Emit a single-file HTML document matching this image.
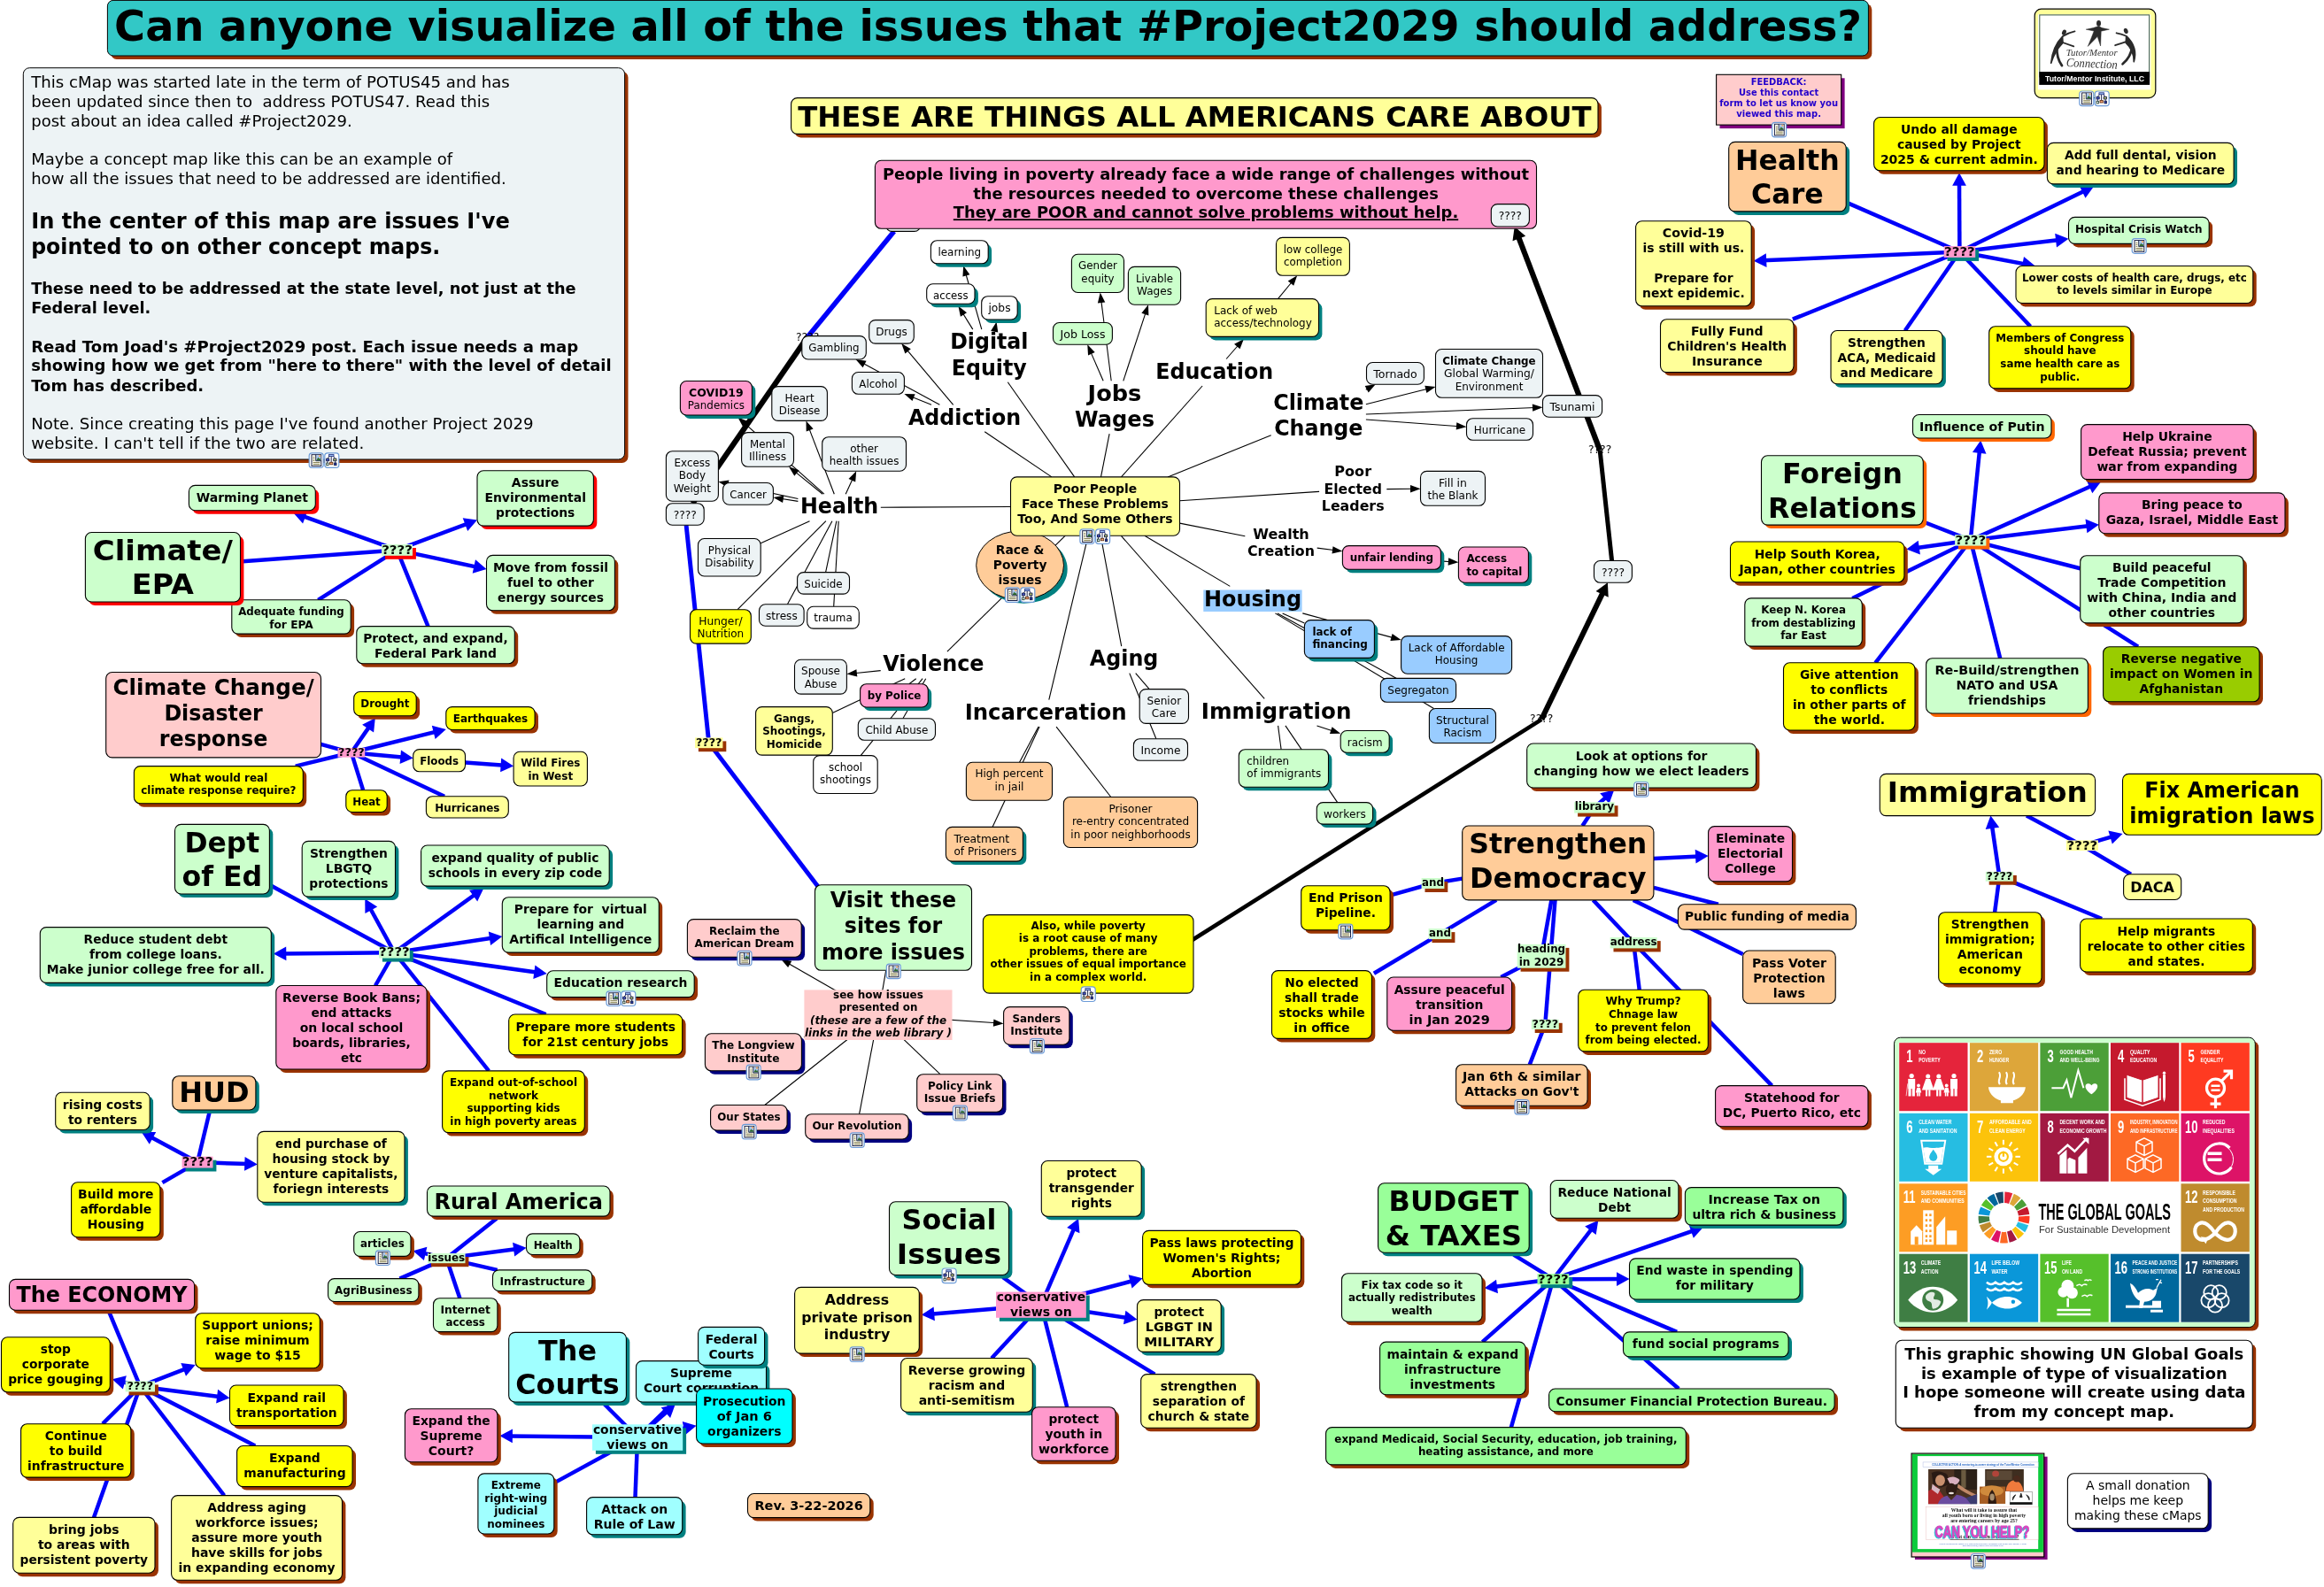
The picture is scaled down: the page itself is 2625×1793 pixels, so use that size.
<!DOCTYPE html><html><head><meta charset="utf-8"><title>Project2029 concept map</title><style>html,body{margin:0;padding:0;background:#fff}svg{display:block;font-family:'DejaVu Sans','Liberation Sans',sans-serif;will-change:transform;-webkit-font-smoothing:antialiased}</style></head><body>
<svg width="2625" height="1793" viewBox="0 0 2625 1793">
<rect width="2625" height="1793" fill="#fff"/>
<g stroke-linecap="butt">
<line x1="274.0" y1="634.2" x2="448.5" y2="621.4" stroke="#0000FA" stroke-width="4.5"/>
<line x1="448.5" y1="621.4" x2="340.7" y2="582.6" stroke="#0000FA" stroke-width="4.5"/><polygon points="331.2,579.2 347.5,576.7 342.1,591.5" fill="#0000FA"/>
<line x1="448.5" y1="621.4" x2="529.5" y2="591.1" stroke="#0000FA" stroke-width="4.5"/><polygon points="539.0,587.5 528.2,600.0 522.7,585.3" fill="#0000FA"/>
<line x1="448.5" y1="621.4" x2="539.6" y2="640.9" stroke="#0000FA" stroke-width="4.5"/><polygon points="549.5,643.1 533.7,647.7 537.0,632.3" fill="#0000FA"/>
<line x1="448.5" y1="621.4" x2="359.3" y2="677.8" stroke="#0000FA" stroke-width="4.5"/>
<line x1="448.5" y1="621.4" x2="483.5" y2="707.6" stroke="#0000FA" stroke-width="4.5"/>
<line x1="362.5" y1="840.9" x2="396.9" y2="850.3" stroke="#0000FA" stroke-width="4.5"/>
<line x1="396.9" y1="850.3" x2="418.1" y2="819.6" stroke="#0000FA" stroke-width="4.5"/><polygon points="423.8,811.2 422.1,827.6 409.1,818.7" fill="#0000FA"/>
<line x1="396.9" y1="850.3" x2="493.9" y2="826.4" stroke="#0000FA" stroke-width="4.5"/><polygon points="503.8,823.9 491.6,835.0 487.8,819.8" fill="#0000FA"/>
<line x1="396.9" y1="850.3" x2="456.6" y2="855.7" stroke="#0000FA" stroke-width="4.5"/><polygon points="466.7,856.6 451.6,863.1 453.0,847.4" fill="#0000FA"/>
<line x1="525.5" y1="861.4" x2="570.0" y2="864.8" stroke="#0000FA" stroke-width="4.5"/><polygon points="580.1,865.5 565.1,872.3 566.2,856.6" fill="#0000FA"/>
<line x1="396.9" y1="850.3" x2="333.8" y2="865.6" stroke="#0000FA" stroke-width="4.5"/>
<line x1="396.9" y1="850.3" x2="410.1" y2="892.7" stroke="#0000FA" stroke-width="4.5"/>
<line x1="396.9" y1="850.3" x2="502.0" y2="899.7" stroke="#0000FA" stroke-width="4.5"/>
<line x1="306.9" y1="1001.1" x2="445.4" y2="1076.2" stroke="#0000FA" stroke-width="4.5"/>
<line x1="445.4" y1="1076.2" x2="417.2" y2="1024.5" stroke="#0000FA" stroke-width="4.5"/><polygon points="412.3,1015.6 426.2,1024.6 412.4,1032.1" fill="#0000FA"/>
<line x1="445.4" y1="1076.2" x2="538.1" y2="1009.5" stroke="#0000FA" stroke-width="4.5"/><polygon points="546.4,1003.6 539.2,1018.4 530.0,1005.7" fill="#0000FA"/>
<line x1="445.4" y1="1076.2" x2="557.3" y2="1059.6" stroke="#0000FA" stroke-width="4.5"/><polygon points="567.3,1058.1 554.1,1068.0 551.8,1052.4" fill="#0000FA"/>
<line x1="445.4" y1="1076.2" x2="318.9" y2="1077.5" stroke="#0000FA" stroke-width="4.5"/><polygon points="308.8,1077.6 323.2,1069.6 323.4,1085.3" fill="#0000FA"/>
<line x1="445.4" y1="1076.2" x2="607.6" y2="1098.7" stroke="#0000FA" stroke-width="4.5"/><polygon points="617.7,1100.1 602.3,1105.9 604.4,1090.4" fill="#0000FA"/>
<line x1="445.4" y1="1076.2" x2="424.0" y2="1113.5" stroke="#0000FA" stroke-width="4.5"/>
<line x1="445.4" y1="1076.2" x2="616.6" y2="1146.0" stroke="#0000FA" stroke-width="4.5"/>
<line x1="445.4" y1="1076.2" x2="552.1" y2="1209.9" stroke="#0000FA" stroke-width="4.5"/>
<line x1="236.6" y1="1256.5" x2="223.1" y2="1313.1" stroke="#0000FA" stroke-width="4.5"/>
<line x1="223.1" y1="1313.1" x2="168.7" y2="1283.8" stroke="#0000FA" stroke-width="4.5"/><polygon points="159.8,1279.0 176.2,1279.0 168.8,1292.8" fill="#0000FA"/>
<line x1="223.1" y1="1313.1" x2="280.7" y2="1315.1" stroke="#0000FA" stroke-width="4.5"/><polygon points="290.8,1315.4 276.0,1322.8 276.6,1307.1" fill="#0000FA"/>
<line x1="223.1" y1="1313.1" x2="183.4" y2="1336.1" stroke="#0000FA" stroke-width="4.5"/>
<line x1="561.1" y1="1376.6" x2="504.2" y2="1421.6" stroke="#0000FA" stroke-width="4.5"/>
<line x1="504.2" y1="1421.6" x2="476.4" y2="1415.4" stroke="#0000FA" stroke-width="4.5"/><polygon points="466.5,1413.2 482.4,1408.7 478.9,1424.0" fill="#0000FA"/>
<line x1="504.2" y1="1421.6" x2="584.4" y2="1411.0" stroke="#0000FA" stroke-width="4.5"/><polygon points="594.5,1409.7 581.2,1419.4 579.1,1403.8" fill="#0000FA"/>
<line x1="504.2" y1="1421.6" x2="561.7" y2="1434.9" stroke="#0000FA" stroke-width="4.5"/>
<line x1="504.2" y1="1421.6" x2="451.5" y2="1444.6" stroke="#0000FA" stroke-width="4.5"/>
<line x1="504.2" y1="1421.6" x2="519.4" y2="1466.7" stroke="#0000FA" stroke-width="4.5"/>
<line x1="123.4" y1="1482.7" x2="158.3" y2="1566.4" stroke="#0000FA" stroke-width="4.5"/>
<line x1="158.3" y1="1566.4" x2="136.6" y2="1560.8" stroke="#0000FA" stroke-width="4.5"/><polygon points="126.8,1558.3 142.8,1554.3 138.9,1569.5" fill="#0000FA"/>
<line x1="158.3" y1="1566.4" x2="211.2" y2="1545.8" stroke="#0000FA" stroke-width="4.5"/><polygon points="220.7,1542.1 210.0,1554.7 204.3,1540.1" fill="#0000FA"/>
<line x1="158.3" y1="1566.4" x2="249.4" y2="1578.2" stroke="#0000FA" stroke-width="4.5"/><polygon points="259.5,1579.5 244.1,1585.4 246.1,1569.8" fill="#0000FA"/>
<line x1="158.3" y1="1566.4" x2="116.0" y2="1608.7" stroke="#0000FA" stroke-width="4.5"/>
<line x1="158.3" y1="1566.4" x2="106.0" y2="1714.4" stroke="#0000FA" stroke-width="4.5"/>
<line x1="158.3" y1="1566.4" x2="288.2" y2="1633.5" stroke="#0000FA" stroke-width="4.5"/>
<line x1="158.3" y1="1566.4" x2="253.2" y2="1689.6" stroke="#0000FA" stroke-width="4.5"/>
<line x1="682.7" y1="1586.5" x2="720.1" y2="1624.0" stroke="#0000FA" stroke-width="4.5"/>
<line x1="720.1" y1="1624.0" x2="794.3" y2="1551.8" stroke="#0000FA" stroke-width="4.5"/><polygon points="801.6,1544.7 796.7,1560.4 785.7,1549.2" fill="#0000FA"/>
<line x1="720.1" y1="1624.0" x2="755.2" y2="1593.2" stroke="#0000FA" stroke-width="4.5"/><polygon points="762.8,1586.5 757.1,1602.0 746.7,1590.2" fill="#0000FA"/>
<line x1="720.1" y1="1624.0" x2="776.6" y2="1612.8" stroke="#0000FA" stroke-width="4.5"/><polygon points="786.6,1610.8 773.9,1621.3 770.8,1605.9" fill="#0000FA"/>
<line x1="720.1" y1="1624.0" x2="574.5" y2="1622.4" stroke="#0000FA" stroke-width="4.5"/><polygon points="564.4,1622.3 579.0,1614.6 578.8,1630.3" fill="#0000FA"/>
<line x1="720.1" y1="1624.0" x2="628.3" y2="1674.1" stroke="#0000FA" stroke-width="4.5"/>
<line x1="720.1" y1="1624.0" x2="717.5" y2="1691.6" stroke="#0000FA" stroke-width="4.5"/>
<line x1="1141.5" y1="572.5" x2="994.8" y2="573.2" stroke="#000" stroke-width="1.1"/>
<line x1="1187.9" y1="538.9" x2="1112.2" y2="487.8" stroke="#000" stroke-width="1.1"/>
<line x1="1213.7" y1="538.9" x2="1138.3" y2="431.8" stroke="#000" stroke-width="1.1"/>
<line x1="1243.5" y1="538.9" x2="1253.1" y2="490.2" stroke="#000" stroke-width="1.1"/>
<line x1="1266.5" y1="538.9" x2="1358.1" y2="436.0" stroke="#000" stroke-width="1.1"/>
<line x1="1319.0" y1="538.9" x2="1435.7" y2="491.7" stroke="#000" stroke-width="1.1"/>
<line x1="1332.5" y1="565.8" x2="1490.1" y2="555.4" stroke="#000" stroke-width="1.1"/>
<line x1="1332.5" y1="591.1" x2="1406.3" y2="605.8" stroke="#000" stroke-width="1.1"/>
<line x1="1292.9" y1="605.2" x2="1389.3" y2="662.4" stroke="#000" stroke-width="1.1"/>
<line x1="1266.2" y1="605.2" x2="1428.2" y2="789.4" stroke="#000" stroke-width="1.1"/>
<line x1="1243.2" y1="605.2" x2="1266.7" y2="730.1" stroke="#000" stroke-width="1.1"/>
<line x1="1229.1" y1="605.2" x2="1184.8" y2="790.6" stroke="#000" stroke-width="1.1"/>
<line x1="1203.3" y1="605.2" x2="1069.9" y2="736.2" stroke="#000" stroke-width="1.1"/>
<line x1="930.9" y1="558.2" x2="839.4" y2="476.8" stroke="#000" stroke-width="1.1"/><polygon points="833.4,471.5 844.8,476.0 839.2,482.3" fill="#000"/>
<line x1="942.3" y1="558.2" x2="913.4" y2="482.9" stroke="#000" stroke-width="1.1"/><polygon points="910.5,475.4 918.6,484.6 910.7,487.6" fill="#000"/>
<line x1="929.2" y1="558.2" x2="897.3" y2="532.4" stroke="#000" stroke-width="1.1"/><polygon points="891.0,527.3 902.6,531.3 897.3,537.8" fill="#000"/>
<line x1="955.2" y1="558.2" x2="963.8" y2="539.5" stroke="#000" stroke-width="1.1"/><polygon points="967.2,532.2 966.2,544.4 958.5,540.9" fill="#000"/>
<line x1="901.4" y1="563.5" x2="819.3" y2="545.9" stroke="#000" stroke-width="1.1"/><polygon points="811.4,544.2 823.5,542.5 821.8,550.8" fill="#000"/>
<line x1="901.4" y1="566.4" x2="881.4" y2="563.3" stroke="#000" stroke-width="1.1"/><polygon points="873.4,562.1 885.4,559.7 884.1,568.0" fill="#000"/>
<line x1="914.5" y1="588.7" x2="859.2" y2="613.7" stroke="#000" stroke-width="1.1"/>
<line x1="944.9" y1="588.7" x2="932.6" y2="646.6" stroke="#000" stroke-width="1.1"/>
<line x1="939.9" y1="588.7" x2="889.4" y2="682.8" stroke="#000" stroke-width="1.1"/>
<line x1="947.2" y1="588.7" x2="941.7" y2="685.3" stroke="#000" stroke-width="1.1"/>
<line x1="932.9" y1="588.7" x2="833.1" y2="688.7" stroke="#000" stroke-width="1.1"/>
<line x1="1076.7" y1="457.3" x2="1023.4" y2="394.2" stroke="#000" stroke-width="1.1"/><polygon points="1018.2,388.1 1028.8,394.2 1022.4,399.6" fill="#000"/>
<line x1="1061.4" y1="457.3" x2="973.6" y2="409.8" stroke="#000" stroke-width="1.1"/><polygon points="966.5,406.0 978.6,407.8 974.6,415.2" fill="#000"/>
<line x1="1052.0" y1="457.3" x2="1028.9" y2="447.9" stroke="#000" stroke-width="1.1"/><polygon points="1021.4,444.9 1033.6,445.3 1030.5,453.1" fill="#000"/>
<line x1="1108.8" y1="372.1" x2="1090.5" y2="308.0" stroke="#000" stroke-width="1.1"/><polygon points="1088.2,300.3 1095.4,310.2 1087.4,312.5" fill="#000"/>
<line x1="1098.8" y1="372.1" x2="1086.6" y2="352.5" stroke="#000" stroke-width="1.1"/><polygon points="1082.4,345.7 1092.0,353.3 1084.9,357.7" fill="#000"/>
<line x1="1123.7" y1="372.1" x2="1123.9" y2="371.4" stroke="#000" stroke-width="1.1"/><polygon points="1125.6,363.5 1127.3,375.6 1119.1,373.9" fill="#000"/>
<line x1="1255.2" y1="430.3" x2="1243.7" y2="338.5" stroke="#000" stroke-width="1.1"/><polygon points="1242.7,330.5 1248.3,341.4 1239.9,342.4" fill="#000"/>
<line x1="1268.8" y1="430.3" x2="1294.5" y2="351.9" stroke="#000" stroke-width="1.1"/><polygon points="1297.0,344.2 1297.4,356.4 1289.4,353.8" fill="#000"/>
<line x1="1246.1" y1="430.3" x2="1231.5" y2="396.6" stroke="#000" stroke-width="1.1"/><polygon points="1228.3,389.2 1236.7,398.1 1229.0,401.4" fill="#000"/>
<line x1="1385.1" y1="405.5" x2="1399.6" y2="389.0" stroke="#000" stroke-width="1.1"/><polygon points="1404.9,382.9 1400.5,394.3 1394.1,388.8" fill="#000"/>
<line x1="1443.5" y1="337.6" x2="1460.1" y2="317.5" stroke="#000" stroke-width="1.1"/><polygon points="1465.2,311.3 1461.2,322.8 1454.7,317.5" fill="#000"/>
<line x1="1542.8" y1="440.3" x2="1546.7" y2="438.1" stroke="#000" stroke-width="1.1"/><polygon points="1553.7,434.2 1545.7,443.5 1541.7,436.1" fill="#000"/>
<line x1="1542.9" y1="456.7" x2="1613.7" y2="439.0" stroke="#000" stroke-width="1.1"/><polygon points="1621.5,437.0 1611.4,443.9 1609.3,435.7" fill="#000"/>
<line x1="1542.9" y1="468.0" x2="1734.5" y2="460.5" stroke="#000" stroke-width="1.1"/><polygon points="1742.5,460.2 1731.2,464.8 1730.8,456.5" fill="#000"/>
<line x1="1542.9" y1="474.0" x2="1648.5" y2="481.7" stroke="#000" stroke-width="1.1"/><polygon points="1656.5,482.3 1644.7,485.6 1645.3,477.2" fill="#000"/>
<line x1="1566.3" y1="552.6" x2="1596.5" y2="552.3" stroke="#000" stroke-width="1.1"/><polygon points="1604.5,552.2 1593.0,556.5 1593.0,548.1" fill="#000"/>
<line x1="1487.7" y1="619.1" x2="1508.4" y2="621.8" stroke="#000" stroke-width="1.1"/><polygon points="1516.4,622.8 1504.5,625.5 1505.5,617.2" fill="#000"/>
<line x1="1629.9" y1="634.1" x2="1639.4" y2="634.7" stroke="#000" stroke-width="1.1"/><polygon points="1647.4,635.3 1635.6,638.7 1636.2,630.3" fill="#000"/>
<line x1="1448.6" y1="692.9" x2="1473.4" y2="704.1" stroke="#000" stroke-width="1.1"/>
<line x1="1471.3" y1="692.9" x2="1574.8" y2="720.9" stroke="#000" stroke-width="1.1"/><polygon points="1582.6,723.0 1570.4,724.0 1572.6,715.9" fill="#000"/>
<line x1="1442.9" y1="692.9" x2="1577.4" y2="766.4" stroke="#000" stroke-width="1.1"/>
<line x1="1440.4" y1="692.9" x2="1619.5" y2="800.5" stroke="#000" stroke-width="1.1"/>
<line x1="1487.5" y1="819.9" x2="1506.6" y2="826.2" stroke="#000" stroke-width="1.1"/><polygon points="1514.2,828.8 1502.0,829.1 1504.6,821.2" fill="#000"/>
<line x1="1443.6" y1="819.9" x2="1447.1" y2="846.7" stroke="#000" stroke-width="1.1"/>
<line x1="1451.9" y1="819.9" x2="1510.7" y2="906.6" stroke="#000" stroke-width="1.1"/>
<line x1="1282.7" y1="760.6" x2="1298.2" y2="778.6" stroke="#000" stroke-width="1.1"/>
<line x1="1275.8" y1="760.6" x2="1305.9" y2="834.7" stroke="#000" stroke-width="1.1"/>
<line x1="1173.0" y1="821.1" x2="1151.5" y2="861.3" stroke="#000" stroke-width="1.1"/>
<line x1="1174.1" y1="821.1" x2="1121.0" y2="934.4" stroke="#000" stroke-width="1.1"/>
<line x1="1193.1" y1="821.1" x2="1254.8" y2="900.5" stroke="#000" stroke-width="1.1"/>
<line x1="994.7" y1="757.6" x2="964.4" y2="760.8" stroke="#000" stroke-width="1.1"/><polygon points="956.4,761.6 967.4,756.3 968.3,764.6" fill="#000"/>
<line x1="1034.7" y1="766.7" x2="1026.9" y2="772.7" stroke="#000" stroke-width="1.1"/>
<line x1="1022.2" y1="766.7" x2="940.3" y2="805.4" stroke="#000" stroke-width="1.1"/>
<line x1="1045.7" y1="766.7" x2="1019.9" y2="811.8" stroke="#000" stroke-width="1.1"/>
<line x1="1042.1" y1="766.7" x2="972.2" y2="853.6" stroke="#000" stroke-width="1.1"/>
<line x1="1009.8" y1="261.4" x2="912.1" y2="380.7" stroke="#0000FA" stroke-width="5.6"/>
<line x1="912.1" y1="380.7" x2="782.3" y2="568.7" stroke="#000" stroke-width="6.2"/>
<line x1="775.1" y1="593.2" x2="800.7" y2="839.3" stroke="#0000FA" stroke-width="4.9"/>
<line x1="800.7" y1="839.3" x2="925.0" y2="1003.0" stroke="#0000FA" stroke-width="4.9"/>
<line x1="1340.0" y1="1066.3" x2="1741.2" y2="812.9" stroke="#000" stroke-width="4.6"/>
<line x1="1741.2" y1="812.6" x2="1811.5" y2="667.4" stroke="#000" stroke-width="6.0"/><polygon points="1815.9,658.3 1816.7,674.8 1802.6,667.9" fill="#000"/>
<line x1="1820.6" y1="633.5" x2="1807.1" y2="508.6" stroke="#000" stroke-width="5.0"/>
<line x1="1807.1" y1="508.6" x2="1714.3" y2="265.5" stroke="#000" stroke-width="6.2"/><polygon points="1710.7,256.0 1723.2,266.7 1708.5,272.3" fill="#000"/>
<line x1="1000.7" y1="1096.3" x2="992.0" y2="1146.7" stroke="#000" stroke-width="1.1"/>
<line x1="992.0" y1="1146.7" x2="889.2" y2="1087.7" stroke="#000" stroke-width="1.1"/><polygon points="882.2,1083.7 894.3,1085.8 890.1,1093.1" fill="#000"/>
<line x1="992.0" y1="1146.7" x2="1125.6" y2="1155.8" stroke="#000" stroke-width="1.1"/><polygon points="1133.6,1156.4 1121.8,1159.8 1122.4,1151.4" fill="#000"/>
<line x1="992.0" y1="1146.7" x2="907.9" y2="1171.8" stroke="#000" stroke-width="1.1"/>
<line x1="992.0" y1="1146.7" x2="863.8" y2="1248.5" stroke="#000" stroke-width="1.1"/>
<line x1="992.0" y1="1146.7" x2="970.6" y2="1258.7" stroke="#000" stroke-width="1.1"/>
<line x1="992.0" y1="1146.7" x2="1061.9" y2="1213.7" stroke="#000" stroke-width="1.1"/>
<line x1="1132.7" y1="1443.0" x2="1175.9" y2="1474.2" stroke="#0000FA" stroke-width="4.5"/>
<line x1="1175.9" y1="1474.2" x2="1214.0" y2="1386.1" stroke="#0000FA" stroke-width="4.5"/><polygon points="1218.1,1376.8 1219.5,1393.2 1205.1,1387.0" fill="#0000FA"/>
<line x1="1175.9" y1="1474.2" x2="1280.8" y2="1446.8" stroke="#0000FA" stroke-width="4.5"/><polygon points="1290.6,1444.2 1278.6,1455.5 1274.6,1440.3" fill="#0000FA"/>
<line x1="1175.9" y1="1474.2" x2="1274.5" y2="1489.2" stroke="#0000FA" stroke-width="4.5"/><polygon points="1284.5,1490.8 1269.0,1496.3 1271.4,1480.8" fill="#0000FA"/>
<line x1="1175.9" y1="1474.2" x2="1050.9" y2="1484.7" stroke="#0000FA" stroke-width="4.5"/><polygon points="1040.8,1485.6 1054.6,1476.6 1055.9,1492.2" fill="#0000FA"/>
<line x1="1175.9" y1="1474.2" x2="1120.1" y2="1534.5" stroke="#0000FA" stroke-width="4.5"/>
<line x1="1175.9" y1="1474.2" x2="1205.2" y2="1589.7" stroke="#0000FA" stroke-width="4.5"/>
<line x1="1175.9" y1="1474.2" x2="1304.3" y2="1552.6" stroke="#0000FA" stroke-width="4.5"/>
<line x1="2087.7" y1="229.6" x2="2213.4" y2="284.5" stroke="#0000FA" stroke-width="4.5"/>
<line x1="2213.4" y1="284.5" x2="2213.0" y2="205.4" stroke="#0000FA" stroke-width="4.5"/><polygon points="2213.0,195.3 2220.9,209.8 2205.2,209.8" fill="#0000FA"/>
<line x1="2213.4" y1="284.5" x2="2355.9" y2="214.9" stroke="#0000FA" stroke-width="4.5"/><polygon points="2365.1,210.4 2355.5,223.8 2348.6,209.7" fill="#0000FA"/>
<line x1="2213.4" y1="284.5" x2="2326.4" y2="271.0" stroke="#0000FA" stroke-width="4.5"/><polygon points="2336.5,269.8 2323.0,279.4 2321.2,263.8" fill="#0000FA"/>
<line x1="2213.4" y1="284.5" x2="2288.9" y2="298.6" stroke="#0000FA" stroke-width="4.5"/><polygon points="2298.8,300.5 2283.1,305.5 2286.0,290.1" fill="#0000FA"/>
<line x1="2213.4" y1="284.5" x2="1990.8" y2="294.3" stroke="#0000FA" stroke-width="4.5"/><polygon points="1980.7,294.8 1994.8,286.3 1995.5,302.0" fill="#0000FA"/>
<line x1="2213.4" y1="284.5" x2="2024.9" y2="360.7" stroke="#0000FA" stroke-width="4.5"/>
<line x1="2213.4" y1="284.5" x2="2151.8" y2="373.5" stroke="#0000FA" stroke-width="4.5"/>
<line x1="2213.4" y1="284.5" x2="2293.4" y2="368.7" stroke="#0000FA" stroke-width="4.5"/>
<line x1="2174.8" y1="590.5" x2="2225.8" y2="610.4" stroke="#0000FA" stroke-width="4.5"/>
<line x1="2225.8" y1="610.4" x2="2236.1" y2="507.6" stroke="#0000FA" stroke-width="4.5"/><polygon points="2237.2,497.5 2243.5,512.7 2227.9,511.1" fill="#0000FA"/>
<line x1="2225.8" y1="610.4" x2="2364.1" y2="548.3" stroke="#0000FA" stroke-width="4.5"/><polygon points="2373.3,544.1 2363.3,557.2 2356.9,542.9" fill="#0000FA"/>
<line x1="2225.8" y1="610.4" x2="2360.7" y2="593.9" stroke="#0000FA" stroke-width="4.5"/><polygon points="2370.8,592.7 2357.4,602.2 2355.5,586.6" fill="#0000FA"/>
<line x1="2225.8" y1="610.4" x2="2163.4" y2="619.2" stroke="#0000FA" stroke-width="4.5"/><polygon points="2153.4,620.6 2166.7,610.8 2168.9,626.4" fill="#0000FA"/>
<line x1="2225.8" y1="610.4" x2="2349.7" y2="642.2" stroke="#0000FA" stroke-width="4.5"/>
<line x1="2225.8" y1="610.4" x2="2092.3" y2="675.9" stroke="#0000FA" stroke-width="4.5"/>
<line x1="2225.8" y1="610.4" x2="2118.3" y2="748.8" stroke="#0000FA" stroke-width="4.5"/>
<line x1="2225.8" y1="610.4" x2="2259.2" y2="743.7" stroke="#0000FA" stroke-width="4.5"/>
<line x1="2225.8" y1="610.4" x2="2415.0" y2="730.7" stroke="#0000FA" stroke-width="4.5"/>
<line x1="1787.4" y1="933.0" x2="1800.9" y2="912.4" stroke="#0000FA" stroke-width="4.5"/>
<line x1="1800.9" y1="912.4" x2="1815.7" y2="899.3" stroke="#0000FA" stroke-width="4.5"/><polygon points="1823.2,892.5 1817.6,908.0 1807.2,896.3" fill="#0000FA"/>
<line x1="1867.9" y1="969.9" x2="1919.5" y2="967.5" stroke="#0000FA" stroke-width="4.5"/><polygon points="1929.6,967.0 1915.5,975.5 1914.7,959.8" fill="#0000FA"/>
<line x1="1651.7" y1="992.6" x2="1618.5" y2="998.0" stroke="#0000FA" stroke-width="4.5"/>
<line x1="1618.5" y1="998.0" x2="1572.6" y2="1010.9" stroke="#0000FA" stroke-width="4.5"/>
<line x1="1690.1" y1="1016.9" x2="1626.5" y2="1055.1" stroke="#0000FA" stroke-width="4.5"/>
<line x1="1626.5" y1="1055.1" x2="1551.9" y2="1099.7" stroke="#0000FA" stroke-width="4.5"/>
<line x1="1752.4" y1="1016.9" x2="1741.1" y2="1080.3" stroke="#0000FA" stroke-width="4.5"/>
<line x1="1741.1" y1="1080.3" x2="1695.4" y2="1104.0" stroke="#0000FA" stroke-width="4.5"/>
<line x1="1756.5" y1="1016.9" x2="1745.3" y2="1157.4" stroke="#0000FA" stroke-width="4.5"/>
<line x1="1745.3" y1="1157.4" x2="1727.8" y2="1202.7" stroke="#0000FA" stroke-width="4.5"/>
<line x1="1799.5" y1="1016.9" x2="1845.2" y2="1065.2" stroke="#0000FA" stroke-width="4.5"/>
<line x1="1845.2" y1="1065.2" x2="1851.7" y2="1118.2" stroke="#0000FA" stroke-width="4.5"/>
<line x1="1845.2" y1="1065.2" x2="2001.4" y2="1226.6" stroke="#0000FA" stroke-width="4.5"/>
<line x1="1867.9" y1="1002.9" x2="1940.9" y2="1021.7" stroke="#0000FA" stroke-width="4.5"/>
<line x1="1844.8" y1="1016.9" x2="1968.6" y2="1078.0" stroke="#0000FA" stroke-width="4.5"/>
<line x1="2258.4" y1="990.3" x2="2249.8" y2="931.6" stroke="#0000FA" stroke-width="4.5"/><polygon points="2248.4,921.6 2258.2,934.8 2242.7,937.1" fill="#0000FA"/>
<line x1="2253.1" y1="1030.7" x2="2258.4" y2="990.3" stroke="#0000FA" stroke-width="4.5"/>
<line x1="2258.4" y1="990.3" x2="2374.1" y2="1038.0" stroke="#0000FA" stroke-width="4.5"/>
<line x1="2289.0" y1="921.6" x2="2351.9" y2="955.2" stroke="#0000FA" stroke-width="4.5"/>
<line x1="2351.9" y1="955.2" x2="2387.8" y2="944.7" stroke="#0000FA" stroke-width="4.5"/><polygon points="2397.5,941.9 2385.8,953.5 2381.4,938.4" fill="#0000FA"/>
<line x1="2351.9" y1="955.2" x2="2406.9" y2="987.8" stroke="#0000FA" stroke-width="4.5"/>
<line x1="1709.7" y1="1417.7" x2="1754.4" y2="1445.2" stroke="#0000FA" stroke-width="4.5"/>
<line x1="1754.4" y1="1445.2" x2="1799.1" y2="1386.9" stroke="#0000FA" stroke-width="4.5"/><polygon points="1805.3,1378.8 1802.7,1395.1 1790.2,1385.5" fill="#0000FA"/>
<line x1="1754.4" y1="1445.2" x2="1914.3" y2="1389.9" stroke="#0000FA" stroke-width="4.5"/><polygon points="1923.9,1386.6 1912.8,1398.8 1907.7,1383.9" fill="#0000FA"/>
<line x1="1754.4" y1="1445.2" x2="1830.4" y2="1445.1" stroke="#0000FA" stroke-width="4.5"/><polygon points="1840.5,1445.1 1826.0,1453.0 1826.0,1437.3" fill="#0000FA"/>
<line x1="1754.4" y1="1445.2" x2="1686.7" y2="1454.0" stroke="#0000FA" stroke-width="4.5"/><polygon points="1676.6,1455.3 1690.0,1445.7 1692.0,1461.2" fill="#0000FA"/>
<line x1="1754.4" y1="1445.2" x2="1894.1" y2="1504.9" stroke="#0000FA" stroke-width="4.5"/>
<line x1="1754.4" y1="1445.2" x2="1896.1" y2="1569.0" stroke="#0000FA" stroke-width="4.5"/>
<line x1="1754.4" y1="1445.2" x2="1674.4" y2="1516.1" stroke="#0000FA" stroke-width="4.5"/>
<line x1="1754.4" y1="1445.2" x2="1706.9" y2="1612.6" stroke="#0000FA" stroke-width="4.5"/>
</g>
<rect x="125.3" y="4.4" width="1989.0" height="62.6" rx="6.5" fill="#993300"/><rect x="121.4" y="0.4" width="1989.0" height="62.6" rx="6.5" fill="#32C8C6" stroke="#000" stroke-width="1"/><text x="129.1" y="46.1" font-size="48" font-weight="bold" textLength="1974" lengthAdjust="spacingAndGlyphs">Can anyone visualize all of the issues that #Project2029 should address?</text>
<rect x="30.2" y="80.7" width="679.3" height="442.3" rx="7" fill="#993300"/><rect x="26.3" y="76.7" width="679.3" height="442.3" rx="7" fill="#EDF3F5" stroke="#000" stroke-width="1"/><text x="35.2" y="98.8" font-size="18" font-weight="normal" textLength="540.6" lengthAdjust="spacingAndGlyphs" xml:space="preserve">This cMap was started late in the term of POTUS45 and has</text><text x="35.2" y="120.8" font-size="18" font-weight="normal" textLength="518.0" lengthAdjust="spacingAndGlyphs" xml:space="preserve">been updated since then to  address POTUS47. Read this</text><text x="35.2" y="142.9" font-size="18" font-weight="normal" textLength="362.5" lengthAdjust="spacingAndGlyphs" xml:space="preserve">post about an idea called #Project2029.</text><text x="35.2" y="186.3" font-size="18" font-weight="normal" textLength="476.0" lengthAdjust="spacingAndGlyphs" xml:space="preserve">Maybe a concept map like this can be an example of</text><text x="35.2" y="208.4" font-size="18" font-weight="normal" textLength="536.5" lengthAdjust="spacingAndGlyphs" xml:space="preserve">how all the issues that need to be addressed are identified.</text><text x="35.2" y="257.5" font-size="24" font-weight="bold" textLength="540.6" lengthAdjust="spacingAndGlyphs" xml:space="preserve">In the center of this map are issues I've</text><text x="35.2" y="286.6" font-size="24" font-weight="bold" textLength="462.0" lengthAdjust="spacingAndGlyphs" xml:space="preserve">pointed to on other concept maps.</text><text x="35.2" y="331.9" font-size="18" font-weight="bold" textLength="615.4" lengthAdjust="spacingAndGlyphs" xml:space="preserve">These need to be addressed at the state level, not just at the</text><text x="35.2" y="354.0" font-size="18" font-weight="bold" textLength="135.0" lengthAdjust="spacingAndGlyphs" xml:space="preserve">Federal level.</text><text x="35.2" y="397.8" font-size="18" font-weight="bold" textLength="618.0" lengthAdjust="spacingAndGlyphs" xml:space="preserve">Read Tom Joad's #Project2029 post. Each issue needs a map</text><text x="35.2" y="419.4" font-size="18" font-weight="bold" textLength="655.5" lengthAdjust="spacingAndGlyphs" xml:space="preserve">showing how we get from "here to there" with the level of detail</text><text x="35.2" y="441.5" font-size="18" font-weight="bold" textLength="195.0" lengthAdjust="spacingAndGlyphs" xml:space="preserve">Tom has described.</text><text x="35.2" y="485.3" font-size="18" font-weight="normal" textLength="567.5" lengthAdjust="spacingAndGlyphs" xml:space="preserve">Note. Since creating this page I've found another Project 2029</text><text x="35.2" y="507.0" font-size="18" font-weight="normal" textLength="376.0" lengthAdjust="spacingAndGlyphs" xml:space="preserve">website. I can't tell if the two are related.</text>
<rect x="2143.4" y="1176.2" width="407.8" height="327.4" rx="7" fill="#993300"/><rect x="2139.5" y="1172.2" width="407.8" height="327.4" rx="7" fill="#CCFFCC" stroke="#000" stroke-width="1"/><rect x="2144.7" y="1177.8" width="396.5" height="316.2" fill="#fff"/><g transform="translate(2145.2,1178.2)"><rect width="77.3" height="77" fill="#E5243B"/><text x="8" y="22" font-size="21" font-weight="bold" fill="#fff" font-family="'Liberation Sans',sans-serif" transform="translate(8 0) scale(0.62 1) translate(-8 0)">1</text><text x="22" y="12.4" font-size="7.8" font-weight="bold" fill="#fff" font-family="'Liberation Sans',sans-serif" transform="translate(22 0) scale(0.66 1) translate(-22 0)">NO</text><text x="22" y="21.9" font-size="7.8" font-weight="bold" fill="#fff" font-family="'Liberation Sans',sans-serif" transform="translate(22 0) scale(0.66 1) translate(-22 0)">POVERTY</text><g fill="#fff"><circle cx="14" cy="37.300" r="2.600"/><rect x="10" y="40.700" width="8" height="11.200"/><rect x="10.3" y="51.500" width="3.100" height="8.800"/><rect x="14.6" y="51.500" width="3.100" height="8.800"/><circle cx="21.8" cy="48.300" r="1.900"/><path d="M20 50.700h3.600l1.400 5.600h-6.400z"/><rect x="19.9" y="56" width="1.600" height="4.300"/><rect x="22.1" y="56" width="1.600" height="4.300"/><circle cx="32.5" cy="37.700" r="2.500"/><path d="M30 40.700h5l4.300 12.600h-13.600z"/><rect x="29.8" y="53" width="2.100" height="7.300"/><rect x="33.1" y="53" width="2.100" height="7.300"/><circle cx="44.6" cy="37.700" r="2.500"/><path d="M42.1 40.700h5l4.300 12.600h-13.600z"/><rect x="41.9" y="53" width="2.100" height="7.300"/><rect x="45.2" y="53" width="2.100" height="7.300"/><circle cx="53.5" cy="48.300" r="1.900"/><path d="M51.7 50.700h3.600l1.400 5.600h-6.400z"/><rect x="51.6" y="56" width="1.600" height="4.300"/><rect x="53.8" y="56" width="1.600" height="4.300"/><circle cx="61.8" cy="37.300" r="2.600"/><rect x="57.8" y="40.700" width="8" height="11.200"/><rect x="58.1" y="51.500" width="3.100" height="8.800"/><rect x="62.4" y="51.500" width="3.100" height="8.800"/><path d="M9.600 46l-1.700 14" stroke="#fff" stroke-width="0.700"/></g></g><g transform="translate(2224.9,1178.2)"><rect width="77.3" height="77" fill="#DDA63A"/><text x="8" y="22" font-size="21" font-weight="bold" fill="#fff" font-family="'Liberation Sans',sans-serif" transform="translate(8 0) scale(0.62 1) translate(-8 0)">2</text><text x="22" y="12.4" font-size="7.8" font-weight="bold" fill="#fff" font-family="'Liberation Sans',sans-serif" transform="translate(22 0) scale(0.66 1) translate(-22 0)">ZERO</text><text x="22" y="21.9" font-size="7.8" font-weight="bold" fill="#fff" font-family="'Liberation Sans',sans-serif" transform="translate(22 0) scale(0.66 1) translate(-22 0)">HUNGER</text><path d="M21 50h42c-1 9-9 14-14 15v3h-14v-3c-5-1-13-6-14-15z" fill="#fff"/><path d="M34 47c-4-5 3-8-1-14M42 47c-4-5 3-8-1-14M50 47c-4-5 3-8-1-14" stroke="#fff" stroke-width="2" fill="none"/></g><g transform="translate(2304.4,1178.2)"><rect width="77.3" height="77" fill="#4C9F38"/><text x="8" y="22" font-size="21" font-weight="bold" fill="#fff" font-family="'Liberation Sans',sans-serif" transform="translate(8 0) scale(0.62 1) translate(-8 0)">3</text><text x="22" y="12.4" font-size="7.8" font-weight="bold" fill="#fff" font-family="'Liberation Sans',sans-serif" transform="translate(22 0) scale(0.66 1) translate(-22 0)">GOOD HEALTH</text><text x="22" y="21.9" font-size="7.8" font-weight="bold" fill="#fff" font-family="'Liberation Sans',sans-serif" transform="translate(22 0) scale(0.66 1) translate(-22 0)">AND WELL-BEING</text><path d="M13 51h13l4-9 5 20 8-31 6 20" stroke="#fff" stroke-width="2" fill="none"/><path d="M58 58c-9-6-8-12-3.5-12 2 0 3.500 2 3.500 2s1.500-2 3.500-2c4.500 0 5.500 6-3.500 12z" fill="#fff"/></g><g transform="translate(2384.0,1178.2)"><rect width="77.3" height="77" fill="#C5192D"/><text x="8" y="22" font-size="21" font-weight="bold" fill="#fff" font-family="'Liberation Sans',sans-serif" transform="translate(8 0) scale(0.62 1) translate(-8 0)">4</text><text x="22" y="12.4" font-size="7.8" font-weight="bold" fill="#fff" font-family="'Liberation Sans',sans-serif" transform="translate(22 0) scale(0.66 1) translate(-22 0)">QUALITY</text><text x="22" y="21.9" font-size="7.8" font-weight="bold" fill="#fff" font-family="'Liberation Sans',sans-serif" transform="translate(22 0) scale(0.66 1) translate(-22 0)">EDUCATION</text><path d="M18 36l18 6v26l-18-6z M54 36l-18 6v26l18-6z" fill="#fff" stroke="#C5192D" stroke-width="1"/><path d="M16 40v24l20 7 20-7v-24" fill="none" stroke="#fff" stroke-width="1.6"/><rect x="59" y="36" width="3" height="26" fill="#fff"/><path d="M59 62h3l-1.500 5z" fill="#fff"/><circle cx="60.500" cy="34" r="1.700" fill="#fff"/></g><g transform="translate(2463.5,1178.2)"><rect width="77.3" height="77" fill="#FF3A21"/><text x="8" y="22" font-size="21" font-weight="bold" fill="#fff" font-family="'Liberation Sans',sans-serif" transform="translate(8 0) scale(0.62 1) translate(-8 0)">5</text><text x="22" y="12.4" font-size="7.8" font-weight="bold" fill="#fff" font-family="'Liberation Sans',sans-serif" transform="translate(22 0) scale(0.66 1) translate(-22 0)">GENDER</text><text x="22" y="21.9" font-size="7.8" font-weight="bold" fill="#fff" font-family="'Liberation Sans',sans-serif" transform="translate(22 0) scale(0.66 1) translate(-22 0)">EQUALITY</text><circle cx="39" cy="51" r="10" fill="none" stroke="#fff" stroke-width="3.2"/><path d="M39 61v13M33 69h12M46 43l10-10M48 32h9v9" stroke="#fff" stroke-width="3.200" fill="none"/><path d="M34 48.500h10M34 53.500h10" stroke="#fff" stroke-width="2.600"/></g><g transform="translate(2145.2,1257.8)"><rect width="77.3" height="77" fill="#26BDE2"/><text x="8" y="22" font-size="21" font-weight="bold" fill="#fff" font-family="'Liberation Sans',sans-serif" transform="translate(8 0) scale(0.62 1) translate(-8 0)">6</text><text x="22" y="12.4" font-size="7.8" font-weight="bold" fill="#fff" font-family="'Liberation Sans',sans-serif" transform="translate(22 0) scale(0.66 1) translate(-22 0)">CLEAN WATER</text><text x="22" y="21.9" font-size="7.8" font-weight="bold" fill="#fff" font-family="'Liberation Sans',sans-serif" transform="translate(22 0) scale(0.66 1) translate(-22 0)">AND SANITATION</text><path d="M25 31h27l-4 26h-19z" fill="none" stroke="#fff" stroke-width="2"/><path d="M27 39c5-2 9 2 23-1l-3 18h-17z" fill="#fff"/><path d="M38.500 41c3 4 4.500 6 4.500 8.500a4.500 4.500 0 0 1-9 0c0-2.500 1.500-4.500 4.500-8.500z" fill="#26BDE2"/><path d="M33 59h11v4h4l-9.500 7-9.500-7h4z" fill="#fff"/></g><g transform="translate(2224.9,1257.8)"><rect width="77.3" height="77" fill="#FCC30B"/><text x="8" y="22" font-size="21" font-weight="bold" fill="#fff" font-family="'Liberation Sans',sans-serif" transform="translate(8 0) scale(0.62 1) translate(-8 0)">7</text><text x="22" y="12.4" font-size="7.8" font-weight="bold" fill="#fff" font-family="'Liberation Sans',sans-serif" transform="translate(22 0) scale(0.66 1) translate(-22 0)">AFFORDABLE AND</text><text x="22" y="21.9" font-size="7.8" font-weight="bold" fill="#fff" font-family="'Liberation Sans',sans-serif" transform="translate(22 0) scale(0.66 1) translate(-22 0)">CLEAN ENERGY</text><circle cx="38" cy="49" r="10.500" fill="#fff"/><circle cx="38" cy="49" r="5" fill="none" stroke="#FCC30B" stroke-width="2.200"/><path d="M38 43v6" stroke="#FCC30B" stroke-width="2.200"/><path d="M51.5 49.0L57.0 49.0" stroke="#fff" stroke-width="2"/><path d="M49.7 55.8L54.5 58.5" stroke="#fff" stroke-width="2"/><path d="M44.8 60.7L47.5 65.5" stroke="#fff" stroke-width="2"/><path d="M38.0 62.5L38.0 68.0" stroke="#fff" stroke-width="2"/><path d="M31.3 60.7L28.5 65.5" stroke="#fff" stroke-width="2"/><path d="M26.3 55.8L21.5 58.5" stroke="#fff" stroke-width="2"/><path d="M24.5 49.0L19.0 49.0" stroke="#fff" stroke-width="2"/><path d="M26.3 42.2L21.5 39.5" stroke="#fff" stroke-width="2"/><path d="M31.2 37.3L28.5 32.5" stroke="#fff" stroke-width="2"/><path d="M38.0 35.5L38.0 30.0" stroke="#fff" stroke-width="2"/><path d="M44.8 37.3L47.5 32.5" stroke="#fff" stroke-width="2"/><path d="M49.7 42.2L54.5 39.5" stroke="#fff" stroke-width="2"/></g><g transform="translate(2304.4,1257.8)"><rect width="77.3" height="77" fill="#A21942"/><text x="8" y="22" font-size="21" font-weight="bold" fill="#fff" font-family="'Liberation Sans',sans-serif" transform="translate(8 0) scale(0.62 1) translate(-8 0)">8</text><text x="22" y="12.4" font-size="7.8" font-weight="bold" fill="#fff" font-family="'Liberation Sans',sans-serif" transform="translate(22 0) scale(0.66 1) translate(-22 0)">DECENT WORK AND</text><text x="22" y="21.9" font-size="7.8" font-weight="bold" fill="#fff" font-family="'Liberation Sans',sans-serif" transform="translate(22 0) scale(0.66 1) translate(-22 0)">ECONOMIC GROWTH</text><path d="M22 48l8-7v27h-8zM33 50l7 3v15h-9v-16zM43 50l10-11v29h-10z" fill="#fff"/><path d="M20 46l11-10 8 7 14-15" stroke="#fff" stroke-width="2.600" fill="none"/><path d="M48 28h7v7z" fill="#fff"/></g><g transform="translate(2384.0,1257.8)"><rect width="77.3" height="77" fill="#FD6925"/><text x="8" y="22" font-size="21" font-weight="bold" fill="#fff" font-family="'Liberation Sans',sans-serif" transform="translate(8 0) scale(0.62 1) translate(-8 0)">9</text><text x="22" y="12.4" font-size="7.8" font-weight="bold" fill="#fff" font-family="'Liberation Sans',sans-serif" transform="translate(22 0) scale(0.66 1) translate(-22 0)" textLength="81" lengthAdjust="spacingAndGlyphs">INDUSTRY, INNOVATION</text><text x="22" y="21.9" font-size="7.8" font-weight="bold" fill="#fff" font-family="'Liberation Sans',sans-serif" transform="translate(22 0) scale(0.66 1) translate(-22 0)" textLength="81" lengthAdjust="spacingAndGlyphs">AND INFRASTRUCTURE</text><path d="M38 28l9 4.500v10.500l-9 4.500-9-4.500v-10.500zM29 32.5l9 4.500 9-4.500M38 37v10.500" fill="none" stroke="#fff" stroke-width="1.500"/><path d="M28 47l9 4.500v10.500l-9 4.500-9-4.500v-10.500zM19 51.5l9 4.500 9-4.500M28 56v10.500" fill="none" stroke="#fff" stroke-width="1.500"/><path d="M48 47l9 4.500v10.500l-9 4.500-9-4.500v-10.500zM39 51.5l9 4.500 9-4.500M48 56v10.500" fill="none" stroke="#fff" stroke-width="1.500"/></g><g transform="translate(2463.5,1257.8)"><rect width="77.3" height="77" fill="#DD1367"/><text x="4.5" y="22" font-size="21" font-weight="bold" fill="#fff" font-family="'Liberation Sans',sans-serif" transform="translate(4.5 0) scale(0.62 1) translate(-4.5 0)">10</text><text x="24.5" y="12.4" font-size="7.8" font-weight="bold" fill="#fff" font-family="'Liberation Sans',sans-serif" transform="translate(24.5 0) scale(0.66 1) translate(-24.5 0)">REDUCED</text><text x="24.5" y="21.9" font-size="7.8" font-weight="bold" fill="#fff" font-family="'Liberation Sans',sans-serif" transform="translate(24.5 0) scale(0.66 1) translate(-24.5 0)">INEQUALITIES</text><path d="M55 39a17 17 0 1 0 2 22" fill="none" stroke="#fff" stroke-width="3.200"/><path d="M50 37a17 17 0 0 1 5 26" fill="none" stroke="#fff" stroke-width="1"/><path d="M30 45.500h16M30 52.500h16" stroke="#fff" stroke-width="3.600"/></g><g transform="translate(2145.2,1337.3)"><rect width="77.3" height="77" fill="#FD9D24"/><text x="4.5" y="22" font-size="21" font-weight="bold" fill="#fff" font-family="'Liberation Sans',sans-serif" transform="translate(4.5 0) scale(0.62 1) translate(-4.5 0)">11</text><text x="24.5" y="12.4" font-size="7.8" font-weight="bold" fill="#fff" font-family="'Liberation Sans',sans-serif" transform="translate(24.5 0) scale(0.66 1) translate(-24.5 0)" textLength="77" lengthAdjust="spacingAndGlyphs">SUSTAINABLE CITIES</text><text x="24.5" y="21.9" font-size="7.8" font-weight="bold" fill="#fff" font-family="'Liberation Sans',sans-serif" transform="translate(24.5 0) scale(0.66 1) translate(-24.5 0)">AND COMMUNITIES</text><rect x="27" y="30" width="12" height="39" fill="#fff"/><path d="M42 69v-20l10-12v32z" fill="#fff"/><rect x="54" y="53" width="11" height="16" fill="#fff"/><path d="M13 54l6.500-7 6.500 7v15h-13z" fill="#fff"/><rect x="29.5" y="34" width="2.400" height="2.800" fill="#FD9D24"/><rect x="29.5" y="40" width="2.400" height="2.800" fill="#FD9D24"/><rect x="29.5" y="46" width="2.400" height="2.800" fill="#FD9D24"/><rect x="29.5" y="52" width="2.400" height="2.800" fill="#FD9D24"/><rect x="29.5" y="58" width="2.400" height="2.800" fill="#FD9D24"/><rect x="29.5" y="63" width="2.400" height="2.800" fill="#FD9D24"/><rect x="34" y="34" width="2.400" height="2.800" fill="#FD9D24"/><rect x="34" y="40" width="2.400" height="2.800" fill="#FD9D24"/><rect x="34" y="46" width="2.400" height="2.800" fill="#FD9D24"/><rect x="34" y="52" width="2.400" height="2.800" fill="#FD9D24"/><rect x="34" y="58" width="2.400" height="2.800" fill="#FD9D24"/><rect x="34" y="63" width="2.400" height="2.800" fill="#FD9D24"/><rect x="17.500" y="60" width="4" height="9" fill="#FD9D24"/></g><g transform="translate(2463.5,1337.3)"><rect width="77.3" height="77" fill="#BF8B2E"/><text x="4.5" y="22" font-size="21" font-weight="bold" fill="#fff" font-family="'Liberation Sans',sans-serif" transform="translate(4.5 0) scale(0.62 1) translate(-4.5 0)">12</text><text x="24.5" y="12.4" font-size="7.8" font-weight="bold" fill="#fff" font-family="'Liberation Sans',sans-serif" transform="translate(24.5 0) scale(0.66 1) translate(-24.5 0)">RESPONSIBLE</text><text x="24.5" y="21.9" font-size="7.8" font-weight="bold" fill="#fff" font-family="'Liberation Sans',sans-serif" transform="translate(24.5 0) scale(0.66 1) translate(-24.5 0)">CONSUMPTION</text><text x="24.5" y="31.4" font-size="7.8" font-weight="bold" fill="#fff" font-family="'Liberation Sans',sans-serif" transform="translate(24.5 0) scale(0.66 1) translate(-24.5 0)">AND PRODUCTION</text><path d="M38.500 56c-6-9-12-14-18-11-7 4-6 15 1 18 6 2 11-2 17-7 6-9 12-14 18-11 7 4 6 15-1 18-6 2-11-2-17-7z" fill="none" stroke="#fff" stroke-width="4.200"/><path d="M22 60l9 1-3 7z" fill="#fff"/></g><g transform="translate(2145.2,1416.7)"><rect width="77.3" height="77" fill="#3F7E44"/><text x="4.5" y="22" font-size="21" font-weight="bold" fill="#fff" font-family="'Liberation Sans',sans-serif" transform="translate(4.5 0) scale(0.62 1) translate(-4.5 0)">13</text><text x="24.5" y="12.4" font-size="7.8" font-weight="bold" fill="#fff" font-family="'Liberation Sans',sans-serif" transform="translate(24.5 0) scale(0.66 1) translate(-24.5 0)">CLIMATE</text><text x="24.5" y="21.9" font-size="7.8" font-weight="bold" fill="#fff" font-family="'Liberation Sans',sans-serif" transform="translate(24.5 0) scale(0.66 1) translate(-24.5 0)">ACTION</text><path d="M10 52c8-11 19-15 28-15s20 4 28 15c-8 10-19 14-28 14s-20-4-28-14z" fill="#fff"/><circle cx="38" cy="52" r="12" fill="#3F7E44"/><path d="M30 47c3-4 7-5 10-3 1 3-2 4-1 7 3 1 6 0 8 3-1 5-5 8-9 8-2-3 0-6-3-8-3-1-6-3-5-7z" fill="#fff" opacity=".85"/></g><g transform="translate(2224.9,1416.7)"><rect width="77.3" height="77" fill="#0A97D9"/><text x="4.5" y="22" font-size="21" font-weight="bold" fill="#fff" font-family="'Liberation Sans',sans-serif" transform="translate(4.5 0) scale(0.62 1) translate(-4.5 0)">14</text><text x="24.5" y="12.4" font-size="7.8" font-weight="bold" fill="#fff" font-family="'Liberation Sans',sans-serif" transform="translate(24.5 0) scale(0.66 1) translate(-24.5 0)">LIFE BELOW</text><text x="24.5" y="21.9" font-size="7.8" font-weight="bold" fill="#fff" font-family="'Liberation Sans',sans-serif" transform="translate(24.5 0) scale(0.66 1) translate(-24.5 0)">WATER</text><path d="M19 32c4 3 6 3 10 0 4 3 6 3 10 0 4 3 6 3 10 0 4 3 6 3 10 0M19 39c4 3 6 3 10 0 4 3 6 3 10 0 4 3 6 3 10 0 4 3 6 3 10 0" stroke="#fff" stroke-width="2.600" fill="none"/><path d="M19 48c3 3 5 5 6 7 8-8 24-10 34 0-10 10-26 8-34 0-1 2-3 5-6 8 2-6 2-9 0-15z" fill="#fff"/><circle cx="49" cy="54" r="2.200" fill="#0A97D9"/></g><g transform="translate(2304.4,1416.7)"><rect width="77.3" height="77" fill="#56C02B"/><text x="4.5" y="22" font-size="21" font-weight="bold" fill="#fff" font-family="'Liberation Sans',sans-serif" transform="translate(4.5 0) scale(0.62 1) translate(-4.5 0)">15</text><text x="24.5" y="12.4" font-size="7.8" font-weight="bold" fill="#fff" font-family="'Liberation Sans',sans-serif" transform="translate(24.5 0) scale(0.66 1) translate(-24.5 0)">LIFE</text><text x="24.5" y="21.9" font-size="7.8" font-weight="bold" fill="#fff" font-family="'Liberation Sans',sans-serif" transform="translate(24.5 0) scale(0.66 1) translate(-24.5 0)">ON LAND</text><path d="M19 62h38v2.500h-38zM19 67h38v2.500h-38z" fill="#fff"/><rect x="30" y="50" width="2.600" height="10" fill="#fff"/><circle cx="31" cy="36" r="7" fill="#fff"/><circle cx="26" cy="43" r="6" fill="#fff"/><circle cx="36" cy="44" r="6.500" fill="#fff"/><path d="M41 36c3-2 4-2 6 0 2-2 4-2 6-1M47 48c3-2 4-2 6 0 2-2 4-2 6-1M50 30c2-1 3-1 4 0 1-1 3-1 4 0" stroke="#fff" stroke-width="1.600" fill="none"/></g><g transform="translate(2384.0,1416.7)"><rect width="77.3" height="77" fill="#00689D"/><text x="4.5" y="22" font-size="21" font-weight="bold" fill="#fff" font-family="'Liberation Sans',sans-serif" transform="translate(4.5 0) scale(0.62 1) translate(-4.5 0)">16</text><text x="24.5" y="12.4" font-size="7.8" font-weight="bold" fill="#fff" font-family="'Liberation Sans',sans-serif" transform="translate(24.5 0) scale(0.66 1) translate(-24.5 0)" textLength="77" lengthAdjust="spacingAndGlyphs">PEACE AND JUSTICE</text><text x="24.5" y="21.9" font-size="7.8" font-weight="bold" fill="#fff" font-family="'Liberation Sans',sans-serif" transform="translate(24.5 0) scale(0.66 1) translate(-24.5 0)" textLength="77" lengthAdjust="spacingAndGlyphs">STRONG INSTITUTIONS</text><path d="M22 33c4 2 7 6 9 11 5-5 12-6 17-3l5-3-1 4c-1 8-7 12-14 12l-2 7h-4l1-8c-6-3-10-11-11-20z" fill="#fff"/><path d="M52 38l5-9M55 32l3 1M54 29l-3 0" stroke="#fff" stroke-width="1.300"/><rect x="17" y="58" width="30" height="3" fill="#fff"/><rect x="47" y="53" width="10" height="8" fill="#fff"/><rect x="45" y="63" width="14" height="3" fill="#fff"/></g><g transform="translate(2463.5,1416.7)"><rect width="77.3" height="77" fill="#19486A"/><text x="4.5" y="22" font-size="21" font-weight="bold" fill="#fff" font-family="'Liberation Sans',sans-serif" transform="translate(4.5 0) scale(0.62 1) translate(-4.5 0)">17</text><text x="24.5" y="12.4" font-size="7.8" font-weight="bold" fill="#fff" font-family="'Liberation Sans',sans-serif" transform="translate(24.5 0) scale(0.66 1) translate(-24.5 0)">PARTNERSHIPS</text><text x="24.5" y="21.9" font-size="7.8" font-weight="bold" fill="#fff" font-family="'Liberation Sans',sans-serif" transform="translate(24.5 0) scale(0.66 1) translate(-24.5 0)">FOR THE GOALS</text><circle cx="38.5" cy="58.0" r="8" fill="none" stroke="#fff" stroke-width="1.800"/><circle cx="30.9" cy="52.5" r="8" fill="none" stroke="#fff" stroke-width="1.800"/><circle cx="33.8" cy="43.5" r="8" fill="none" stroke="#fff" stroke-width="1.800"/><circle cx="43.2" cy="43.5" r="8" fill="none" stroke="#fff" stroke-width="1.800"/><circle cx="46.1" cy="52.5" r="8" fill="none" stroke="#fff" stroke-width="1.800"/><circle cx="38.500" cy="50" r="17" fill="none" stroke="#fff" stroke-width="0"/></g><path d="M2264.4 1346.5A29 29 0 0 1 2273.2 1348.2L2269.0 1359.9A16.5 16.5 0 0 0 2264.0 1359.0Z" fill="#E5243B"/><path d="M2274.8 1348.8A29 29 0 0 1 2282.4 1353.5L2274.2 1363.0A16.5 16.5 0 0 0 2269.9 1360.3Z" fill="#DDA63A"/><path d="M2283.7 1354.7A29 29 0 0 1 2289.1 1361.8L2278.0 1367.7A16.5 16.5 0 0 0 2275.0 1363.6Z" fill="#4C9F38"/><path d="M2289.8 1363.4A29 29 0 0 1 2292.3 1372.0L2279.9 1373.5A16.5 16.5 0 0 0 2278.5 1368.6Z" fill="#C5192D"/><path d="M2292.4 1373.7A29 29 0 0 1 2291.6 1382.6L2279.5 1379.5A16.5 16.5 0 0 0 2280.0 1374.5Z" fill="#FF3A21"/><path d="M2291.1 1384.3A29 29 0 0 1 2287.2 1392.3L2277.0 1385.0A16.5 16.5 0 0 0 2279.2 1380.5Z" fill="#26BDE2"/><path d="M2286.1 1393.7A29 29 0 0 1 2279.5 1399.7L2272.6 1389.3A16.5 16.5 0 0 0 2276.4 1385.8Z" fill="#FCC30B"/><path d="M2278.0 1400.6A29 29 0 0 1 2269.7 1403.8L2267.0 1391.6A16.5 16.5 0 0 0 2271.8 1389.8Z" fill="#A21942"/><path d="M2268.0 1404.2A29 29 0 0 1 2259.0 1404.2L2261.0 1391.8A16.5 16.5 0 0 0 2266.0 1391.8Z" fill="#FD6925"/><path d="M2257.3 1403.8A29 29 0 0 1 2249.0 1400.6L2255.2 1389.8A16.5 16.5 0 0 0 2260.0 1391.6Z" fill="#DD1367"/><path d="M2247.5 1399.7A29 29 0 0 1 2240.9 1393.7L2250.6 1385.8A16.5 16.5 0 0 0 2254.4 1389.3Z" fill="#FD9D24"/><path d="M2239.8 1392.3A29 29 0 0 1 2235.9 1384.3L2247.8 1380.5A16.5 16.5 0 0 0 2250.0 1385.0Z" fill="#BF8B2E"/><path d="M2235.4 1382.6A29 29 0 0 1 2234.6 1373.7L2247.0 1374.5A16.5 16.5 0 0 0 2247.5 1379.5Z" fill="#3F7E44"/><path d="M2234.7 1372.0A29 29 0 0 1 2237.2 1363.4L2248.5 1368.6A16.5 16.5 0 0 0 2247.1 1373.5Z" fill="#0A97D9"/><path d="M2237.9 1361.8A29 29 0 0 1 2243.3 1354.7L2252.0 1363.6A16.5 16.5 0 0 0 2249.0 1367.7Z" fill="#56C02B"/><path d="M2244.6 1353.5A29 29 0 0 1 2252.2 1348.8L2257.1 1360.3A16.5 16.5 0 0 0 2252.8 1363.0Z" fill="#00689D"/><path d="M2253.8 1348.2A29 29 0 0 1 2262.6 1346.5L2263.0 1359.0A16.5 16.5 0 0 0 2258.0 1359.9Z" fill="#19486A"/><text x="2302.5" y="1378" font-size="25" font-weight="bold" font-family="'Liberation Sans',sans-serif" transform="translate(2302.500 0) scale(0.6 1) translate(-2302.500 0)" textLength="249" lengthAdjust="spacingAndGlyphs">THE GLOBAL GOALS</text><text x="2303" y="1392.6" font-size="11.5" fill="#333" font-family="'Liberation Sans',sans-serif" transform="translate(2303 0) scale(0.78 1) translate(-2303 0)" textLength="190" lengthAdjust="spacingAndGlyphs">For Sustainable Development</text>
<rect x="2298.2" y="10.2" width="136.6" height="100.4" rx="7.5" fill="#FFFF99" stroke="#000" stroke-width="1.2"/><rect x="2302" y="16.4" width="127.400" height="85" fill="#fff"/><rect x="2303.8" y="16.9" width="123.800" height="70" fill="#fff" stroke="#4A6650" stroke-width="1.1"/><rect x="2303.3" y="81.1" width="124.800" height="14.800" fill="#000"/><text x="2366" y="91.8" font-size="8.200" font-weight="bold" fill="#fff" text-anchor="middle" font-family="'Liberation Sans',sans-serif" textLength="112" lengthAdjust="spacingAndGlyphs">Tutor/Mentor Institute, LLC</text><text x="2362.7" y="62.7" font-size="11" font-style="italic" fill="#333" text-anchor="middle" font-family="'Liberation Serif',serif" textLength="58" lengthAdjust="spacingAndGlyphs">Tutor/Mentor</text><text x="2362.7" y="76.4" font-size="14" font-style="italic" fill="#333" text-anchor="middle" font-family="'Liberation Serif',serif" textLength="58" lengthAdjust="spacingAndGlyphs" transform="rotate(2.5 2362.7 76)">Connection</text><g transform="translate(2280,0) scale(0.08193)" fill="#2a2a2a" stroke="#2a2a2a" stroke-linecap="round" stroke-linejoin="round"><ellipse cx="1105" cy="322" rx="30" ry="40" stroke="none"/><path d="M1105 360L1030 385L930 405L1040 428L1000 530L955 640L1088 505L1130 635L1138 430L1250 405L1150 385Z" stroke-width="6"/><ellipse cx="628" cy="447" rx="28" ry="38" transform="rotate(25 628 447)" stroke="none"/><path d="M610 500Q690 450 775 432" fill="none" stroke-width="22"/><path d="M590 580Q680 612 760 640" fill="none" stroke-width="22"/><path d="M605 505Q470 640 448 870Q500 700 610 590Z" stroke-width="20"/><path d="M530 640Q520 800 598 905" fill="none" stroke-width="34"/><ellipse cx="1480" cy="427" rx="28" ry="38" transform="rotate(-20 1480 427)" stroke="none"/><path d="M1470 492Q1420 465 1350 455" fill="none" stroke-width="22"/><path d="M1492 572Q1410 600 1332 625" fill="none" stroke-width="22"/><path d="M1485 495Q1650 650 1590 850Q1590 690 1480 590Z" stroke-width="20"/><path d="M1565 640Q1550 790 1435 882" fill="none" stroke-width="34"/></g>
<rect x="2162.9" y="1645.7" width="149.7" height="116.3" fill="#800080"/><rect x="2159.1" y="1642.1" width="149.7" height="116.9" fill="#FFCCCC" stroke="#000" stroke-width="1.2"/><rect x="2159.9" y="1642.9" width="148" height="110.800" fill="#0CCB3C"/><rect x="2165.9" y="1645.1" width="136.300" height="105" fill="#fff"/><g transform="translate(2150,1635) scale(0.08822)"><rect x="250" y="192" width="1475" height="63" fill="#fff" stroke="#A8B4E0" stroke-width="5"/><rect x="318" y="283" width="624" height="444" fill="#4A3222"/><rect x="650" y="283" width="292" height="260" fill="#2A2018"/><rect x="740" y="290" width="60" height="230" fill="#6A5A40"/><path d="M318 560L420 500L520 640L440 727H318Z" fill="#B0282C"/><path d="M360 330Q450 280 560 350L600 470L480 520L380 470Z" fill="#2A1A14"/><ellipse cx="470" cy="425" rx="62" ry="72" fill="#C9906E"/><path d="M560 400Q650 350 720 420Q700 500 600 480Z" fill="#D8B0C0"/><path d="M370 470Q420 520 470 540L440 600L360 540Z" fill="#D8B8C4"/><path d="M700 470Q820 560 935 610L935 650Q800 600 690 520Z" fill="#C08868"/><ellipse cx="612" cy="545" rx="70" ry="82" fill="#2E1C14"/><ellipse cx="612" cy="590" rx="34" ry="14" fill="#E8E0D8"/><path d="M440 727Q470 640 560 620L612 680L680 610Q800 620 870 727Z" fill="#6C4CA0"/><path d="M800 650L942 600V727H860Z" fill="#3C3C70"/><rect x="1045" y="283" width="495" height="282" fill="#3E2E20"/><rect x="1060" y="300" width="330" height="120" fill="#5A4836"/><ellipse cx="1180" cy="340" rx="45" ry="40" fill="#B0443A"/><path d="M1310 565Q1320 440 1420 420Q1520 440 1535 565Z" fill="#F07A3C"/><ellipse cx="1450" cy="405" rx="45" ry="42" fill="#4A2A1C"/><rect x="975" y="505" width="330" height="220" fill="#A85E24"/><ellipse cx="1130" cy="560" rx="150" ry="70" fill="#D08A3C"/><path d="M1085 725Q1080 600 1135 545Q1185 600 1190 725Z" fill="#2E1A10"/><ellipse cx="1135" cy="640" rx="30" ry="45" fill="#A89070"/><rect x="1362" y="570" width="286" height="165" fill="#fff" stroke="#555" stroke-width="5"/><rect x="1362" y="705" width="286" height="30" fill="#111"/><path d="M1400 680Q1390 630 1440 610M1610 680Q1620 630 1570 610M1505 590L1490 640L1520 640Z" stroke="#222" stroke-width="10" fill="#222"/><rect x="285" y="768" width="1440" height="417" fill="#fff" stroke="#E0A8A8" stroke-width="4"/></g><text x="2182.2" y="1655.6" font-size="3.300" fill="#1C5FC4" font-weight="bold" font-family="'Liberation Sans',sans-serif" textLength="115.600" lengthAdjust="spacingAndGlyphs">COLLECTIVE ACTION: A mentoring-to-career strategy of the Tutor/Mentor Connection</text><text x="2241" y="1707.9" font-size="6" font-weight="bold" text-anchor="middle" fill="#111" font-family="'Liberation Serif',serif" textLength="74.5" lengthAdjust="spacingAndGlyphs">What will it take to assure that</text><text x="2241" y="1714.1" font-size="6" font-weight="bold" text-anchor="middle" fill="#111" font-family="'Liberation Serif',serif" textLength="94.4" lengthAdjust="spacingAndGlyphs">all youth born or living in high poverty</text><text x="2241" y="1720.3" font-size="6" font-weight="bold" text-anchor="middle" fill="#111" font-family="'Liberation Serif',serif" textLength="75.5" lengthAdjust="spacingAndGlyphs">are entering careers by age 25?</text><text x="2241.500" y="1737.9" font-size="6" font-weight="bold" text-anchor="middle" fill="#111" text-decoration="underline" font-family="'Liberation Serif',serif" textLength="78" lengthAdjust="spacingAndGlyphs">What can we learn from others?</text><text x="2237.900" y="1738.4" font-size="18.600" font-weight="bold" text-anchor="middle" fill="#28C4D4" stroke="#28C4D4" stroke-width="0.9" font-family="'Liberation Sans',sans-serif" textLength="107" lengthAdjust="spacingAndGlyphs">CAN YOU HELP?</text><text x="2239" y="1737.3" font-size="18.600" font-weight="bold" text-anchor="middle" fill="#D848C0" stroke="#D848C0" stroke-width="0.9" font-family="'Liberation Sans',sans-serif" textLength="107" lengthAdjust="spacingAndGlyphs">CAN YOU HELP?</text><text x="2239.800" y="1744.6" font-size="2" fill="#3868C0" text-anchor="middle" font-family="'Liberation Sans',sans-serif" textLength="98.400" lengthAdjust="spacingAndGlyphs">Property of Tutor/Mentor Institute, LLC, Tutor/Mentor Connection, Merchandise Mart PO Box 3303, Chicago, Il. 60654</text><text x="2239.800" y="1746.6" font-size="2" fill="#3868C0" text-anchor="middle" font-family="'Liberation Sans',sans-serif" textLength="46" lengthAdjust="spacingAndGlyphs">Email tutormentor2@earthlink.net for permission to use</text>
<text x="912.1" y="384.9" font-size="12" font-weight="normal" text-anchor="middle" fill="#000" textLength="26.2" lengthAdjust="spacingAndGlyphs" xml:space="preserve">????</text>
<rect x="265.7" y="681.8" width="134.4" height="38.3" rx="7" fill="#993300"/><rect x="261.8" y="677.8" width="134.4" height="38.3" rx="7" fill="#CCFFCC" stroke="#000" stroke-width="1.1"/><text x="329.0" y="694.9" font-size="12" font-weight="bold" text-anchor="middle" fill="#000" textLength="119.7" lengthAdjust="spacingAndGlyphs" xml:space="preserve">Adequate funding</text><text x="329.0" y="709.5" font-size="12" font-weight="bold" text-anchor="middle" fill="#000" textLength="49.7" lengthAdjust="spacingAndGlyphs" xml:space="preserve">for EPA</text>
<rect x="217.3" y="552.4" width="142.9" height="28.3" rx="7" fill="#FF0000"/><rect x="213.4" y="548.4" width="142.9" height="28.3" rx="7" fill="#CCFFCC" stroke="#000" stroke-width="1.1"/><text x="284.9" y="566.9" font-size="14" font-weight="bold" text-anchor="middle" fill="#000" textLength="126.3" lengthAdjust="spacingAndGlyphs" xml:space="preserve">Warming Planet</text>
<rect x="542.9" y="535.8" width="131.4" height="62.3" rx="7" fill="#FF0000"/><rect x="539.0" y="531.8" width="131.4" height="62.3" rx="7" fill="#CCFFCC" stroke="#000" stroke-width="1.1"/><text x="604.7" y="550.3" font-size="14" font-weight="bold" text-anchor="middle" fill="#000" textLength="53.7" lengthAdjust="spacingAndGlyphs" xml:space="preserve">Assure</text><text x="604.7" y="567.3" font-size="14" font-weight="bold" text-anchor="middle" fill="#000" textLength="114.6" lengthAdjust="spacingAndGlyphs" xml:space="preserve">Environmental</text><text x="604.7" y="584.3" font-size="14" font-weight="bold" text-anchor="middle" fill="#000" textLength="89.3" lengthAdjust="spacingAndGlyphs" xml:space="preserve">protections</text>
<rect x="100.3" y="605.5" width="175.1" height="78.5" rx="7" fill="#FF0000"/><rect x="96.4" y="601.5" width="175.1" height="78.5" rx="7" fill="#CCFFCC" stroke="#000" stroke-width="1.1"/><text x="183.9" y="632.5" font-size="32" font-weight="bold" text-anchor="middle" fill="#000" textLength="158.2" lengthAdjust="spacingAndGlyphs" xml:space="preserve">Climate/</text><text x="183.9" y="671.4" font-size="32" font-weight="bold" text-anchor="middle" fill="#000" textLength="70.1" lengthAdjust="spacingAndGlyphs" xml:space="preserve">EPA</text>
<rect x="553.4" y="631.4" width="144.9" height="62.4" rx="7" fill="#993300"/><rect x="549.5" y="627.4" width="144.9" height="62.4" rx="7" fill="#CCFFCC" stroke="#000" stroke-width="1.1"/><text x="622.0" y="645.9" font-size="14" font-weight="bold" text-anchor="middle" fill="#000" textLength="129.9" lengthAdjust="spacingAndGlyphs" xml:space="preserve">Move from fossil</text><text x="622.0" y="662.9" font-size="14" font-weight="bold" text-anchor="middle" fill="#000" textLength="97.8" lengthAdjust="spacingAndGlyphs" xml:space="preserve">fuel to other</text><text x="622.0" y="679.9" font-size="14" font-weight="bold" text-anchor="middle" fill="#000" textLength="119.9" lengthAdjust="spacingAndGlyphs" xml:space="preserve">energy sources</text>
<rect x="406.7" y="711.6" width="178.5" height="42.2" rx="7" fill="#993300"/><rect x="402.8" y="707.6" width="178.5" height="42.2" rx="7" fill="#CCFFCC" stroke="#000" stroke-width="1.1"/><text x="492.0" y="726.1" font-size="14" font-weight="bold" text-anchor="middle" fill="#000" textLength="163.5" lengthAdjust="spacingAndGlyphs" xml:space="preserve">Protect, and expand,</text><text x="492.0" y="743.1" font-size="14" font-weight="bold" text-anchor="middle" fill="#000" textLength="138.0" lengthAdjust="spacingAndGlyphs" xml:space="preserve">Federal Park land</text>
<rect x="119.7" y="759.5" width="242.8" height="96.4" rx="7" fill="#FFCCCC" stroke="#000" stroke-width="1.1"/><text x="241.1" y="785.0" font-size="24" font-weight="bold" text-anchor="middle" fill="#000" textLength="227.1" lengthAdjust="spacingAndGlyphs" xml:space="preserve">Climate Change/</text><text x="241.1" y="814.2" font-size="24" font-weight="bold" text-anchor="middle" fill="#000" textLength="111.4" lengthAdjust="spacingAndGlyphs" xml:space="preserve">Disaster</text><text x="241.1" y="843.3" font-size="24" font-weight="bold" text-anchor="middle" fill="#000" textLength="122.6" lengthAdjust="spacingAndGlyphs" xml:space="preserve">response</text>
<rect x="403.6" y="785.5" width="70.5" height="27.2" rx="7" fill="#993300"/><rect x="399.7" y="781.5" width="70.5" height="27.2" rx="7" fill="#FFFF00" stroke="#000" stroke-width="1.1"/><text x="434.9" y="798.6" font-size="12" font-weight="bold" text-anchor="middle" fill="#000" textLength="55.1" lengthAdjust="spacingAndGlyphs" xml:space="preserve">Drought</text>
<rect x="507.7" y="802.6" width="100.3" height="25.9" rx="7" fill="#993300"/><rect x="503.8" y="798.6" width="100.3" height="25.9" rx="7" fill="#FFFF00" stroke="#000" stroke-width="1.1"/><text x="554.0" y="815.7" font-size="12" font-weight="bold" text-anchor="middle" fill="#000" textLength="84.3" lengthAdjust="spacingAndGlyphs" xml:space="preserve">Earthquakes</text>
<rect x="466.7" y="846.6" width="58.8" height="25.2" rx="7" fill="#FFFF99" stroke="#000" stroke-width="1.1"/><text x="496.1" y="863.7" font-size="12" font-weight="bold" text-anchor="middle" fill="#000" textLength="43.9" lengthAdjust="spacingAndGlyphs" xml:space="preserve">Floods</text>
<rect x="580.1" y="849.3" width="83.3" height="38.7" rx="7" fill="#FFFF99" stroke="#000" stroke-width="1.1"/><text x="621.8" y="866.4" font-size="12" font-weight="bold" text-anchor="middle" fill="#000" textLength="67.2" lengthAdjust="spacingAndGlyphs" xml:space="preserve">Wild Fires</text><text x="621.8" y="881.0" font-size="12" font-weight="bold" text-anchor="middle" fill="#000" textLength="50.8" lengthAdjust="spacingAndGlyphs" xml:space="preserve">in West</text>
<rect x="155.3" y="869.6" width="190.9" height="42.2" rx="7" fill="#993300"/><rect x="151.4" y="865.6" width="190.9" height="42.2" rx="7" fill="#FFFF00" stroke="#000" stroke-width="1.1"/><text x="246.9" y="882.7" font-size="12" font-weight="bold" text-anchor="middle" fill="#000" textLength="110.9" lengthAdjust="spacingAndGlyphs" xml:space="preserve">What would real</text><text x="246.9" y="897.3" font-size="12" font-weight="bold" text-anchor="middle" fill="#000" textLength="175.2" lengthAdjust="spacingAndGlyphs" xml:space="preserve">climate response require?</text>
<rect x="394.7" y="896.7" width="46.4" height="24.8" rx="7" fill="#993300"/><rect x="390.8" y="892.7" width="46.4" height="24.8" rx="7" fill="#FFFF00" stroke="#000" stroke-width="1.1"/><text x="414.0" y="909.8" font-size="12" font-weight="bold" text-anchor="middle" fill="#000" textLength="31.5" lengthAdjust="spacingAndGlyphs" xml:space="preserve">Heat</text>
<rect x="481.4" y="899.7" width="92.9" height="24.3" rx="7" fill="#FFFF99" stroke="#000" stroke-width="1.1"/><text x="527.8" y="916.8" font-size="12" font-weight="bold" text-anchor="middle" fill="#000" textLength="73.3" lengthAdjust="spacingAndGlyphs" xml:space="preserve">Hurricanes</text>
<rect x="201.4" y="935.4" width="106.9" height="78.6" rx="7" fill="#008080"/><rect x="197.5" y="931.4" width="106.9" height="78.6" rx="7" fill="#CCFFCC" stroke="#000" stroke-width="1.1"/><text x="250.9" y="962.5" font-size="32" font-weight="bold" text-anchor="middle" fill="#000" textLength="84.8" lengthAdjust="spacingAndGlyphs" xml:space="preserve">Dept</text><text x="250.9" y="1001.4" font-size="32" font-weight="bold" text-anchor="middle" fill="#000" textLength="90.7" lengthAdjust="spacingAndGlyphs" xml:space="preserve">of Ed</text>
<rect x="345.1" y="954.4" width="105.3" height="62.7" rx="7" fill="#008080"/><rect x="341.2" y="950.4" width="105.3" height="62.7" rx="7" fill="#CCFFCC" stroke="#000" stroke-width="1.1"/><text x="393.9" y="968.9" font-size="14" font-weight="bold" text-anchor="middle" fill="#000" textLength="87.9" lengthAdjust="spacingAndGlyphs" xml:space="preserve">Strengthen</text><text x="393.9" y="985.9" font-size="14" font-weight="bold" text-anchor="middle" fill="#000" textLength="52.4" lengthAdjust="spacingAndGlyphs" xml:space="preserve">LBGTQ</text><text x="393.9" y="1002.9" font-size="14" font-weight="bold" text-anchor="middle" fill="#000" textLength="89.3" lengthAdjust="spacingAndGlyphs" xml:space="preserve">protections</text>
<rect x="479.5" y="959.0" width="212.6" height="46.1" rx="7" fill="#008080"/><rect x="475.6" y="955.0" width="212.6" height="46.1" rx="7" fill="#CCFFCC" stroke="#000" stroke-width="1.1"/><text x="581.9" y="973.5" font-size="14" font-weight="bold" text-anchor="middle" fill="#000" textLength="189.0" lengthAdjust="spacingAndGlyphs" xml:space="preserve">expand quality of public</text><text x="581.9" y="990.5" font-size="14" font-weight="bold" text-anchor="middle" fill="#000" textLength="196.4" lengthAdjust="spacingAndGlyphs" xml:space="preserve">schools in every zip code</text>
<rect x="571.2" y="1017.7" width="177.0" height="62.4" rx="7" fill="#993300"/><rect x="567.3" y="1013.7" width="177.0" height="62.4" rx="7" fill="#CCFFCC" stroke="#000" stroke-width="1.1"/><text x="655.8" y="1032.2" font-size="14" font-weight="bold" text-anchor="middle" fill="#000" textLength="150.1" lengthAdjust="spacingAndGlyphs" xml:space="preserve">Prepare for  virtual</text><text x="655.8" y="1049.2" font-size="14" font-weight="bold" text-anchor="middle" fill="#000" textLength="98.8" lengthAdjust="spacingAndGlyphs" xml:space="preserve">learning and</text><text x="655.8" y="1066.2" font-size="14" font-weight="bold" text-anchor="middle" fill="#000" textLength="161.1" lengthAdjust="spacingAndGlyphs" xml:space="preserve">Artifical Intelligence</text>
<rect x="49.2" y="1051.6" width="261.0" height="62.8" rx="7" fill="#008080"/><rect x="45.3" y="1047.6" width="261.0" height="62.8" rx="7" fill="#CCFFCC" stroke="#000" stroke-width="1.1"/><text x="175.8" y="1066.1" font-size="14" font-weight="bold" text-anchor="middle" fill="#000" textLength="162.4" lengthAdjust="spacingAndGlyphs" xml:space="preserve">Reduce student debt</text><text x="175.8" y="1083.1" font-size="14" font-weight="bold" text-anchor="middle" fill="#000" textLength="149.8" lengthAdjust="spacingAndGlyphs" xml:space="preserve">from college loans.</text><text x="175.8" y="1100.1" font-size="14" font-weight="bold" text-anchor="middle" fill="#000" textLength="245.9" lengthAdjust="spacingAndGlyphs" xml:space="preserve">Make junior college free for all.</text>
<rect x="621.6" y="1100.8" width="166.5" height="29.8" rx="7" fill="#993300"/><rect x="617.7" y="1096.8" width="166.5" height="29.8" rx="7" fill="#CCFFCC" stroke="#000" stroke-width="1.1"/><text x="701.0" y="1115.3" font-size="14" font-weight="bold" text-anchor="middle" fill="#000" textLength="150.8" lengthAdjust="spacingAndGlyphs" xml:space="preserve">Education research</text>
<rect x="315.7" y="1117.5" width="170.3" height="94.5" rx="7" fill="#993300"/><rect x="311.8" y="1113.5" width="170.3" height="94.5" rx="7" fill="#FF99CC" stroke="#000" stroke-width="1.1"/><text x="397.0" y="1132.0" font-size="14" font-weight="bold" text-anchor="middle" fill="#000" textLength="156.0" lengthAdjust="spacingAndGlyphs" xml:space="preserve">Reverse Book Bans;</text><text x="397.0" y="1149.0" font-size="14" font-weight="bold" text-anchor="middle" fill="#000" textLength="91.2" lengthAdjust="spacingAndGlyphs" xml:space="preserve">end attacks</text><text x="397.0" y="1166.0" font-size="14" font-weight="bold" text-anchor="middle" fill="#000" textLength="116.5" lengthAdjust="spacingAndGlyphs" xml:space="preserve">on local school</text><text x="397.0" y="1183.0" font-size="14" font-weight="bold" text-anchor="middle" fill="#000" textLength="133.7" lengthAdjust="spacingAndGlyphs" xml:space="preserve">boards, libraries,</text><text x="397.0" y="1200.0" font-size="14" font-weight="bold" text-anchor="middle" fill="#000" textLength="23.9" lengthAdjust="spacingAndGlyphs" xml:space="preserve">etc</text>
<rect x="578.6" y="1150.0" width="196.0" height="45.7" rx="7" fill="#993300"/><rect x="574.7" y="1146.0" width="196.0" height="45.7" rx="7" fill="#FFFF00" stroke="#000" stroke-width="1.1"/><text x="672.7" y="1164.5" font-size="14" font-weight="bold" text-anchor="middle" fill="#000" textLength="180.6" lengthAdjust="spacingAndGlyphs" xml:space="preserve">Prepare more students</text><text x="672.7" y="1181.5" font-size="14" font-weight="bold" text-anchor="middle" fill="#000" textLength="164.7" lengthAdjust="spacingAndGlyphs" xml:space="preserve">for 21st century jobs</text>
<rect x="503.5" y="1213.9" width="160.7" height="69.7" rx="7" fill="#993300"/><rect x="499.6" y="1209.9" width="160.7" height="69.7" rx="7" fill="#FFFF00" stroke="#000" stroke-width="1.1"/><text x="580.0" y="1227.0" font-size="12" font-weight="bold" text-anchor="middle" fill="#000" textLength="144.1" lengthAdjust="spacingAndGlyphs" xml:space="preserve">Expand out-of-school</text><text x="580.0" y="1241.6" font-size="12" font-weight="bold" text-anchor="middle" fill="#000" textLength="56.0" lengthAdjust="spacingAndGlyphs" xml:space="preserve">network</text><text x="580.0" y="1256.2" font-size="12" font-weight="bold" text-anchor="middle" fill="#000" textLength="104.9" lengthAdjust="spacingAndGlyphs" xml:space="preserve">supporting kids</text><text x="580.0" y="1270.7" font-size="12" font-weight="bold" text-anchor="middle" fill="#000" textLength="143.3" lengthAdjust="spacingAndGlyphs" xml:space="preserve">in high poverty areas</text>
<rect x="198.7" y="1219.7" width="94.1" height="38.3" rx="7" fill="#008080"/><rect x="194.8" y="1215.7" width="94.1" height="38.3" rx="7" fill="#FFCC99" stroke="#000" stroke-width="1.1"/><text x="241.8" y="1244.8" font-size="32" font-weight="bold" text-anchor="middle" fill="#000" textLength="79.3" lengthAdjust="spacingAndGlyphs" xml:space="preserve">HUD</text>
<rect x="66.6" y="1238.3" width="106.5" height="42.2" rx="7" fill="#008080"/><rect x="62.7" y="1234.3" width="106.5" height="42.2" rx="7" fill="#FFFF99" stroke="#000" stroke-width="1.1"/><text x="115.9" y="1252.8" font-size="14" font-weight="bold" text-anchor="middle" fill="#000" textLength="90.2" lengthAdjust="spacingAndGlyphs" xml:space="preserve">rising costs</text><text x="115.9" y="1269.8" font-size="14" font-weight="bold" text-anchor="middle" fill="#000" textLength="78.0" lengthAdjust="spacingAndGlyphs" xml:space="preserve">to renters</text>
<rect x="294.7" y="1282.4" width="166.2" height="79.8" rx="7" fill="#008080"/><rect x="290.8" y="1278.4" width="166.2" height="79.8" rx="7" fill="#FFFF99" stroke="#000" stroke-width="1.1"/><text x="373.9" y="1296.9" font-size="14" font-weight="bold" text-anchor="middle" fill="#000" textLength="126.0" lengthAdjust="spacingAndGlyphs" xml:space="preserve">end purchase of</text><text x="373.9" y="1313.9" font-size="14" font-weight="bold" text-anchor="middle" fill="#000" textLength="132.8" lengthAdjust="spacingAndGlyphs" xml:space="preserve">housing stock by</text><text x="373.9" y="1330.9" font-size="14" font-weight="bold" text-anchor="middle" fill="#000" textLength="151.3" lengthAdjust="spacingAndGlyphs" xml:space="preserve">venture capitalists,</text><text x="373.9" y="1347.9" font-size="14" font-weight="bold" text-anchor="middle" fill="#000" textLength="130.8" lengthAdjust="spacingAndGlyphs" xml:space="preserve">foriegn interests</text>
<rect x="84.5" y="1339.8" width="100.3" height="61.9" rx="7" fill="#993300"/><rect x="80.6" y="1335.8" width="100.3" height="61.9" rx="7" fill="#FFFF00" stroke="#000" stroke-width="1.1"/><text x="130.8" y="1354.3" font-size="14" font-weight="bold" text-anchor="middle" fill="#000" textLength="85.5" lengthAdjust="spacingAndGlyphs" xml:space="preserve">Build more</text><text x="130.8" y="1371.3" font-size="14" font-weight="bold" text-anchor="middle" fill="#000" textLength="80.8" lengthAdjust="spacingAndGlyphs" xml:space="preserve">affordable</text><text x="130.8" y="1388.3" font-size="14" font-weight="bold" text-anchor="middle" fill="#000" textLength="64.1" lengthAdjust="spacingAndGlyphs" xml:space="preserve">Housing</text>
<rect x="486.4" y="1344.0" width="206.5" height="34.1" rx="7" fill="#993300"/><rect x="482.5" y="1340.0" width="206.5" height="34.1" rx="7" fill="#CCFFCC" stroke="#000" stroke-width="1.1"/><text x="585.8" y="1365.5" font-size="24" font-weight="bold" text-anchor="middle" fill="#000" textLength="190.5" lengthAdjust="spacingAndGlyphs" xml:space="preserve">Rural America</text>
<rect x="403.6" y="1395.5" width="64.3" height="27.9" rx="7" fill="#993300"/><rect x="399.7" y="1391.5" width="64.3" height="27.9" rx="7" fill="#CCFFCC" stroke="#000" stroke-width="1.1"/><text x="431.9" y="1408.6" font-size="12" font-weight="bold" text-anchor="middle" fill="#000" textLength="49.8" lengthAdjust="spacingAndGlyphs" xml:space="preserve">articles</text>
<rect x="598.4" y="1397.9" width="60.4" height="23.6" rx="7" fill="#993300"/><rect x="594.5" y="1393.9" width="60.4" height="23.6" rx="7" fill="#CCFFCC" stroke="#000" stroke-width="1.1"/><text x="624.7" y="1411.0" font-size="12" font-weight="bold" text-anchor="middle" fill="#000" textLength="44.1" lengthAdjust="spacingAndGlyphs" xml:space="preserve">Health</text>
<rect x="560.4" y="1438.9" width="112.3" height="23.6" rx="7" fill="#993300"/><rect x="556.5" y="1434.9" width="112.3" height="23.6" rx="7" fill="#CCFFCC" stroke="#000" stroke-width="1.1"/><text x="612.6" y="1452.0" font-size="12" font-weight="bold" text-anchor="middle" fill="#000" textLength="96.2" lengthAdjust="spacingAndGlyphs" xml:space="preserve">Infrastructure</text>
<rect x="374.5" y="1448.6" width="102.3" height="25.9" rx="7" fill="#993300"/><rect x="370.6" y="1444.6" width="102.3" height="25.9" rx="7" fill="#CCFFCC" stroke="#000" stroke-width="1.1"/><text x="421.8" y="1461.7" font-size="12" font-weight="bold" text-anchor="middle" fill="#000" textLength="87.4" lengthAdjust="spacingAndGlyphs" xml:space="preserve">AgriBusiness</text>
<rect x="493.4" y="1470.7" width="72.4" height="37.9" rx="7" fill="#993300"/><rect x="489.5" y="1466.7" width="72.4" height="37.9" rx="7" fill="#CCFFCC" stroke="#000" stroke-width="1.1"/><text x="525.7" y="1483.8" font-size="12" font-weight="bold" text-anchor="middle" fill="#000" textLength="56.5" lengthAdjust="spacingAndGlyphs" xml:space="preserve">Internet</text><text x="525.7" y="1498.4" font-size="12" font-weight="bold" text-anchor="middle" fill="#000" textLength="44.3" lengthAdjust="spacingAndGlyphs" xml:space="preserve">access</text>
<rect x="14.4" y="1449.4" width="209.1" height="34.8" rx="7" fill="#993300"/><rect x="10.5" y="1445.4" width="209.1" height="34.8" rx="7" fill="#FF99CC" stroke="#000" stroke-width="1.1"/><text x="115.0" y="1470.9" font-size="24" font-weight="bold" text-anchor="middle" fill="#000" textLength="192.9" lengthAdjust="spacingAndGlyphs" xml:space="preserve">The ECONOMY</text>
<rect x="5.4" y="1514.8" width="122.8" height="62.0" rx="7" fill="#993300"/><rect x="1.5" y="1510.8" width="122.8" height="62.0" rx="7" fill="#FFFF00" stroke="#000" stroke-width="1.1"/><text x="62.9" y="1529.3" font-size="14" font-weight="bold" text-anchor="middle" fill="#000" textLength="34.1" lengthAdjust="spacingAndGlyphs" xml:space="preserve">stop</text><text x="62.9" y="1546.3" font-size="14" font-weight="bold" text-anchor="middle" fill="#000" textLength="76.2" lengthAdjust="spacingAndGlyphs" xml:space="preserve">corporate</text><text x="62.9" y="1563.3" font-size="14" font-weight="bold" text-anchor="middle" fill="#000" textLength="107.5" lengthAdjust="spacingAndGlyphs" xml:space="preserve">price gouging</text>
<rect x="224.6" y="1487.7" width="140.6" height="62.0" rx="7" fill="#993300"/><rect x="220.7" y="1483.7" width="140.6" height="62.0" rx="7" fill="#FFFF00" stroke="#000" stroke-width="1.1"/><text x="291.0" y="1502.2" font-size="14" font-weight="bold" text-anchor="middle" fill="#000" textLength="125.5" lengthAdjust="spacingAndGlyphs" xml:space="preserve">Support unions;</text><text x="291.0" y="1519.2" font-size="14" font-weight="bold" text-anchor="middle" fill="#000" textLength="117.4" lengthAdjust="spacingAndGlyphs" xml:space="preserve">raise minimum</text><text x="291.0" y="1536.2" font-size="14" font-weight="bold" text-anchor="middle" fill="#000" textLength="97.6" lengthAdjust="spacingAndGlyphs" xml:space="preserve">wage to $15</text>
<rect x="263.4" y="1569.0" width="128.5" height="45.6" rx="7" fill="#993300"/><rect x="259.5" y="1565.0" width="128.5" height="45.6" rx="7" fill="#FFFF00" stroke="#000" stroke-width="1.1"/><text x="323.8" y="1583.5" font-size="14" font-weight="bold" text-anchor="middle" fill="#000" textLength="88.5" lengthAdjust="spacingAndGlyphs" xml:space="preserve">Expand rail</text><text x="323.8" y="1600.5" font-size="14" font-weight="bold" text-anchor="middle" fill="#000" textLength="113.8" lengthAdjust="spacingAndGlyphs" xml:space="preserve">transportation</text>
<rect x="27.5" y="1612.7" width="124.3" height="60.4" rx="7" fill="#993300"/><rect x="23.6" y="1608.7" width="124.3" height="60.4" rx="7" fill="#FFFF00" stroke="#000" stroke-width="1.1"/><text x="85.8" y="1627.2" font-size="14" font-weight="bold" text-anchor="middle" fill="#000" textLength="70.1" lengthAdjust="spacingAndGlyphs" xml:space="preserve">Continue</text><text x="85.8" y="1644.2" font-size="14" font-weight="bold" text-anchor="middle" fill="#000" textLength="59.9" lengthAdjust="spacingAndGlyphs" xml:space="preserve">to build</text><text x="85.8" y="1661.2" font-size="14" font-weight="bold" text-anchor="middle" fill="#000" textLength="109.4" lengthAdjust="spacingAndGlyphs" xml:space="preserve">infrastructure</text>
<rect x="271.5" y="1637.5" width="130.5" height="46.1" rx="7" fill="#993300"/><rect x="267.6" y="1633.5" width="130.5" height="46.1" rx="7" fill="#FFFF00" stroke="#000" stroke-width="1.1"/><text x="332.9" y="1652.0" font-size="14" font-weight="bold" text-anchor="middle" fill="#000" textLength="57.8" lengthAdjust="spacingAndGlyphs" xml:space="preserve">Expand</text><text x="332.9" y="1669.0" font-size="14" font-weight="bold" text-anchor="middle" fill="#000" textLength="115.4" lengthAdjust="spacingAndGlyphs" xml:space="preserve">manufacturing</text>
<rect x="18.6" y="1718.4" width="160.3" height="62.8" rx="7" fill="#993300"/><rect x="14.7" y="1714.4" width="160.3" height="62.8" rx="7" fill="#FFFF99" stroke="#000" stroke-width="1.1"/><text x="94.8" y="1732.9" font-size="14" font-weight="bold" text-anchor="middle" fill="#000" textLength="79.4" lengthAdjust="spacingAndGlyphs" xml:space="preserve">bring jobs</text><text x="94.8" y="1749.9" font-size="14" font-weight="bold" text-anchor="middle" fill="#000" textLength="103.7" lengthAdjust="spacingAndGlyphs" xml:space="preserve">to areas with</text><text x="94.8" y="1766.9" font-size="14" font-weight="bold" text-anchor="middle" fill="#000" textLength="144.5" lengthAdjust="spacingAndGlyphs" xml:space="preserve">persistent poverty</text>
<rect x="197.5" y="1693.6" width="192.9" height="95.7" rx="7" fill="#993300"/><rect x="193.6" y="1689.6" width="192.9" height="95.7" rx="7" fill="#FFFF99" stroke="#000" stroke-width="1.1"/><text x="290.1" y="1708.1" font-size="14" font-weight="bold" text-anchor="middle" fill="#000" textLength="111.8" lengthAdjust="spacingAndGlyphs" xml:space="preserve">Address aging</text><text x="290.1" y="1725.1" font-size="14" font-weight="bold" text-anchor="middle" fill="#000" textLength="139.1" lengthAdjust="spacingAndGlyphs" xml:space="preserve">workforce issues;</text><text x="290.1" y="1742.1" font-size="14" font-weight="bold" text-anchor="middle" fill="#000" textLength="147.5" lengthAdjust="spacingAndGlyphs" xml:space="preserve">assure more youth</text><text x="290.1" y="1759.1" font-size="14" font-weight="bold" text-anchor="middle" fill="#000" textLength="148.3" lengthAdjust="spacingAndGlyphs" xml:space="preserve">have skills for jobs</text><text x="290.1" y="1776.1" font-size="14" font-weight="bold" text-anchor="middle" fill="#000" textLength="177.1" lengthAdjust="spacingAndGlyphs" xml:space="preserve">in expanding economy</text>
<rect x="578.6" y="1509.4" width="132.7" height="78.6" rx="7" fill="#008080"/><rect x="574.7" y="1505.4" width="132.7" height="78.6" rx="7" fill="#A0FFFF" stroke="#000" stroke-width="1.1"/><text x="641.0" y="1536.5" font-size="32" font-weight="bold" text-anchor="middle" fill="#000" textLength="65.9" lengthAdjust="spacingAndGlyphs" xml:space="preserve">The</text><text x="641.0" y="1575.4" font-size="32" font-weight="bold" text-anchor="middle" fill="#000" textLength="117.4" lengthAdjust="spacingAndGlyphs" xml:space="preserve">Courts</text>
<rect x="722.4" y="1541.6" width="147.0" height="46.4" rx="7" fill="#008080"/><rect x="718.5" y="1537.6" width="147.0" height="46.4" rx="7" fill="#A0FFFF" stroke="#000" stroke-width="1.1"/><text x="792.0" y="1556.1" font-size="14" font-weight="bold" text-anchor="middle" fill="#000" textLength="70.1" lengthAdjust="spacingAndGlyphs" xml:space="preserve">Supreme</text><text x="792.0" y="1573.1" font-size="14" font-weight="bold" text-anchor="middle" fill="#000" textLength="130.1" lengthAdjust="spacingAndGlyphs" xml:space="preserve">Court corruption</text>
<rect x="792.5" y="1503.4" width="75.0" height="42.8" rx="7" fill="#008080"/><rect x="788.6" y="1499.4" width="75.0" height="42.8" rx="7" fill="#A0FFFF" stroke="#000" stroke-width="1.1"/><text x="826.1" y="1517.9" font-size="14" font-weight="bold" text-anchor="middle" fill="#000" textLength="58.6" lengthAdjust="spacingAndGlyphs" xml:space="preserve">Federal</text><text x="826.1" y="1534.9" font-size="14" font-weight="bold" text-anchor="middle" fill="#000" textLength="51.4" lengthAdjust="spacingAndGlyphs" xml:space="preserve">Courts</text>
<rect x="790.5" y="1573.0" width="108.4" height="62.0" rx="7" fill="#993300"/><rect x="786.6" y="1569.0" width="108.4" height="62.0" rx="7" fill="#00FFFF" stroke="#000" stroke-width="1.1"/><text x="840.8" y="1587.5" font-size="14" font-weight="bold" text-anchor="middle" fill="#000" textLength="93.4" lengthAdjust="spacingAndGlyphs" xml:space="preserve">Prosecution</text><text x="840.8" y="1604.5" font-size="14" font-weight="bold" text-anchor="middle" fill="#000" textLength="62.1" lengthAdjust="spacingAndGlyphs" xml:space="preserve">of Jan 6</text><text x="840.8" y="1621.5" font-size="14" font-weight="bold" text-anchor="middle" fill="#000" textLength="83.4" lengthAdjust="spacingAndGlyphs" xml:space="preserve">organizers</text>
<rect x="461.3" y="1595.7" width="104.5" height="60.0" rx="7" fill="#993300"/><rect x="457.4" y="1591.7" width="104.5" height="60.0" rx="7" fill="#FF99CC" stroke="#000" stroke-width="1.1"/><text x="509.6" y="1610.2" font-size="14" font-weight="bold" text-anchor="middle" fill="#000" textLength="88.3" lengthAdjust="spacingAndGlyphs" xml:space="preserve">Expand the</text><text x="509.6" y="1627.2" font-size="14" font-weight="bold" text-anchor="middle" fill="#000" textLength="70.1" lengthAdjust="spacingAndGlyphs" xml:space="preserve">Supreme</text><text x="509.6" y="1644.2" font-size="14" font-weight="bold" text-anchor="middle" fill="#000" textLength="51.7" lengthAdjust="spacingAndGlyphs" xml:space="preserve">Court?</text>
<rect x="543.8" y="1668.9" width="85.9" height="68.1" rx="7" fill="#993300"/><rect x="539.9" y="1664.9" width="85.9" height="68.1" rx="7" fill="#A0FFFF" stroke="#000" stroke-width="1.1"/><text x="582.8" y="1682.0" font-size="12" font-weight="bold" text-anchor="middle" fill="#000" textLength="56.3" lengthAdjust="spacingAndGlyphs" xml:space="preserve">Extreme</text><text x="582.8" y="1696.6" font-size="12" font-weight="bold" text-anchor="middle" fill="#000" textLength="71.0" lengthAdjust="spacingAndGlyphs" xml:space="preserve">right-wing</text><text x="582.8" y="1711.2" font-size="12" font-weight="bold" text-anchor="middle" fill="#000" textLength="49.2" lengthAdjust="spacingAndGlyphs" xml:space="preserve">judicial</text><text x="582.8" y="1725.7" font-size="12" font-weight="bold" text-anchor="middle" fill="#000" textLength="65.2" lengthAdjust="spacingAndGlyphs" xml:space="preserve">nominees</text>
<rect x="666.5" y="1695.6" width="108.1" height="42.2" rx="7" fill="#008080"/><rect x="662.6" y="1691.6" width="108.1" height="42.2" rx="7" fill="#A0FFFF" stroke="#000" stroke-width="1.1"/><text x="716.7" y="1710.1" font-size="14" font-weight="bold" text-anchor="middle" fill="#000" textLength="75.0" lengthAdjust="spacingAndGlyphs" xml:space="preserve">Attack on</text><text x="716.7" y="1727.1" font-size="14" font-weight="bold" text-anchor="middle" fill="#000" textLength="92.1" lengthAdjust="spacingAndGlyphs" xml:space="preserve">Rule of Law</text>
<rect x="848.4" y="1691.5" width="138.3" height="27.1" rx="7" fill="#993300"/><rect x="844.5" y="1687.5" width="138.3" height="27.1" rx="7" fill="#FFCC99" stroke="#000" stroke-width="1.1"/><text x="913.6" y="1706.0" font-size="14" font-weight="bold" text-anchor="middle" fill="#000" textLength="122.3" lengthAdjust="spacingAndGlyphs" xml:space="preserve">Rev. 3-22-2026</text>
<rect x="1000.5" y="236.0" width="39.3" height="25.4" rx="7" fill="#EDF3F5" stroke="#000" stroke-width="1.1"/><text x="1020.1" y="253.1" font-size="12" font-weight="normal" text-anchor="middle" fill="#000" textLength="26.2" lengthAdjust="spacingAndGlyphs" xml:space="preserve">????</text>
<rect x="988.4" y="181.3" width="747.1" height="77.0" rx="7" fill="#FF99CC" stroke="#000" stroke-width="1.1"/><text x="1362.0" y="202.6" font-size="18" font-weight="bold" text-anchor="middle" fill="#000" textLength="730.0" lengthAdjust="spacingAndGlyphs" xml:space="preserve">People living in poverty already face a wide range of challenges without</text><text x="1362.0" y="224.5" font-size="18" font-weight="bold" text-anchor="middle" fill="#000" textLength="525.5" lengthAdjust="spacingAndGlyphs" xml:space="preserve">the resources needed to overcome these challenges</text><text x="1362.0" y="246.3" font-size="18" font-weight="bold" text-anchor="middle" fill="#000" text-decoration="underline" textLength="570.4" lengthAdjust="spacingAndGlyphs" xml:space="preserve">They are POOR and cannot solve problems without help.</text>
<rect x="1684.3" y="230.6" width="43.1" height="25.4" rx="7" fill="#EDF3F5" stroke="#000" stroke-width="1.1"/><text x="1705.8" y="247.7" font-size="12" font-weight="normal" text-anchor="middle" fill="#000" textLength="26.2" lengthAdjust="spacingAndGlyphs" xml:space="preserve">????</text>
<rect x="897.5" y="114.6" width="911.4" height="40.8" rx="7" fill="#993300"/><rect x="893.6" y="110.6" width="911.4" height="40.8" rx="7" fill="#FFFF99" stroke="#000" stroke-width="1.1"/><text x="1349.3" y="143.1" font-size="32" font-weight="bold" text-anchor="middle" fill="#000" textLength="896.3" lengthAdjust="spacingAndGlyphs" xml:space="preserve">THESE ARE THINGS ALL AMERICANS CARE ABOUT</text>
<ellipse cx="1156.3" cy="643.0" rx="49.4" ry="38.8" fill="#008080"/><ellipse cx="1152.1" cy="638.8" rx="49.4" ry="38.8" fill="#FFCC99" stroke="#000" stroke-width="1"/><text x="1152.1" y="625.5" font-size="14" font-weight="bold" text-anchor="middle" fill="#000" textLength="54.7" lengthAdjust="spacingAndGlyphs" xml:space="preserve">Race &amp;</text><text x="1152.1" y="642.5" font-size="14" font-weight="bold" text-anchor="middle" fill="#000" textLength="60.7" lengthAdjust="spacingAndGlyphs" xml:space="preserve">Poverty</text><text x="1152.1" y="659.5" font-size="14" font-weight="bold" text-anchor="middle" fill="#000" textLength="49.0" lengthAdjust="spacingAndGlyphs" xml:space="preserve">issues</text>
<rect x="1141.5" y="538.9" width="191.0" height="66.3" rx="7" fill="#FFFF99" stroke="#000" stroke-width="1.1"/><text x="1237.0" y="557.4" font-size="14" font-weight="bold" text-anchor="middle" fill="#000" textLength="94.3" lengthAdjust="spacingAndGlyphs" xml:space="preserve">Poor People</text><text x="1237.0" y="574.4" font-size="14" font-weight="bold" text-anchor="middle" fill="#000" textLength="165.8" lengthAdjust="spacingAndGlyphs" xml:space="preserve">Face These Problems</text><text x="1237.0" y="591.4" font-size="14" font-weight="bold" text-anchor="middle" fill="#000" textLength="175.3" lengthAdjust="spacingAndGlyphs" xml:space="preserve">Too, And Some Others</text>
<text x="948.1" y="580.4" font-size="24" font-weight="bold" text-anchor="middle" textLength="88.3" lengthAdjust="spacingAndGlyphs">Health</text>
<text x="1089.6" y="479.5" font-size="24" font-weight="bold" text-anchor="middle" textLength="127.2" lengthAdjust="spacingAndGlyphs">Addiction</text>
<text x="1117.3" y="394.3" font-size="24" font-weight="bold" text-anchor="middle" textLength="88.3" lengthAdjust="spacingAndGlyphs">Digital</text><text x="1117.3" y="423.5" font-size="24" font-weight="bold" text-anchor="middle" textLength="85.0" lengthAdjust="spacingAndGlyphs">Equity</text>
<text x="1259.0" y="452.5" font-size="24" font-weight="bold" text-anchor="middle" textLength="60.8" lengthAdjust="spacingAndGlyphs">Jobs</text><text x="1259.0" y="481.9" font-size="24" font-weight="bold" text-anchor="middle" textLength="90.0" lengthAdjust="spacingAndGlyphs">Wages</text>
<text x="1371.7" y="427.7" font-size="24" font-weight="bold" text-anchor="middle" textLength="133.1" lengthAdjust="spacingAndGlyphs">Education</text>
<text x="1489.3" y="462.5" font-size="24" font-weight="bold" text-anchor="middle" textLength="102.1" lengthAdjust="spacingAndGlyphs">Climate</text><text x="1489.3" y="491.5" font-size="24" font-weight="bold" text-anchor="middle" textLength="100.3" lengthAdjust="spacingAndGlyphs">Change</text>
<text x="1528.2" y="538.2" font-size="16" font-weight="bold" text-anchor="middle" textLength="41.7" lengthAdjust="spacingAndGlyphs">Poor</text><text x="1528.2" y="557.6" font-size="16" font-weight="bold" text-anchor="middle" textLength="65.5" lengthAdjust="spacingAndGlyphs">Elected</text><text x="1528.2" y="576.9" font-size="16" font-weight="bold" text-anchor="middle" textLength="70.8" lengthAdjust="spacingAndGlyphs">Leaders</text>
<text x="1447.0" y="608.8" font-size="16" font-weight="bold" text-anchor="middle" textLength="63.5" lengthAdjust="spacingAndGlyphs">Wealth</text><text x="1447.0" y="628.3" font-size="16" font-weight="bold" text-anchor="middle" textLength="76.0" lengthAdjust="spacingAndGlyphs">Creation</text>
<rect x="1359.3" y="666.5" width="111.3" height="24.5" fill="#99CCFF"/><text x="1415.0" y="684.6" font-size="24" font-weight="bold" text-anchor="middle" textLength="110.0" lengthAdjust="spacingAndGlyphs">Housing</text>
<text x="1441.6" y="811.6" font-size="24" font-weight="bold" text-anchor="middle" textLength="169.6" lengthAdjust="spacingAndGlyphs">Immigration</text>
<text x="1269.6" y="752.3" font-size="24" font-weight="bold" text-anchor="middle" textLength="77.5" lengthAdjust="spacingAndGlyphs">Aging</text>
<text x="1181.2" y="812.8" font-size="24" font-weight="bold" text-anchor="middle" textLength="183.0" lengthAdjust="spacingAndGlyphs">Incarceration</text>
<text x="1054.4" y="758.4" font-size="24" font-weight="bold" text-anchor="middle" textLength="114.3" lengthAdjust="spacingAndGlyphs">Violence</text>
<rect x="772.3" y="434.5" width="81.0" height="38.5" rx="7" fill="#008080"/><rect x="768.4" y="430.5" width="81.0" height="38.5" rx="7" fill="#FF99CC" stroke="#000" stroke-width="1.1"/><text x="808.9" y="447.6" font-size="12" font-weight="bold" text-anchor="middle" fill="#000" textLength="61.6" lengthAdjust="spacingAndGlyphs" xml:space="preserve">COVID19</text><text x="808.9" y="462.2" font-size="12" font-weight="normal" text-anchor="middle" fill="#000" textLength="64.1" lengthAdjust="spacingAndGlyphs" xml:space="preserve">Pandemics</text>
<rect x="871.8" y="436.6" width="62.6" height="38.8" rx="7" fill="#EDF3F5" stroke="#000" stroke-width="1.1"/><text x="903.1" y="453.7" font-size="12" font-weight="normal" text-anchor="middle" fill="#000" textLength="33.2" lengthAdjust="spacingAndGlyphs" xml:space="preserve">Heart</text><text x="903.1" y="468.3" font-size="12" font-weight="normal" text-anchor="middle" fill="#000" textLength="46.6" lengthAdjust="spacingAndGlyphs" xml:space="preserve">Disease</text>
<rect x="837.6" y="488.6" width="58.9" height="38.7" rx="7" fill="#EDF3F5" stroke="#000" stroke-width="1.1"/><text x="867.0" y="505.7" font-size="12" font-weight="normal" text-anchor="middle" fill="#000" textLength="40.1" lengthAdjust="spacingAndGlyphs" xml:space="preserve">Mental</text><text x="867.0" y="520.3" font-size="12" font-weight="normal" text-anchor="middle" fill="#000" textLength="42.2" lengthAdjust="spacingAndGlyphs" xml:space="preserve">Illiness</text>
<rect x="928.7" y="493.7" width="94.8" height="38.5" rx="7" fill="#EDF3F5" stroke="#000" stroke-width="1.1"/><text x="976.1" y="510.8" font-size="12" font-weight="normal" text-anchor="middle" fill="#000" textLength="31.9" lengthAdjust="spacingAndGlyphs" xml:space="preserve">other</text><text x="976.1" y="525.4" font-size="12" font-weight="normal" text-anchor="middle" fill="#000" textLength="78.6" lengthAdjust="spacingAndGlyphs" xml:space="preserve">health issues</text>
<rect x="752.4" y="509.7" width="59.0" height="56.5" rx="7" fill="#EDF3F5" stroke="#000" stroke-width="1.1"/><text x="781.9" y="526.8" font-size="12" font-weight="normal" text-anchor="middle" fill="#000" textLength="40.6" lengthAdjust="spacingAndGlyphs" xml:space="preserve">Excess</text><text x="781.9" y="541.4" font-size="12" font-weight="normal" text-anchor="middle" fill="#000" textLength="30.1" lengthAdjust="spacingAndGlyphs" xml:space="preserve">Body</text><text x="781.9" y="556.0" font-size="12" font-weight="normal" text-anchor="middle" fill="#000" textLength="42.1" lengthAdjust="spacingAndGlyphs" xml:space="preserve">Weight</text>
<rect x="816.6" y="545.5" width="56.8" height="24.7" rx="7" fill="#EDF3F5" stroke="#000" stroke-width="1.1"/><text x="845.0" y="562.6" font-size="12" font-weight="normal" text-anchor="middle" fill="#000" textLength="41.7" lengthAdjust="spacingAndGlyphs" xml:space="preserve">Cancer</text>
<rect x="752.4" y="568.7" width="42.8" height="24.5" rx="7" fill="#EDF3F5" stroke="#000" stroke-width="1.1"/><text x="773.8" y="585.8" font-size="12" font-weight="normal" text-anchor="middle" fill="#000" textLength="26.2" lengthAdjust="spacingAndGlyphs" xml:space="preserve">????</text>
<rect x="788.5" y="608.5" width="70.7" height="42.5" rx="7" fill="#EDF3F5" stroke="#000" stroke-width="1.1"/><text x="823.9" y="625.6" font-size="12" font-weight="normal" text-anchor="middle" fill="#000" textLength="48.2" lengthAdjust="spacingAndGlyphs" xml:space="preserve">Physical</text><text x="823.9" y="640.2" font-size="12" font-weight="normal" text-anchor="middle" fill="#000" textLength="55.2" lengthAdjust="spacingAndGlyphs" xml:space="preserve">Disability</text>
<rect x="900.6" y="646.6" width="58.9" height="24.5" rx="7" fill="#EDF3F5" stroke="#000" stroke-width="1.1"/><text x="930.0" y="663.7" font-size="12" font-weight="normal" text-anchor="middle" fill="#000" textLength="43.3" lengthAdjust="spacingAndGlyphs" xml:space="preserve">Suicide</text>
<rect x="857.5" y="682.8" width="50.6" height="24.4" rx="7" fill="#EDF3F5" stroke="#000" stroke-width="1.1"/><text x="882.8" y="699.9" font-size="12" font-weight="normal" text-anchor="middle" fill="#000" textLength="35.8" lengthAdjust="spacingAndGlyphs" xml:space="preserve">stress</text>
<rect x="911.7" y="685.3" width="58.6" height="24.8" rx="7" fill="#FFFFFF" stroke="#000" stroke-width="1.1"/><text x="941.0" y="702.4" font-size="12" font-weight="normal" text-anchor="middle" fill="#000" textLength="43.5" lengthAdjust="spacingAndGlyphs" xml:space="preserve">trauma</text>
<rect x="779.5" y="688.7" width="68.8" height="38.4" rx="7" fill="#FFFF00" stroke="#000" stroke-width="1.1"/><text x="813.9" y="705.8" font-size="12" font-weight="normal" text-anchor="middle" fill="#000" textLength="49.4" lengthAdjust="spacingAndGlyphs" xml:space="preserve">Hunger/</text><text x="813.9" y="720.4" font-size="12" font-weight="normal" text-anchor="middle" fill="#000" textLength="52.6" lengthAdjust="spacingAndGlyphs" xml:space="preserve">Nutrition</text>
<rect x="981.7" y="361.6" width="50.6" height="26.5" rx="7" fill="#EDF3F5" stroke="#000" stroke-width="1.1"/><text x="1007.0" y="378.7" font-size="12" font-weight="normal" text-anchor="middle" fill="#000" textLength="35.7" lengthAdjust="spacingAndGlyphs" xml:space="preserve">Drugs</text>
<rect x="905.8" y="379.6" width="72.5" height="26.4" rx="7" fill="#EDF3F5" stroke="#000" stroke-width="1.1"/><text x="942.0" y="396.7" font-size="12" font-weight="normal" text-anchor="middle" fill="#000" textLength="57.3" lengthAdjust="spacingAndGlyphs" xml:space="preserve">Gambling</text>
<rect x="962.4" y="420.5" width="59.0" height="24.8" rx="7" fill="#EDF3F5" stroke="#000" stroke-width="1.1"/><text x="991.9" y="437.6" font-size="12" font-weight="normal" text-anchor="middle" fill="#000" textLength="43.2" lengthAdjust="spacingAndGlyphs" xml:space="preserve">Alcohol</text>
<rect x="1055.3" y="275.7" width="64.8" height="26.1" rx="7" fill="#008080"/><rect x="1051.4" y="271.7" width="64.8" height="26.1" rx="7" fill="#FFFFFF" stroke="#000" stroke-width="1.1"/><text x="1083.8" y="288.8" font-size="12" font-weight="normal" text-anchor="middle" fill="#000" textLength="48.7" lengthAdjust="spacingAndGlyphs" xml:space="preserve">learning</text>
<rect x="1050.6" y="324.8" width="54.3" height="22.4" rx="7" fill="#008080"/><rect x="1046.7" y="320.8" width="54.3" height="22.4" rx="7" fill="#FFFFFF" stroke="#000" stroke-width="1.1"/><text x="1073.8" y="337.9" font-size="12" font-weight="normal" text-anchor="middle" fill="#000" textLength="39.4" lengthAdjust="spacingAndGlyphs" xml:space="preserve">access</text>
<rect x="1112.6" y="338.7" width="40.5" height="26.3" rx="7" fill="#008080"/><rect x="1108.7" y="334.7" width="40.5" height="26.3" rx="7" fill="#FFFFFF" stroke="#000" stroke-width="1.1"/><text x="1129.0" y="351.8" font-size="12" font-weight="normal" text-anchor="middle" fill="#000" textLength="25.1" lengthAdjust="spacingAndGlyphs" xml:space="preserve">jobs</text>
<rect x="1210.4" y="287.3" width="59.1" height="43.2" rx="7" fill="#CCFFCC" stroke="#000" stroke-width="1.1"/><text x="1240.0" y="304.4" font-size="12" font-weight="normal" text-anchor="middle" fill="#000" textLength="43.8" lengthAdjust="spacingAndGlyphs" xml:space="preserve">Gender</text><text x="1240.0" y="319.0" font-size="12" font-weight="normal" text-anchor="middle" fill="#000" textLength="37.3" lengthAdjust="spacingAndGlyphs" xml:space="preserve">equity</text>
<rect x="1274.4" y="301.4" width="59.2" height="42.8" rx="7" fill="#CCFFCC" stroke="#000" stroke-width="1.1"/><text x="1304.0" y="318.5" font-size="12" font-weight="normal" text-anchor="middle" fill="#000" textLength="42.2" lengthAdjust="spacingAndGlyphs" xml:space="preserve">Livable</text><text x="1304.0" y="333.1" font-size="12" font-weight="normal" text-anchor="middle" fill="#000" textLength="40.0" lengthAdjust="spacingAndGlyphs" xml:space="preserve">Wages</text>
<rect x="1189.5" y="364.5" width="66.9" height="24.7" rx="7" fill="#CCFFCC" stroke="#000" stroke-width="1.1"/><text x="1223.0" y="381.6" font-size="12" font-weight="normal" text-anchor="middle" fill="#000" textLength="50.9" lengthAdjust="spacingAndGlyphs" xml:space="preserve">Job Loss</text>
<rect x="1366.1" y="341.6" width="127.3" height="42.8" rx="7" fill="#008080"/><rect x="1362.2" y="337.6" width="127.3" height="42.8" rx="7" fill="#FFFF99" stroke="#000" stroke-width="1.1"/><text x="1371.2" y="354.7" font-size="12" font-weight="normal" text-anchor="start" fill="#000" textLength="71.7" lengthAdjust="spacingAndGlyphs" xml:space="preserve">Lack of web</text><text x="1371.2" y="369.3" font-size="12" font-weight="normal" text-anchor="start" fill="#000" textLength="110.6" lengthAdjust="spacingAndGlyphs" xml:space="preserve">access/technology</text>
<rect x="1441.5" y="268.4" width="82.9" height="42.9" rx="7" fill="#FFFF99" stroke="#000" stroke-width="1.1"/><text x="1483.0" y="285.5" font-size="12" font-weight="normal" text-anchor="middle" fill="#000" textLength="66.5" lengthAdjust="spacingAndGlyphs" xml:space="preserve">low college</text><text x="1483.0" y="300.1" font-size="12" font-weight="normal" text-anchor="middle" fill="#000" textLength="66.0" lengthAdjust="spacingAndGlyphs" xml:space="preserve">completion</text>
<rect x="1543.5" y="409.5" width="64.9" height="24.7" rx="7" fill="#EDF3F5" stroke="#000" stroke-width="1.1"/><text x="1576.0" y="426.6" font-size="12" font-weight="normal" text-anchor="middle" fill="#000" textLength="49.4" lengthAdjust="spacingAndGlyphs" xml:space="preserve">Tornado</text>
<rect x="1621.5" y="394.5" width="121.0" height="54.8" rx="7" fill="#EDF3F5" stroke="#000" stroke-width="1.1"/><text x="1682.0" y="411.6" font-size="12" font-weight="bold" text-anchor="middle" fill="#000" textLength="105.3" lengthAdjust="spacingAndGlyphs" xml:space="preserve">Climate Change</text><text x="1682.0" y="426.2" font-size="12" font-weight="normal" text-anchor="middle" fill="#000" textLength="101.8" lengthAdjust="spacingAndGlyphs" xml:space="preserve">Global Warming/</text><text x="1682.0" y="440.8" font-size="12" font-weight="normal" text-anchor="middle" fill="#000" textLength="76.7" lengthAdjust="spacingAndGlyphs" xml:space="preserve">Environment</text>
<rect x="1742.5" y="446.6" width="67.1" height="24.6" rx="7" fill="#EDF3F5" stroke="#000" stroke-width="1.1"/><text x="1776.0" y="463.7" font-size="12" font-weight="normal" text-anchor="middle" fill="#000" textLength="51.0" lengthAdjust="spacingAndGlyphs" xml:space="preserve">Tsunami</text>
<rect x="1656.5" y="472.7" width="75.0" height="24.6" rx="7" fill="#EDF3F5" stroke="#000" stroke-width="1.1"/><text x="1694.0" y="489.8" font-size="12" font-weight="normal" text-anchor="middle" fill="#000" textLength="58.4" lengthAdjust="spacingAndGlyphs" xml:space="preserve">Hurricane</text>
<rect x="1604.5" y="532.4" width="73.0" height="38.9" rx="7" fill="#EDF3F5" stroke="#000" stroke-width="1.1"/><text x="1641.0" y="549.5" font-size="12" font-weight="normal" text-anchor="middle" fill="#000" textLength="31.9" lengthAdjust="spacingAndGlyphs" xml:space="preserve">Fill in</text><text x="1641.0" y="564.1" font-size="12" font-weight="normal" text-anchor="middle" fill="#000" textLength="57.1" lengthAdjust="spacingAndGlyphs" xml:space="preserve">the Blank</text>
<rect x="1520.3" y="620.6" width="111.0" height="26.7" rx="7" fill="#008080"/><rect x="1516.4" y="616.6" width="111.0" height="26.7" rx="7" fill="#FF99CC" stroke="#000" stroke-width="1.1"/><text x="1571.9" y="633.7" font-size="12" font-weight="bold" text-anchor="middle" fill="#000" textLength="94.4" lengthAdjust="spacingAndGlyphs" xml:space="preserve">unfair lending</text>
<rect x="1651.3" y="622.0" width="79.0" height="40.2" rx="7" fill="#008080"/><rect x="1647.4" y="618.0" width="79.0" height="40.2" rx="7" fill="#FF99CC" stroke="#000" stroke-width="1.1"/><text x="1656.4" y="635.1" font-size="12" font-weight="bold" text-anchor="start" fill="#000" textLength="45.6" lengthAdjust="spacingAndGlyphs" xml:space="preserve">Access</text><text x="1656.4" y="649.7" font-size="12" font-weight="bold" text-anchor="start" fill="#000" textLength="63.0" lengthAdjust="spacingAndGlyphs" xml:space="preserve">to capital</text>
<rect x="1582.6" y="718.6" width="125.0" height="42.6" rx="7" fill="#99CCFF" stroke="#000" stroke-width="1.1"/><text x="1645.1" y="735.7" font-size="12" font-weight="normal" text-anchor="middle" fill="#000" textLength="108.9" lengthAdjust="spacingAndGlyphs" xml:space="preserve">Lack of Affordable</text><text x="1645.1" y="750.3" font-size="12" font-weight="normal" text-anchor="middle" fill="#000" textLength="48.5" lengthAdjust="spacingAndGlyphs" xml:space="preserve">Housing</text>
<rect x="1559.4" y="766.4" width="85.2" height="26.9" rx="7" fill="#99CCFF" stroke="#000" stroke-width="1.1"/><text x="1602.0" y="783.5" font-size="12" font-weight="normal" text-anchor="middle" fill="#000" textLength="69.4" lengthAdjust="spacingAndGlyphs" xml:space="preserve">Segregaton</text>
<rect x="1614.4" y="800.5" width="75.1" height="39.0" rx="7" fill="#99CCFF" stroke="#000" stroke-width="1.1"/><text x="1652.0" y="817.6" font-size="12" font-weight="normal" text-anchor="middle" fill="#000" textLength="59.9" lengthAdjust="spacingAndGlyphs" xml:space="preserve">Structural</text><text x="1652.0" y="832.2" font-size="12" font-weight="normal" text-anchor="middle" fill="#000" textLength="43.0" lengthAdjust="spacingAndGlyphs" xml:space="preserve">Racism</text>
<rect x="1477.3" y="704.6" width="79.0" height="42.8" rx="7" fill="#008080"/><rect x="1473.4" y="700.6" width="79.0" height="42.8" rx="7" fill="#99CCFF" stroke="#000" stroke-width="1.1"/><text x="1482.4" y="717.7" font-size="12" font-weight="bold" text-anchor="start" fill="#000" textLength="44.6" lengthAdjust="spacingAndGlyphs" xml:space="preserve">lack of</text><text x="1482.4" y="732.3" font-size="12" font-weight="bold" text-anchor="start" fill="#000" textLength="62.4" lengthAdjust="spacingAndGlyphs" xml:space="preserve">financing</text>
<rect x="1518.1" y="829.5" width="55.0" height="24.8" rx="7" fill="#008080"/><rect x="1514.2" y="825.5" width="55.0" height="24.8" rx="7" fill="#CCFFCC" stroke="#000" stroke-width="1.1"/><text x="1541.7" y="842.6" font-size="12" font-weight="normal" text-anchor="middle" fill="#000" textLength="39.8" lengthAdjust="spacingAndGlyphs" xml:space="preserve">racism</text>
<rect x="1491.2" y="910.6" width="63.3" height="24.5" rx="7" fill="#008080"/><rect x="1487.3" y="906.6" width="63.3" height="24.5" rx="7" fill="#CCFFCC" stroke="#000" stroke-width="1.1"/><text x="1518.9" y="923.7" font-size="12" font-weight="normal" text-anchor="middle" fill="#000" textLength="47.9" lengthAdjust="spacingAndGlyphs" xml:space="preserve">workers</text>
<rect x="1403.2" y="850.7" width="101.2" height="42.6" rx="7" fill="#008080"/><rect x="1399.3" y="846.7" width="101.2" height="42.6" rx="7" fill="#CCFFCC" stroke="#000" stroke-width="1.1"/><text x="1408.3" y="863.8" font-size="12" font-weight="normal" text-anchor="start" fill="#000" textLength="47.8" lengthAdjust="spacingAndGlyphs" xml:space="preserve">children</text><text x="1408.3" y="878.4" font-size="12" font-weight="normal" text-anchor="start" fill="#000" textLength="84.0" lengthAdjust="spacingAndGlyphs" xml:space="preserve">of immigrants</text>
<rect x="1280.4" y="834.7" width="61.1" height="24.6" rx="7" fill="#EDF3F5" stroke="#000" stroke-width="1.1"/><text x="1311.0" y="851.8" font-size="12" font-weight="normal" text-anchor="middle" fill="#000" textLength="45.0" lengthAdjust="spacingAndGlyphs" xml:space="preserve">Income</text>
<rect x="1287.2" y="778.6" width="55.3" height="38.8" rx="7" fill="#EDF3F5" stroke="#000" stroke-width="1.1"/><text x="1314.8" y="795.7" font-size="12" font-weight="normal" text-anchor="middle" fill="#000" textLength="38.7" lengthAdjust="spacingAndGlyphs" xml:space="preserve">Senior</text><text x="1314.8" y="810.3" font-size="12" font-weight="normal" text-anchor="middle" fill="#000" textLength="27.9" lengthAdjust="spacingAndGlyphs" xml:space="preserve">Care</text>
<rect x="1072.3" y="938.4" width="87.0" height="38.7" rx="7" fill="#008080"/><rect x="1068.4" y="934.4" width="87.0" height="38.7" rx="7" fill="#FFCC99" stroke="#000" stroke-width="1.1"/><text x="1077.4" y="951.5" font-size="12" font-weight="normal" text-anchor="start" fill="#000" textLength="62.8" lengthAdjust="spacingAndGlyphs" xml:space="preserve">Treatment</text><text x="1077.4" y="966.1" font-size="12" font-weight="normal" text-anchor="start" fill="#000" textLength="71.0" lengthAdjust="spacingAndGlyphs" xml:space="preserve">of Prisoners</text>
<rect x="1091.4" y="861.3" width="97.1" height="42.9" rx="7" fill="#FFCC99" stroke="#000" stroke-width="1.1"/><text x="1140.0" y="878.4" font-size="12" font-weight="normal" text-anchor="middle" fill="#000" textLength="77.1" lengthAdjust="spacingAndGlyphs" xml:space="preserve">High percent</text><text x="1140.0" y="893.0" font-size="12" font-weight="normal" text-anchor="middle" fill="#000" textLength="33.0" lengthAdjust="spacingAndGlyphs" xml:space="preserve">in jail</text>
<rect x="1201.4" y="900.5" width="151.2" height="57.0" rx="7" fill="#FFCC99" stroke="#000" stroke-width="1.1"/><text x="1277.0" y="917.6" font-size="12" font-weight="normal" text-anchor="middle" fill="#000" textLength="49.1" lengthAdjust="spacingAndGlyphs" xml:space="preserve">Prisoner</text><text x="1277.0" y="932.2" font-size="12" font-weight="normal" text-anchor="middle" fill="#000" textLength="132.2" lengthAdjust="spacingAndGlyphs" xml:space="preserve">re-entry concentrated</text><text x="1277.0" y="946.8" font-size="12" font-weight="normal" text-anchor="middle" fill="#000" textLength="135.4" lengthAdjust="spacingAndGlyphs" xml:space="preserve">in poor neighborhoods</text>
<rect x="897.5" y="745.3" width="58.9" height="38.8" rx="7" fill="#EDF3F5" stroke="#000" stroke-width="1.1"/><text x="927.0" y="762.4" font-size="12" font-weight="normal" text-anchor="middle" fill="#000" textLength="44.0" lengthAdjust="spacingAndGlyphs" xml:space="preserve">Spouse</text><text x="927.0" y="777.0" font-size="12" font-weight="normal" text-anchor="middle" fill="#000" textLength="36.7" lengthAdjust="spacingAndGlyphs" xml:space="preserve">Abuse</text>
<rect x="853.6" y="798.6" width="86.7" height="54.5" rx="7" fill="#FFFF99" stroke="#000" stroke-width="1.1"/><text x="897.0" y="815.7" font-size="12" font-weight="bold" text-anchor="middle" fill="#000" textLength="46.1" lengthAdjust="spacingAndGlyphs" xml:space="preserve">Gangs,</text><text x="897.0" y="830.3" font-size="12" font-weight="bold" text-anchor="middle" fill="#000" textLength="71.5" lengthAdjust="spacingAndGlyphs" xml:space="preserve">Shootings,</text><text x="897.0" y="844.9" font-size="12" font-weight="bold" text-anchor="middle" fill="#000" textLength="62.6" lengthAdjust="spacingAndGlyphs" xml:space="preserve">Homicide</text>
<rect x="918.7" y="853.6" width="72.5" height="42.9" rx="7" fill="#FFFFFF" stroke="#000" stroke-width="1.1"/><text x="955.0" y="870.7" font-size="12" font-weight="normal" text-anchor="middle" fill="#000" textLength="38.0" lengthAdjust="spacingAndGlyphs" xml:space="preserve">school</text><text x="955.0" y="885.3" font-size="12" font-weight="normal" text-anchor="middle" fill="#000" textLength="57.8" lengthAdjust="spacingAndGlyphs" xml:space="preserve">shootings</text>
<rect x="969.3" y="811.8" width="87.2" height="24.5" rx="7" fill="#EDF3F5" stroke="#000" stroke-width="1.1"/><text x="1012.9" y="828.9" font-size="12" font-weight="normal" text-anchor="middle" fill="#000" textLength="70.9" lengthAdjust="spacingAndGlyphs" xml:space="preserve">Child Abuse</text>
<rect x="975.5" y="776.7" width="76.7" height="26.3" rx="7" fill="#008080"/><rect x="971.6" y="772.7" width="76.7" height="26.3" rx="7" fill="#FF99CC" stroke="#000" stroke-width="1.1"/><text x="1010.0" y="789.8" font-size="12" font-weight="bold" text-anchor="middle" fill="#000" textLength="60.6" lengthAdjust="spacingAndGlyphs" xml:space="preserve">by Police</text>
<rect x="1800.5" y="633.5" width="42.9" height="24.8" rx="7" fill="#EDF3F5" stroke="#000" stroke-width="1.1"/><text x="1822.0" y="650.6" font-size="12" font-weight="normal" text-anchor="middle" fill="#000" textLength="26.2" lengthAdjust="spacingAndGlyphs" xml:space="preserve">????</text>
<rect x="920.5" y="999.7" width="177.0" height="96.6" rx="7" fill="#CCFFCC" stroke="#000" stroke-width="1.1"/><text x="1009.0" y="1025.2" font-size="24" font-weight="bold" text-anchor="middle" fill="#000" textLength="142.3" lengthAdjust="spacingAndGlyphs" xml:space="preserve">Visit these</text><text x="1009.0" y="1054.4" font-size="24" font-weight="bold" text-anchor="middle" fill="#000" textLength="110.3" lengthAdjust="spacingAndGlyphs" xml:space="preserve">sites for</text><text x="1009.0" y="1083.5" font-size="24" font-weight="bold" text-anchor="middle" fill="#000" textLength="161.9" lengthAdjust="spacingAndGlyphs" xml:space="preserve">more issues</text>
<rect x="1110.4" y="1033.6" width="237.6" height="88.5" rx="7" fill="#FFFF00" stroke="#000" stroke-width="1.1"/><text x="1229.2" y="1049.6" font-size="12" font-weight="bold" text-anchor="middle" fill="#000" textLength="129.4" lengthAdjust="spacingAndGlyphs" xml:space="preserve">Also, while poverty</text><text x="1229.2" y="1064.2" font-size="12" font-weight="bold" text-anchor="middle" fill="#000" textLength="156.8" lengthAdjust="spacingAndGlyphs" xml:space="preserve">is a root cause of many</text><text x="1229.2" y="1078.8" font-size="12" font-weight="bold" text-anchor="middle" fill="#000" textLength="133.3" lengthAdjust="spacingAndGlyphs" xml:space="preserve">problems, there are</text><text x="1229.2" y="1093.3" font-size="12" font-weight="bold" text-anchor="middle" fill="#000" textLength="221.4" lengthAdjust="spacingAndGlyphs" xml:space="preserve">other issues of equal importance</text><text x="1229.2" y="1107.9" font-size="12" font-weight="bold" text-anchor="middle" fill="#000" textLength="132.2" lengthAdjust="spacingAndGlyphs" xml:space="preserve">in a complex world.</text>
<rect x="780.3" y="1042.6" width="128.8" height="42.6" rx="7" fill="#000080"/><rect x="776.4" y="1038.6" width="128.8" height="42.6" rx="7" fill="#FFCCCC" stroke="#000" stroke-width="1.1"/><text x="840.8" y="1055.7" font-size="12" font-weight="bold" text-anchor="middle" fill="#000" textLength="79.4" lengthAdjust="spacingAndGlyphs" xml:space="preserve">Reclaim the</text><text x="840.8" y="1070.3" font-size="12" font-weight="bold" text-anchor="middle" fill="#000" textLength="112.4" lengthAdjust="spacingAndGlyphs" xml:space="preserve">American Dream</text>
<rect x="1137.5" y="1141.6" width="74.3" height="42.6" rx="7" fill="#000080"/><rect x="1133.6" y="1137.6" width="74.3" height="42.6" rx="7" fill="#FFCCCC" stroke="#000" stroke-width="1.1"/><text x="1170.8" y="1154.7" font-size="12" font-weight="bold" text-anchor="middle" fill="#000" textLength="54.5" lengthAdjust="spacingAndGlyphs" xml:space="preserve">Sanders</text><text x="1170.8" y="1169.3" font-size="12" font-weight="bold" text-anchor="middle" fill="#000" textLength="59.2" lengthAdjust="spacingAndGlyphs" xml:space="preserve">Institute</text>
<rect x="800.3" y="1171.8" width="109.0" height="42.0" rx="7" fill="#000080"/><rect x="796.4" y="1167.8" width="109.0" height="42.0" rx="7" fill="#FFCCCC" stroke="#000" stroke-width="1.1"/><text x="850.9" y="1184.9" font-size="12" font-weight="bold" text-anchor="middle" fill="#000" textLength="93.2" lengthAdjust="spacingAndGlyphs" xml:space="preserve">The Longview</text><text x="850.9" y="1199.5" font-size="12" font-weight="bold" text-anchor="middle" fill="#000" textLength="59.2" lengthAdjust="spacingAndGlyphs" xml:space="preserve">Institute</text>
<rect x="1039.6" y="1217.7" width="96.9" height="42.6" rx="7" fill="#000080"/><rect x="1035.7" y="1213.7" width="96.9" height="42.6" rx="7" fill="#FFCCCC" stroke="#000" stroke-width="1.1"/><text x="1084.2" y="1230.8" font-size="12" font-weight="bold" text-anchor="middle" fill="#000" textLength="72.6" lengthAdjust="spacingAndGlyphs" xml:space="preserve">Policy Link</text><text x="1084.2" y="1245.4" font-size="12" font-weight="bold" text-anchor="middle" fill="#000" textLength="80.8" lengthAdjust="spacingAndGlyphs" xml:space="preserve">Issue Briefs</text>
<rect x="806.5" y="1252.5" width="86.5" height="28.5" rx="7" fill="#000080"/><rect x="802.6" y="1248.5" width="86.5" height="28.5" rx="7" fill="#FFCCCC" stroke="#000" stroke-width="1.1"/><text x="845.9" y="1265.6" font-size="12" font-weight="bold" text-anchor="middle" fill="#000" textLength="71.4" lengthAdjust="spacingAndGlyphs" xml:space="preserve">Our States</text>
<rect x="913.6" y="1262.7" width="116.5" height="28.3" rx="7" fill="#000080"/><rect x="909.7" y="1258.7" width="116.5" height="28.3" rx="7" fill="#FFCCCC" stroke="#000" stroke-width="1.1"/><text x="968.0" y="1275.8" font-size="12" font-weight="bold" text-anchor="middle" fill="#000" textLength="101.2" lengthAdjust="spacingAndGlyphs" xml:space="preserve">Our Revolution</text>
<rect x="1008.4" y="1361.8" width="135.0" height="82.7" rx="7" fill="#008080"/><rect x="1004.5" y="1357.8" width="135.0" height="82.7" rx="7" fill="#CCFFCC" stroke="#000" stroke-width="1.1"/><text x="1072.0" y="1388.9" font-size="32" font-weight="bold" text-anchor="middle" fill="#000" textLength="106.8" lengthAdjust="spacingAndGlyphs" xml:space="preserve">Social</text><text x="1072.0" y="1427.8" font-size="32" font-weight="bold" text-anchor="middle" fill="#000" textLength="118.4" lengthAdjust="spacingAndGlyphs" xml:space="preserve">Issues</text>
<rect x="1180.2" y="1315.5" width="112.9" height="62.8" rx="7" fill="#008080"/><rect x="1176.3" y="1311.5" width="112.9" height="62.8" rx="7" fill="#FFFF99" stroke="#000" stroke-width="1.1"/><text x="1232.8" y="1330.0" font-size="14" font-weight="bold" text-anchor="middle" fill="#000" textLength="56.7" lengthAdjust="spacingAndGlyphs" xml:space="preserve">protect</text><text x="1232.8" y="1347.0" font-size="14" font-weight="bold" text-anchor="middle" fill="#000" textLength="96.1" lengthAdjust="spacingAndGlyphs" xml:space="preserve">transgender</text><text x="1232.8" y="1364.0" font-size="14" font-weight="bold" text-anchor="middle" fill="#000" textLength="46.2" lengthAdjust="spacingAndGlyphs" xml:space="preserve">rights</text>
<rect x="1294.5" y="1394.4" width="178.8" height="60.9" rx="7" fill="#993300"/><rect x="1290.6" y="1390.4" width="178.8" height="60.9" rx="7" fill="#FFFF00" stroke="#000" stroke-width="1.1"/><text x="1380.0" y="1408.9" font-size="14" font-weight="bold" text-anchor="middle" fill="#000" textLength="163.1" lengthAdjust="spacingAndGlyphs" xml:space="preserve">Pass laws protecting</text><text x="1380.0" y="1425.9" font-size="14" font-weight="bold" text-anchor="middle" fill="#000" textLength="133.0" lengthAdjust="spacingAndGlyphs" xml:space="preserve">Women's Rights;</text><text x="1380.0" y="1442.9" font-size="14" font-weight="bold" text-anchor="middle" fill="#000" textLength="68.0" lengthAdjust="spacingAndGlyphs" xml:space="preserve">Abortion</text>
<rect x="1288.4" y="1472.6" width="94.7" height="58.8" rx="7" fill="#008080"/><rect x="1284.5" y="1468.6" width="94.7" height="58.8" rx="7" fill="#FFFF99" stroke="#000" stroke-width="1.1"/><text x="1331.8" y="1487.1" font-size="14" font-weight="bold" text-anchor="middle" fill="#000" textLength="56.7" lengthAdjust="spacingAndGlyphs" xml:space="preserve">protect</text><text x="1331.8" y="1504.1" font-size="14" font-weight="bold" text-anchor="middle" fill="#000" textLength="76.1" lengthAdjust="spacingAndGlyphs" xml:space="preserve">LGBGT IN</text><text x="1331.8" y="1521.1" font-size="14" font-weight="bold" text-anchor="middle" fill="#000" textLength="79.2" lengthAdjust="spacingAndGlyphs" xml:space="preserve">MILITARY</text>
<rect x="901.5" y="1458.4" width="140.7" height="74.7" rx="7" fill="#993300"/><rect x="897.6" y="1454.4" width="140.7" height="74.7" rx="7" fill="#FFFF99" stroke="#000" stroke-width="1.1"/><text x="968.0" y="1474.3" font-size="16" font-weight="bold" text-anchor="middle" fill="#000" textLength="72.3" lengthAdjust="spacingAndGlyphs" xml:space="preserve">Address</text><text x="968.0" y="1493.7" font-size="16" font-weight="bold" text-anchor="middle" fill="#000" textLength="125.6" lengthAdjust="spacingAndGlyphs" xml:space="preserve">private prison</text><text x="968.0" y="1513.2" font-size="16" font-weight="bold" text-anchor="middle" fill="#000" textLength="74.6" lengthAdjust="spacingAndGlyphs" xml:space="preserve">industry</text>
<rect x="1021.5" y="1538.5" width="148.7" height="60.7" rx="7" fill="#008080"/><rect x="1017.6" y="1534.5" width="148.7" height="60.7" rx="7" fill="#FFFF99" stroke="#000" stroke-width="1.1"/><text x="1092.0" y="1553.0" font-size="14" font-weight="bold" text-anchor="middle" fill="#000" textLength="132.6" lengthAdjust="spacingAndGlyphs" xml:space="preserve">Reverse growing</text><text x="1092.0" y="1570.0" font-size="14" font-weight="bold" text-anchor="middle" fill="#000" textLength="86.3" lengthAdjust="spacingAndGlyphs" xml:space="preserve">racism and</text><text x="1092.0" y="1587.0" font-size="14" font-weight="bold" text-anchor="middle" fill="#000" textLength="108.7" lengthAdjust="spacingAndGlyphs" xml:space="preserve">anti-semitism</text>
<rect x="1169.5" y="1593.7" width="94.5" height="60.5" rx="7" fill="#993300"/><rect x="1165.6" y="1589.7" width="94.5" height="60.5" rx="7" fill="#FF99CC" stroke="#000" stroke-width="1.1"/><text x="1212.8" y="1608.2" font-size="14" font-weight="bold" text-anchor="middle" fill="#000" textLength="56.7" lengthAdjust="spacingAndGlyphs" xml:space="preserve">protect</text><text x="1212.8" y="1625.2" font-size="14" font-weight="bold" text-anchor="middle" fill="#000" textLength="64.6" lengthAdjust="spacingAndGlyphs" xml:space="preserve">youth in</text><text x="1212.8" y="1642.2" font-size="14" font-weight="bold" text-anchor="middle" fill="#000" textLength="79.7" lengthAdjust="spacingAndGlyphs" xml:space="preserve">workforce</text>
<rect x="1292.6" y="1556.6" width="130.4" height="60.6" rx="7" fill="#993300"/><rect x="1288.7" y="1552.6" width="130.4" height="60.6" rx="7" fill="#FFFF99" stroke="#000" stroke-width="1.1"/><text x="1353.9" y="1571.1" font-size="14" font-weight="bold" text-anchor="middle" fill="#000" textLength="86.3" lengthAdjust="spacingAndGlyphs" xml:space="preserve">strengthen</text><text x="1353.9" y="1588.1" font-size="14" font-weight="bold" text-anchor="middle" fill="#000" textLength="104.1" lengthAdjust="spacingAndGlyphs" xml:space="preserve">separation of</text><text x="1353.9" y="1605.1" font-size="14" font-weight="bold" text-anchor="middle" fill="#000" textLength="114.7" lengthAdjust="spacingAndGlyphs" xml:space="preserve">church &amp; state</text>
<rect x="1942.5" y="88.3" width="141.1" height="56.8" rx="0" fill="#800080"/><rect x="1938.6" y="84.3" width="141.1" height="56.8" rx="0" fill="#FFCCCC" stroke="#000" stroke-width="1.1"/><text x="2009.1" y="95.5" font-size="10" font-weight="bold" text-anchor="middle" fill="#2200CC" textLength="62.8" lengthAdjust="spacingAndGlyphs" xml:space="preserve">FEEDBACK:</text><text x="2009.1" y="107.7" font-size="10" font-weight="bold" text-anchor="middle" fill="#2200CC" textLength="90.1" lengthAdjust="spacingAndGlyphs" xml:space="preserve">Use this contact</text><text x="2009.1" y="119.8" font-size="10" font-weight="bold" text-anchor="middle" fill="#2200CC" textLength="133.8" lengthAdjust="spacingAndGlyphs" xml:space="preserve">form to let us know you</text><text x="2009.1" y="131.9" font-size="10" font-weight="bold" text-anchor="middle" fill="#2200CC" textLength="95.7" lengthAdjust="spacingAndGlyphs" xml:space="preserve">viewed this map.</text>
<rect x="1956.6" y="164.4" width="132.5" height="78.5" rx="7" fill="#008080"/><rect x="1952.7" y="160.4" width="132.5" height="78.5" rx="7" fill="#FFCC99" stroke="#000" stroke-width="1.1"/><text x="2018.9" y="191.5" font-size="32" font-weight="bold" text-anchor="middle" fill="#000" textLength="117.7" lengthAdjust="spacingAndGlyphs" xml:space="preserve">Health</text><text x="2018.9" y="230.4" font-size="32" font-weight="bold" text-anchor="middle" fill="#000" textLength="81.7" lengthAdjust="spacingAndGlyphs" xml:space="preserve">Care</text>
<rect x="2120.5" y="136.5" width="192.4" height="60.3" rx="7" fill="#993300"/><rect x="2116.6" y="132.5" width="192.4" height="60.3" rx="7" fill="#FFFF00" stroke="#000" stroke-width="1.1"/><text x="2212.8" y="151.0" font-size="14" font-weight="bold" text-anchor="middle" fill="#000" textLength="131.6" lengthAdjust="spacingAndGlyphs" xml:space="preserve">Undo all damage</text><text x="2212.8" y="168.0" font-size="14" font-weight="bold" text-anchor="middle" fill="#000" textLength="139.8" lengthAdjust="spacingAndGlyphs" xml:space="preserve">caused by Project</text><text x="2212.8" y="185.0" font-size="14" font-weight="bold" text-anchor="middle" fill="#000" textLength="177.8" lengthAdjust="spacingAndGlyphs" xml:space="preserve">2025 &amp; current admin.</text>
<rect x="2316.3" y="165.4" width="210.7" height="46.5" rx="7" fill="#008080"/><rect x="2312.4" y="161.4" width="210.7" height="46.5" rx="7" fill="#FFFF99" stroke="#000" stroke-width="1.1"/><text x="2417.8" y="179.9" font-size="14" font-weight="bold" text-anchor="middle" fill="#000" textLength="171.4" lengthAdjust="spacingAndGlyphs" xml:space="preserve">Add full dental, vision</text><text x="2417.8" y="196.9" font-size="14" font-weight="bold" text-anchor="middle" fill="#000" textLength="190.6" lengthAdjust="spacingAndGlyphs" xml:space="preserve">and hearing to Medicare</text>
<rect x="2340.4" y="249.4" width="158.7" height="30.0" rx="7" fill="#993300"/><rect x="2336.5" y="245.4" width="158.7" height="30.0" rx="7" fill="#CCFFCC" stroke="#000" stroke-width="1.1"/><text x="2415.8" y="262.5" font-size="12" font-weight="bold" text-anchor="middle" fill="#000" textLength="143.4" lengthAdjust="spacingAndGlyphs" xml:space="preserve">Hospital Crisis Watch</text>
<rect x="1851.5" y="253.7" width="130.6" height="96.1" rx="7" fill="#993300"/><rect x="1847.6" y="249.7" width="130.6" height="96.1" rx="7" fill="#FFFF99" stroke="#000" stroke-width="1.1"/><text x="1912.9" y="268.2" font-size="14" font-weight="bold" text-anchor="middle" fill="#000" textLength="70.1" lengthAdjust="spacingAndGlyphs" xml:space="preserve">Covid-19</text><text x="1912.9" y="285.2" font-size="14" font-weight="bold" text-anchor="middle" fill="#000" textLength="114.7" lengthAdjust="spacingAndGlyphs" xml:space="preserve">is still with us.</text><text x="1912.9" y="319.2" font-size="14" font-weight="bold" text-anchor="middle" fill="#000" textLength="89.2" lengthAdjust="spacingAndGlyphs" xml:space="preserve">Prepare for</text><text x="1912.9" y="336.2" font-size="14" font-weight="bold" text-anchor="middle" fill="#000" textLength="115.6" lengthAdjust="spacingAndGlyphs" xml:space="preserve">next epidemic.</text>
<rect x="2280.9" y="304.5" width="267.8" height="42.0" rx="7" fill="#993300"/><rect x="2277.0" y="300.5" width="267.8" height="42.0" rx="7" fill="#FFFF99" stroke="#000" stroke-width="1.1"/><text x="2410.9" y="317.6" font-size="12" font-weight="bold" text-anchor="middle" fill="#000" textLength="253.7" lengthAdjust="spacingAndGlyphs" xml:space="preserve">Lower costs of health care, drugs, etc</text><text x="2410.9" y="332.2" font-size="12" font-weight="bold" text-anchor="middle" fill="#000" textLength="175.2" lengthAdjust="spacingAndGlyphs" xml:space="preserve">to levels similar in Europe</text>
<rect x="1879.4" y="364.7" width="150.5" height="59.9" rx="7" fill="#993300"/><rect x="1875.5" y="360.7" width="150.5" height="59.9" rx="7" fill="#FFFF99" stroke="#000" stroke-width="1.1"/><text x="1950.8" y="379.2" font-size="14" font-weight="bold" text-anchor="middle" fill="#000" textLength="81.4" lengthAdjust="spacingAndGlyphs" xml:space="preserve">Fully Fund</text><text x="1950.8" y="396.2" font-size="14" font-weight="bold" text-anchor="middle" fill="#000" textLength="134.9" lengthAdjust="spacingAndGlyphs" xml:space="preserve">Children's Health</text><text x="1950.8" y="413.2" font-size="14" font-weight="bold" text-anchor="middle" fill="#000" textLength="79.7" lengthAdjust="spacingAndGlyphs" xml:space="preserve">Insurance</text>
<rect x="2071.9" y="377.5" width="126.0" height="60.2" rx="7" fill="#008080"/><rect x="2068.0" y="373.5" width="126.0" height="60.2" rx="7" fill="#FFFF99" stroke="#000" stroke-width="1.1"/><text x="2131.0" y="392.0" font-size="14" font-weight="bold" text-anchor="middle" fill="#000" textLength="87.9" lengthAdjust="spacingAndGlyphs" xml:space="preserve">Strengthen</text><text x="2131.0" y="409.0" font-size="14" font-weight="bold" text-anchor="middle" fill="#000" textLength="111.0" lengthAdjust="spacingAndGlyphs" xml:space="preserve">ACA, Medicaid</text><text x="2131.0" y="426.0" font-size="14" font-weight="bold" text-anchor="middle" fill="#000" textLength="104.9" lengthAdjust="spacingAndGlyphs" xml:space="preserve">and Medicare</text>
<rect x="2250.6" y="372.7" width="160.1" height="70.2" rx="7" fill="#993300"/><rect x="2246.7" y="368.7" width="160.1" height="70.2" rx="7" fill="#FFFF00" stroke="#000" stroke-width="1.1"/><text x="2326.8" y="385.8" font-size="12" font-weight="bold" text-anchor="middle" fill="#000" textLength="145.0" lengthAdjust="spacingAndGlyphs" xml:space="preserve">Members of Congress</text><text x="2326.8" y="400.4" font-size="12" font-weight="bold" text-anchor="middle" fill="#000" textLength="81.4" lengthAdjust="spacingAndGlyphs" xml:space="preserve">should have</text><text x="2326.8" y="415.0" font-size="12" font-weight="bold" text-anchor="middle" fill="#000" textLength="134.9" lengthAdjust="spacingAndGlyphs" xml:space="preserve">same health care as</text><text x="2326.8" y="429.5" font-size="12" font-weight="bold" text-anchor="middle" fill="#000" textLength="44.9" lengthAdjust="spacingAndGlyphs" xml:space="preserve">public.</text>
<rect x="2164.4" y="472.5" width="156.5" height="26.5" rx="7" fill="#FF6600"/><rect x="2160.5" y="468.5" width="156.5" height="26.5" rx="7" fill="#CCFFCC" stroke="#000" stroke-width="1.1"/><text x="2238.8" y="487.0" font-size="14" font-weight="bold" text-anchor="middle" fill="#000" textLength="141.5" lengthAdjust="spacingAndGlyphs" xml:space="preserve">Influence of Putin</text>
<rect x="1993.4" y="518.8" width="182.8" height="78.3" rx="7" fill="#FF6600"/><rect x="1989.5" y="514.8" width="182.8" height="78.3" rx="7" fill="#CCFFCC" stroke="#000" stroke-width="1.1"/><text x="2080.9" y="545.9" font-size="32" font-weight="bold" text-anchor="middle" fill="#000" textLength="136.0" lengthAdjust="spacingAndGlyphs" xml:space="preserve">Foreign</text><text x="2080.9" y="584.8" font-size="32" font-weight="bold" text-anchor="middle" fill="#000" textLength="167.9" lengthAdjust="spacingAndGlyphs" xml:space="preserve">Relations</text>
<rect x="2354.5" y="483.6" width="194.6" height="62.0" rx="7" fill="#993300"/><rect x="2350.6" y="479.6" width="194.6" height="62.0" rx="7" fill="#FF99CC" stroke="#000" stroke-width="1.1"/><text x="2447.9" y="498.1" font-size="14" font-weight="bold" text-anchor="middle" fill="#000" textLength="101.5" lengthAdjust="spacingAndGlyphs" xml:space="preserve">Help Ukraine</text><text x="2447.9" y="515.1" font-size="14" font-weight="bold" text-anchor="middle" fill="#000" textLength="179.5" lengthAdjust="spacingAndGlyphs" xml:space="preserve">Defeat Russia; prevent</text><text x="2447.9" y="532.1" font-size="14" font-weight="bold" text-anchor="middle" fill="#000" textLength="159.0" lengthAdjust="spacingAndGlyphs" xml:space="preserve">war from expanding</text>
<rect x="2374.7" y="560.9" width="210.2" height="45.8" rx="7" fill="#993300"/><rect x="2370.8" y="556.9" width="210.2" height="45.8" rx="7" fill="#FF99CC" stroke="#000" stroke-width="1.1"/><text x="2475.9" y="575.4" font-size="14" font-weight="bold" text-anchor="middle" fill="#000" textLength="113.7" lengthAdjust="spacingAndGlyphs" xml:space="preserve">Bring peace to</text><text x="2475.9" y="592.4" font-size="14" font-weight="bold" text-anchor="middle" fill="#000" textLength="194.5" lengthAdjust="spacingAndGlyphs" xml:space="preserve">Gaza, Israel, Middle East</text>
<rect x="1974.7" y="679.9" width="132.5" height="54.2" rx="7" fill="#993300"/><rect x="1970.8" y="675.9" width="132.5" height="54.2" rx="7" fill="#CCFFCC" stroke="#000" stroke-width="1.1"/><text x="2037.1" y="693.0" font-size="12" font-weight="bold" text-anchor="middle" fill="#000" textLength="95.7" lengthAdjust="spacingAndGlyphs" xml:space="preserve">Keep N. Korea</text><text x="2037.1" y="707.6" font-size="12" font-weight="bold" text-anchor="middle" fill="#000" textLength="117.8" lengthAdjust="spacingAndGlyphs" xml:space="preserve">from destablizing</text><text x="2037.1" y="722.2" font-size="12" font-weight="bold" text-anchor="middle" fill="#000" textLength="51.9" lengthAdjust="spacingAndGlyphs" xml:space="preserve">far East</text>
<rect x="1958.4" y="616.0" width="196.4" height="45.8" rx="7" fill="#993300"/><rect x="1954.5" y="612.0" width="196.4" height="45.8" rx="7" fill="#FFFF00" stroke="#000" stroke-width="1.1"/><text x="2052.7" y="630.5" font-size="14" font-weight="bold" text-anchor="middle" fill="#000" textLength="142.1" lengthAdjust="spacingAndGlyphs" xml:space="preserve">Help South Korea,</text><text x="2052.7" y="647.5" font-size="14" font-weight="bold" text-anchor="middle" fill="#000" textLength="176.6" lengthAdjust="spacingAndGlyphs" xml:space="preserve">Japan, other countries</text>
<rect x="2379.5" y="734.7" width="176.5" height="62.1" rx="7" fill="#993300"/><rect x="2375.6" y="730.7" width="176.5" height="62.1" rx="7" fill="#99CC00" stroke="#000" stroke-width="1.1"/><text x="2463.8" y="749.2" font-size="14" font-weight="bold" text-anchor="middle" fill="#000" textLength="136.0" lengthAdjust="spacingAndGlyphs" xml:space="preserve">Reverse negative</text><text x="2463.8" y="766.2" font-size="14" font-weight="bold" text-anchor="middle" fill="#000" textLength="161.5" lengthAdjust="spacingAndGlyphs" xml:space="preserve">impact on Women in</text><text x="2463.8" y="783.2" font-size="14" font-weight="bold" text-anchor="middle" fill="#000" textLength="94.6" lengthAdjust="spacingAndGlyphs" xml:space="preserve">Afghanistan</text>
<rect x="2353.6" y="631.7" width="184.3" height="76.2" rx="7" fill="#993300"/><rect x="2349.7" y="627.7" width="184.3" height="76.2" rx="7" fill="#CCFFCC" stroke="#000" stroke-width="1.1"/><text x="2441.8" y="646.2" font-size="14" font-weight="bold" text-anchor="middle" fill="#000" textLength="111.4" lengthAdjust="spacingAndGlyphs" xml:space="preserve">Build peaceful</text><text x="2441.8" y="663.2" font-size="14" font-weight="bold" text-anchor="middle" fill="#000" textLength="145.3" lengthAdjust="spacingAndGlyphs" xml:space="preserve">Trade Competition</text><text x="2441.8" y="680.2" font-size="14" font-weight="bold" text-anchor="middle" fill="#000" textLength="169.1" lengthAdjust="spacingAndGlyphs" xml:space="preserve">with China, India and</text><text x="2441.8" y="697.2" font-size="14" font-weight="bold" text-anchor="middle" fill="#000" textLength="120.5" lengthAdjust="spacingAndGlyphs" xml:space="preserve">other countries</text>
<rect x="2018.4" y="752.8" width="148.5" height="76.2" rx="7" fill="#993300"/><rect x="2014.5" y="748.8" width="148.5" height="76.2" rx="7" fill="#FFFF00" stroke="#000" stroke-width="1.1"/><text x="2088.8" y="767.3" font-size="14" font-weight="bold" text-anchor="middle" fill="#000" textLength="111.5" lengthAdjust="spacingAndGlyphs" xml:space="preserve">Give attention</text><text x="2088.8" y="784.3" font-size="14" font-weight="bold" text-anchor="middle" fill="#000" textLength="87.0" lengthAdjust="spacingAndGlyphs" xml:space="preserve">to conflicts</text><text x="2088.8" y="801.3" font-size="14" font-weight="bold" text-anchor="middle" fill="#000" textLength="127.7" lengthAdjust="spacingAndGlyphs" xml:space="preserve">in other parts of</text><text x="2088.8" y="818.3" font-size="14" font-weight="bold" text-anchor="middle" fill="#000" textLength="80.3" lengthAdjust="spacingAndGlyphs" xml:space="preserve">the world.</text>
<rect x="2179.5" y="747.7" width="182.8" height="62.3" rx="7" fill="#FF6600"/><rect x="2175.6" y="743.7" width="182.8" height="62.3" rx="7" fill="#CCFFCC" stroke="#000" stroke-width="1.1"/><text x="2267.0" y="762.2" font-size="14" font-weight="bold" text-anchor="middle" fill="#000" textLength="162.9" lengthAdjust="spacingAndGlyphs" xml:space="preserve">Re-Build/strengthen</text><text x="2267.0" y="779.2" font-size="14" font-weight="bold" text-anchor="middle" fill="#000" textLength="115.0" lengthAdjust="spacingAndGlyphs" xml:space="preserve">NATO and USA</text><text x="2267.0" y="796.2" font-size="14" font-weight="bold" text-anchor="middle" fill="#000" textLength="87.8" lengthAdjust="spacingAndGlyphs" xml:space="preserve">friendships</text>
<rect x="1728.6" y="844.0" width="258.8" height="50.0" rx="7" fill="#993300"/><rect x="1724.7" y="840.0" width="258.8" height="50.0" rx="7" fill="#CCFFCC" stroke="#000" stroke-width="1.1"/><text x="1854.1" y="858.5" font-size="14" font-weight="bold" text-anchor="middle" fill="#000" textLength="148.6" lengthAdjust="spacingAndGlyphs" xml:space="preserve">Look at options for</text><text x="1854.1" y="875.5" font-size="14" font-weight="bold" text-anchor="middle" fill="#000" textLength="243.1" lengthAdjust="spacingAndGlyphs" xml:space="preserve">changing how we elect leaders</text>
<rect x="1651.7" y="933.0" width="216.2" height="83.9" rx="7" fill="#FFCC99" stroke="#000" stroke-width="1.1"/><text x="1759.8" y="963.6" font-size="32" font-weight="bold" text-anchor="middle" fill="#000" textLength="201.0" lengthAdjust="spacingAndGlyphs" xml:space="preserve">Strengthen</text><text x="1759.8" y="1002.5" font-size="32" font-weight="bold" text-anchor="middle" fill="#000" textLength="199.4" lengthAdjust="spacingAndGlyphs" xml:space="preserve">Democracy</text>
<rect x="1933.5" y="937.6" width="94.9" height="62.3" rx="7" fill="#993300"/><rect x="1929.6" y="933.6" width="94.9" height="62.3" rx="7" fill="#FF99CC" stroke="#000" stroke-width="1.1"/><text x="1977.0" y="952.1" font-size="14" font-weight="bold" text-anchor="middle" fill="#000" textLength="78.2" lengthAdjust="spacingAndGlyphs" xml:space="preserve">Eleminate</text><text x="1977.0" y="969.1" font-size="14" font-weight="bold" text-anchor="middle" fill="#000" textLength="73.8" lengthAdjust="spacingAndGlyphs" xml:space="preserve">Electorial</text><text x="1977.0" y="986.1" font-size="14" font-weight="bold" text-anchor="middle" fill="#000" textLength="57.7" lengthAdjust="spacingAndGlyphs" xml:space="preserve">College</text>
<rect x="1473.6" y="1004.7" width="100.4" height="50.0" rx="7" fill="#993300"/><rect x="1469.7" y="1000.7" width="100.4" height="50.0" rx="7" fill="#FFFF00" stroke="#000" stroke-width="1.1"/><text x="1519.9" y="1019.2" font-size="14" font-weight="bold" text-anchor="middle" fill="#000" textLength="84.0" lengthAdjust="spacingAndGlyphs" xml:space="preserve">End Prison</text><text x="1519.9" y="1036.2" font-size="14" font-weight="bold" text-anchor="middle" fill="#000" textLength="68.0" lengthAdjust="spacingAndGlyphs" xml:space="preserve">Pipeline.</text>
<rect x="1968.6" y="1074.0" width="104.6" height="59.7" rx="7" fill="#FFCC99" stroke="#000" stroke-width="1.1"/><text x="2020.9" y="1092.5" font-size="14" font-weight="bold" text-anchor="middle" fill="#000" textLength="84.0" lengthAdjust="spacingAndGlyphs" xml:space="preserve">Pass Voter</text><text x="2020.9" y="1109.5" font-size="14" font-weight="bold" text-anchor="middle" fill="#000" textLength="81.5" lengthAdjust="spacingAndGlyphs" xml:space="preserve">Protection</text><text x="2020.9" y="1126.5" font-size="14" font-weight="bold" text-anchor="middle" fill="#000" textLength="36.1" lengthAdjust="spacingAndGlyphs" xml:space="preserve">laws</text>
<rect x="1895.4" y="1021.7" width="201.0" height="28.4" rx="7" fill="#FFCC99" stroke="#000" stroke-width="1.1"/><text x="1995.9" y="1040.2" font-size="14" font-weight="bold" text-anchor="middle" fill="#000" textLength="185.9" lengthAdjust="spacingAndGlyphs" xml:space="preserve">Public funding of media</text>
<rect x="1440.4" y="1100.6" width="112.9" height="76.8" rx="7" fill="#993300"/><rect x="1436.5" y="1096.6" width="112.9" height="76.8" rx="7" fill="#FFFF00" stroke="#000" stroke-width="1.1"/><text x="1493.0" y="1115.1" font-size="14" font-weight="bold" text-anchor="middle" fill="#000" textLength="83.3" lengthAdjust="spacingAndGlyphs" xml:space="preserve">No elected</text><text x="1493.0" y="1132.1" font-size="14" font-weight="bold" text-anchor="middle" fill="#000" textLength="83.8" lengthAdjust="spacingAndGlyphs" xml:space="preserve">shall trade</text><text x="1493.0" y="1149.1" font-size="14" font-weight="bold" text-anchor="middle" fill="#000" textLength="97.6" lengthAdjust="spacingAndGlyphs" xml:space="preserve">stocks while</text><text x="1493.0" y="1166.1" font-size="14" font-weight="bold" text-anchor="middle" fill="#000" textLength="63.3" lengthAdjust="spacingAndGlyphs" xml:space="preserve">in office</text>
<rect x="1570.7" y="1108.0" width="140.8" height="60.3" rx="7" fill="#993300"/><rect x="1566.8" y="1104.0" width="140.8" height="60.3" rx="7" fill="#FF99CC" stroke="#000" stroke-width="1.1"/><text x="1637.2" y="1122.5" font-size="14" font-weight="bold" text-anchor="middle" fill="#000" textLength="125.1" lengthAdjust="spacingAndGlyphs" xml:space="preserve">Assure peaceful</text><text x="1637.2" y="1139.5" font-size="14" font-weight="bold" text-anchor="middle" fill="#000" textLength="76.5" lengthAdjust="spacingAndGlyphs" xml:space="preserve">transition</text><text x="1637.2" y="1156.5" font-size="14" font-weight="bold" text-anchor="middle" fill="#000" textLength="91.2" lengthAdjust="spacingAndGlyphs" xml:space="preserve">in Jan 2029</text>
<rect x="1786.6" y="1122.2" width="146.6" height="69.7" rx="7" fill="#993300"/><rect x="1782.7" y="1118.2" width="146.6" height="69.7" rx="7" fill="#FFFF00" stroke="#000" stroke-width="1.1"/><text x="1856.0" y="1135.3" font-size="12" font-weight="bold" text-anchor="middle" fill="#000" textLength="85.2" lengthAdjust="spacingAndGlyphs" xml:space="preserve">Why Trump?</text><text x="1856.0" y="1149.9" font-size="12" font-weight="bold" text-anchor="middle" fill="#000" textLength="78.1" lengthAdjust="spacingAndGlyphs" xml:space="preserve">Chnage law</text><text x="1856.0" y="1164.5" font-size="12" font-weight="bold" text-anchor="middle" fill="#000" textLength="108.0" lengthAdjust="spacingAndGlyphs" xml:space="preserve">to prevent felon</text><text x="1856.0" y="1179.0" font-size="12" font-weight="bold" text-anchor="middle" fill="#000" textLength="130.8" lengthAdjust="spacingAndGlyphs" xml:space="preserve">from being elected.</text>
<rect x="1648.5" y="1206.7" width="148.5" height="46.5" rx="7" fill="#993300"/><rect x="1644.6" y="1202.7" width="148.5" height="46.5" rx="7" fill="#FFCC99" stroke="#000" stroke-width="1.1"/><text x="1718.8" y="1221.2" font-size="14" font-weight="bold" text-anchor="middle" fill="#000" textLength="133.6" lengthAdjust="spacingAndGlyphs" xml:space="preserve">Jan 6th &amp; similar</text><text x="1718.8" y="1238.2" font-size="14" font-weight="bold" text-anchor="middle" fill="#000" textLength="129.2" lengthAdjust="spacingAndGlyphs" xml:space="preserve">Attacks on Gov't</text>
<rect x="1941.5" y="1230.6" width="172.4" height="46.2" rx="7" fill="#993300"/><rect x="1937.6" y="1226.6" width="172.4" height="46.2" rx="7" fill="#FF99CC" stroke="#000" stroke-width="1.1"/><text x="2023.8" y="1245.1" font-size="14" font-weight="bold" text-anchor="middle" fill="#000" textLength="107.6" lengthAdjust="spacingAndGlyphs" xml:space="preserve">Statehood for</text><text x="2023.8" y="1262.1" font-size="14" font-weight="bold" text-anchor="middle" fill="#000" textLength="156.2" lengthAdjust="spacingAndGlyphs" xml:space="preserve">DC, Puerto Rico, etc</text>
<rect x="2123.3" y="874.4" width="243.3" height="47.2" rx="7" fill="#FFFF99" stroke="#000" stroke-width="1.1"/><text x="2244.9" y="906.0" font-size="32" font-weight="bold" text-anchor="middle" fill="#000" textLength="226.1" lengthAdjust="spacingAndGlyphs" xml:space="preserve">Immigration</text>
<rect x="2397.5" y="874.4" width="224.8" height="68.9" rx="7" fill="#FFFF00" stroke="#000" stroke-width="1.1"/><text x="2509.9" y="900.6" font-size="24" font-weight="bold" text-anchor="middle" fill="#000" textLength="175.4" lengthAdjust="spacingAndGlyphs" xml:space="preserve">Fix American</text><text x="2509.9" y="929.8" font-size="24" font-weight="bold" text-anchor="middle" fill="#000" textLength="209.4" lengthAdjust="spacingAndGlyphs" xml:space="preserve">imigration laws</text>
<rect x="2398.6" y="987.8" width="65.1" height="28.7" rx="7" fill="#FFFF99" stroke="#000" stroke-width="1.1"/><text x="2431.1" y="1007.7" font-size="16" font-weight="bold" text-anchor="middle" fill="#000" textLength="49.7" lengthAdjust="spacingAndGlyphs" xml:space="preserve">DACA</text>
<rect x="2193.6" y="1034.7" width="116.3" height="80.7" rx="7" fill="#993300"/><rect x="2189.7" y="1030.7" width="116.3" height="80.7" rx="7" fill="#FFFF00" stroke="#000" stroke-width="1.1"/><text x="2247.8" y="1049.2" font-size="14" font-weight="bold" text-anchor="middle" fill="#000" textLength="87.9" lengthAdjust="spacingAndGlyphs" xml:space="preserve">Strengthen</text><text x="2247.8" y="1066.2" font-size="14" font-weight="bold" text-anchor="middle" fill="#000" textLength="101.7" lengthAdjust="spacingAndGlyphs" xml:space="preserve">immigration;</text><text x="2247.8" y="1083.2" font-size="14" font-weight="bold" text-anchor="middle" fill="#000" textLength="74.3" lengthAdjust="spacingAndGlyphs" xml:space="preserve">American</text><text x="2247.8" y="1100.2" font-size="14" font-weight="bold" text-anchor="middle" fill="#000" textLength="70.7" lengthAdjust="spacingAndGlyphs" xml:space="preserve">economy</text>
<rect x="2353.5" y="1042.0" width="194.7" height="60.0" rx="7" fill="#993300"/><rect x="2349.6" y="1038.0" width="194.7" height="60.0" rx="7" fill="#FFFF00" stroke="#000" stroke-width="1.1"/><text x="2446.9" y="1056.5" font-size="14" font-weight="bold" text-anchor="middle" fill="#000" textLength="110.7" lengthAdjust="spacingAndGlyphs" xml:space="preserve">Help migrants</text><text x="2446.9" y="1073.5" font-size="14" font-weight="bold" text-anchor="middle" fill="#000" textLength="178.3" lengthAdjust="spacingAndGlyphs" xml:space="preserve">relocate to other cities</text><text x="2446.9" y="1090.5" font-size="14" font-weight="bold" text-anchor="middle" fill="#000" textLength="87.0" lengthAdjust="spacingAndGlyphs" xml:space="preserve">and states.</text>
<rect x="1560.5" y="1340.8" width="170.6" height="78.4" rx="7" fill="#008080"/><rect x="1556.6" y="1336.8" width="170.6" height="78.4" rx="7" fill="#99FF99" stroke="#000" stroke-width="1.1"/><text x="1641.9" y="1367.9" font-size="32" font-weight="bold" text-anchor="middle" fill="#000" textLength="146.6" lengthAdjust="spacingAndGlyphs" xml:space="preserve">BUDGET</text><text x="1641.9" y="1406.8" font-size="32" font-weight="bold" text-anchor="middle" fill="#000" textLength="154.2" lengthAdjust="spacingAndGlyphs" xml:space="preserve">&amp; TAXES</text>
<rect x="1755.2" y="1337.5" width="144.6" height="42.8" rx="7" fill="#993300"/><rect x="1751.3" y="1333.5" width="144.6" height="42.8" rx="7" fill="#CCFFCC" stroke="#000" stroke-width="1.1"/><text x="1823.6" y="1352.0" font-size="14" font-weight="bold" text-anchor="middle" fill="#000" textLength="128.4" lengthAdjust="spacingAndGlyphs" xml:space="preserve">Reduce National</text><text x="1823.6" y="1369.0" font-size="14" font-weight="bold" text-anchor="middle" fill="#000" textLength="37.1" lengthAdjust="spacingAndGlyphs" xml:space="preserve">Debt</text>
<rect x="1907.3" y="1345.6" width="178.5" height="42.5" rx="7" fill="#008080"/><rect x="1903.4" y="1341.6" width="178.5" height="42.5" rx="7" fill="#99FF99" stroke="#000" stroke-width="1.1"/><text x="1992.7" y="1360.1" font-size="14" font-weight="bold" text-anchor="middle" fill="#000" textLength="126.5" lengthAdjust="spacingAndGlyphs" xml:space="preserve">Increase Tax on</text><text x="1992.7" y="1377.1" font-size="14" font-weight="bold" text-anchor="middle" fill="#000" textLength="162.6" lengthAdjust="spacingAndGlyphs" xml:space="preserve">ultra rich &amp; business</text>
<rect x="1844.4" y="1425.9" width="192.5" height="46.1" rx="7" fill="#008080"/><rect x="1840.5" y="1421.9" width="192.5" height="46.1" rx="7" fill="#99FF99" stroke="#000" stroke-width="1.1"/><text x="1936.8" y="1440.4" font-size="14" font-weight="bold" text-anchor="middle" fill="#000" textLength="177.2" lengthAdjust="spacingAndGlyphs" xml:space="preserve">End waste in spending</text><text x="1936.8" y="1457.4" font-size="14" font-weight="bold" text-anchor="middle" fill="#000" textLength="88.3" lengthAdjust="spacingAndGlyphs" xml:space="preserve">for military</text>
<rect x="1519.4" y="1442.7" width="158.6" height="54.5" rx="7" fill="#993300"/><rect x="1515.5" y="1438.7" width="158.6" height="54.5" rx="7" fill="#CCFFCC" stroke="#000" stroke-width="1.1"/><text x="1594.8" y="1455.8" font-size="12" font-weight="bold" text-anchor="middle" fill="#000" textLength="114.5" lengthAdjust="spacingAndGlyphs" xml:space="preserve">Fix tax code so it</text><text x="1594.8" y="1470.4" font-size="12" font-weight="bold" text-anchor="middle" fill="#000" textLength="143.8" lengthAdjust="spacingAndGlyphs" xml:space="preserve">actually redistributes</text><text x="1594.8" y="1485.0" font-size="12" font-weight="bold" text-anchor="middle" fill="#000" textLength="45.9" lengthAdjust="spacingAndGlyphs" xml:space="preserve">wealth</text>
<rect x="1753.5" y="1573.0" width="322.5" height="25.7" rx="7" fill="#993300"/><rect x="1749.6" y="1569.0" width="322.5" height="25.7" rx="7" fill="#99FF99" stroke="#000" stroke-width="1.1"/><text x="1910.8" y="1587.5" font-size="14" font-weight="bold" text-anchor="middle" fill="#000" textLength="306.5" lengthAdjust="spacingAndGlyphs" xml:space="preserve">Consumer Financial Protection Bureau.</text>
<rect x="1837.4" y="1508.9" width="186.6" height="28.0" rx="7" fill="#008080"/><rect x="1833.5" y="1504.9" width="186.6" height="28.0" rx="7" fill="#99FF99" stroke="#000" stroke-width="1.1"/><text x="1926.8" y="1523.4" font-size="14" font-weight="bold" text-anchor="middle" fill="#000" textLength="165.9" lengthAdjust="spacingAndGlyphs" xml:space="preserve">fund social programs</text>
<rect x="1562.5" y="1520.1" width="164.4" height="59.6" rx="7" fill="#993300"/><rect x="1558.6" y="1516.1" width="164.4" height="59.6" rx="7" fill="#99FF99" stroke="#000" stroke-width="1.1"/><text x="1640.8" y="1534.6" font-size="14" font-weight="bold" text-anchor="middle" fill="#000" textLength="148.6" lengthAdjust="spacingAndGlyphs" xml:space="preserve">maintain &amp; expand</text><text x="1640.8" y="1551.6" font-size="14" font-weight="bold" text-anchor="middle" fill="#000" textLength="109.4" lengthAdjust="spacingAndGlyphs" xml:space="preserve">infrastructure</text><text x="1640.8" y="1568.6" font-size="14" font-weight="bold" text-anchor="middle" fill="#000" textLength="96.6" lengthAdjust="spacingAndGlyphs" xml:space="preserve">investments</text>
<rect x="1501.5" y="1616.6" width="406.7" height="42.3" rx="7" fill="#993300"/><rect x="1497.6" y="1612.6" width="406.7" height="42.3" rx="7" fill="#99FF99" stroke="#000" stroke-width="1.1"/><text x="1700.9" y="1629.7" font-size="12" font-weight="bold" text-anchor="middle" fill="#000" textLength="387.1" lengthAdjust="spacingAndGlyphs" xml:space="preserve">expand Medicaid, Social Security, education, job training,</text><text x="1700.9" y="1644.3" font-size="12" font-weight="bold" text-anchor="middle" fill="#000" textLength="198.0" lengthAdjust="spacingAndGlyphs" xml:space="preserve">heating assistance, and more</text>
<rect x="2145.2" y="1518.3" width="403.0" height="99.0" rx="7" fill="#993300"/><rect x="2141.3" y="1514.3" width="403.0" height="99.0" rx="7" fill="#FFFFFF" stroke="#000" stroke-width="1.1"/><text x="2342.8" y="1535.6" font-size="18" font-weight="bold" text-anchor="middle" fill="#000" textLength="383.0" lengthAdjust="spacingAndGlyphs" xml:space="preserve">This graphic showing UN Global Goals</text><text x="2342.8" y="1557.5" font-size="18" font-weight="bold" text-anchor="middle" fill="#000" textLength="345.7" lengthAdjust="spacingAndGlyphs" xml:space="preserve">is example of type of visualization</text><text x="2342.8" y="1579.3" font-size="18" font-weight="bold" text-anchor="middle" fill="#000" textLength="387.3" lengthAdjust="spacingAndGlyphs" xml:space="preserve">I hope someone will create using data</text><text x="2342.8" y="1601.2" font-size="18" font-weight="bold" text-anchor="middle" fill="#000" textLength="226.4" lengthAdjust="spacingAndGlyphs" xml:space="preserve">from my concept map.</text>
<rect x="2339.3" y="1668.8" width="158.8" height="62.1" rx="7" fill="#000080"/><rect x="2335.4" y="1664.8" width="158.8" height="62.1" rx="7" fill="#FFFFFF" stroke="#000" stroke-width="1.1"/><text x="2414.8" y="1683.3" font-size="14" font-weight="normal" text-anchor="middle" fill="#000" textLength="117.6" lengthAdjust="spacingAndGlyphs" xml:space="preserve">A small donation</text><text x="2414.8" y="1700.3" font-size="14" font-weight="normal" text-anchor="middle" fill="#000" textLength="102.6" lengthAdjust="spacingAndGlyphs" xml:space="preserve">helps me keep</text><text x="2414.8" y="1717.3" font-size="14" font-weight="normal" text-anchor="middle" fill="#000" textLength="143.5" lengthAdjust="spacingAndGlyphs" xml:space="preserve">making these cMaps</text>
<rect x="434.9" y="619.0" width="35.0" height="12.8" fill="#FF0000"/><rect x="431.0" y="615.0" width="35.0" height="12.8" fill="#CCFFCC"/><text x="448.5" y="625.6" font-size="14" font-weight="bold" text-anchor="middle" fill="#000" textLength="34.6" lengthAdjust="spacingAndGlyphs" xml:space="preserve">????</text>
<rect x="381.5" y="845.0" width="30.7" height="10.6" fill="#FF99CC"/><text x="396.9" y="854.1" font-size="12" font-weight="bold" text-anchor="middle" fill="#000" textLength="29.6" lengthAdjust="spacingAndGlyphs" xml:space="preserve">????</text>
<rect x="431.9" y="1073.8" width="34.8" height="12.8" fill="#008080"/><rect x="428.0" y="1069.8" width="34.8" height="12.8" fill="#CCFFCC"/><text x="445.4" y="1080.4" font-size="14" font-weight="bold" text-anchor="middle" fill="#000" textLength="34.6" lengthAdjust="spacingAndGlyphs" xml:space="preserve">????</text>
<rect x="209.5" y="1310.7" width="34.9" height="12.8" fill="#008080"/><rect x="205.6" y="1306.7" width="34.9" height="12.8" fill="#FF99CC"/><text x="223.1" y="1317.3" font-size="14" font-weight="bold" text-anchor="middle" fill="#000" textLength="34.6" lengthAdjust="spacingAndGlyphs" xml:space="preserve">????</text>
<rect x="486.9" y="1420.0" width="42.5" height="11.2" fill="#993300"/><rect x="483.0" y="1416.0" width="42.5" height="11.2" fill="#CCFFCC"/><text x="504.2" y="1425.1" font-size="12" font-weight="bold" text-anchor="middle" fill="#000" textLength="42.0" lengthAdjust="spacingAndGlyphs" xml:space="preserve">issues</text>
<rect x="145.6" y="1564.4" width="33.3" height="12.0" fill="#993300"/><rect x="141.7" y="1560.4" width="33.3" height="12.0" fill="#CCFFCC"/><text x="158.3" y="1569.5" font-size="12" font-weight="bold" text-anchor="middle" fill="#000" textLength="29.6" lengthAdjust="spacingAndGlyphs" xml:space="preserve">????</text>
<rect x="672.9" y="1613.3" width="102.2" height="29.5" fill="#008080"/><rect x="669.0" y="1609.3" width="102.2" height="29.5" fill="#A0FFFF"/><text x="720.1" y="1619.9" font-size="14" font-weight="bold" text-anchor="middle" fill="#000" textLength="100.4" lengthAdjust="spacingAndGlyphs" xml:space="preserve">conservative</text><text x="720.1" y="1636.9" font-size="14" font-weight="bold" text-anchor="middle" fill="#000" textLength="69.6" lengthAdjust="spacingAndGlyphs" xml:space="preserve">views on</text>
<rect x="788.9" y="837.4" width="31.4" height="11.8" fill="#993300"/><rect x="785.0" y="833.4" width="31.4" height="11.8" fill="#FFFF99"/><text x="800.7" y="842.5" font-size="12" font-weight="bold" text-anchor="middle" fill="#000" textLength="29.6" lengthAdjust="spacingAndGlyphs" xml:space="preserve">????</text>
<text x="1741.2" y="816.3" font-size="12" font-weight="normal" text-anchor="middle" fill="#000" textLength="26.2" lengthAdjust="spacingAndGlyphs" xml:space="preserve">????</text>
<text x="1807.1" y="512.1" font-size="12" font-weight="normal" text-anchor="middle" fill="#000" textLength="26.2" lengthAdjust="spacingAndGlyphs" xml:space="preserve">????</text>
<rect x="908.4" y="1118.4" width="167.1" height="56.6" fill="#FFCCCC"/><text x="992.0" y="1127.5" font-size="12" font-weight="bold" text-anchor="middle" fill="#000" textLength="101.8" lengthAdjust="spacingAndGlyphs" xml:space="preserve">see how issues</text><text x="992.0" y="1142.1" font-size="12" font-weight="bold" text-anchor="middle" fill="#000" textLength="88.7" lengthAdjust="spacingAndGlyphs" xml:space="preserve">presented on</text><text x="992.0" y="1156.6" font-size="12" font-weight="bold" text-anchor="middle" fill="#000" font-style="italic" textLength="154.1" lengthAdjust="spacingAndGlyphs" xml:space="preserve">(these are a few of the</text><text x="992.0" y="1171.2" font-size="12" font-weight="bold" text-anchor="middle" fill="#000" font-style="italic" textLength="166.0" lengthAdjust="spacingAndGlyphs" xml:space="preserve">links in the web library )</text>
<rect x="1128.9" y="1463.6" width="101.8" height="29.2" fill="#008080"/><rect x="1125.0" y="1459.6" width="101.8" height="29.2" fill="#FF99CC"/><text x="1175.9" y="1470.2" font-size="14" font-weight="bold" text-anchor="middle" fill="#000" textLength="100.4" lengthAdjust="spacingAndGlyphs" xml:space="preserve">conservative</text><text x="1175.9" y="1487.2" font-size="14" font-weight="bold" text-anchor="middle" fill="#000" textLength="69.6" lengthAdjust="spacingAndGlyphs" xml:space="preserve">views on</text>
<rect x="2199.6" y="282.1" width="35.5" height="12.8" fill="#008080"/><rect x="2195.7" y="278.1" width="35.5" height="12.8" fill="#FF99CC"/><text x="2213.4" y="288.7" font-size="14" font-weight="bold" text-anchor="middle" fill="#000" textLength="34.6" lengthAdjust="spacingAndGlyphs" xml:space="preserve">????</text>
<rect x="2212.0" y="608.2" width="35.3" height="12.4" fill="#FF6600"/><rect x="2208.1" y="604.2" width="35.3" height="12.4" fill="#CCFFCC"/><text x="2225.8" y="614.8" font-size="14" font-weight="bold" text-anchor="middle" fill="#000" textLength="34.6" lengthAdjust="spacingAndGlyphs" xml:space="preserve">????</text>
<rect x="1782.1" y="910.2" width="45.4" height="12.4" fill="#993300"/><rect x="1778.2" y="906.2" width="45.4" height="12.4" fill="#CCFFCC"/><text x="1800.9" y="915.3" font-size="12" font-weight="bold" text-anchor="middle" fill="#000" textLength="44.4" lengthAdjust="spacingAndGlyphs" xml:space="preserve">library</text>
<rect x="1609.5" y="996.0" width="25.8" height="12.0" fill="#993300"/><rect x="1605.6" y="992.0" width="25.8" height="12.0" fill="#CCFFCC"/><text x="1618.5" y="1001.1" font-size="12" font-weight="bold" text-anchor="middle" fill="#000" textLength="24.9" lengthAdjust="spacingAndGlyphs" xml:space="preserve">and</text>
<rect x="1617.5" y="1053.1" width="25.9" height="12.0" fill="#993300"/><rect x="1613.6" y="1049.1" width="25.9" height="12.0" fill="#CCFFCC"/><text x="1626.5" y="1058.2" font-size="12" font-weight="bold" text-anchor="middle" fill="#000" textLength="24.9" lengthAdjust="spacingAndGlyphs" xml:space="preserve">and</text>
<rect x="1717.6" y="1070.9" width="54.8" height="26.8" fill="#993300"/><rect x="1713.7" y="1066.9" width="54.8" height="26.8" fill="#CCFFCC"/><text x="1741.1" y="1076.0" font-size="12" font-weight="bold" text-anchor="middle" fill="#000" textLength="54.0" lengthAdjust="spacingAndGlyphs" xml:space="preserve">heading</text><text x="1741.1" y="1090.6" font-size="12" font-weight="bold" text-anchor="middle" fill="#000" textLength="50.9" lengthAdjust="spacingAndGlyphs" xml:space="preserve">in 2029</text>
<rect x="1822.5" y="1063.1" width="53.2" height="12.3" fill="#993300"/><rect x="1818.6" y="1059.1" width="53.2" height="12.3" fill="#CCFFCC"/><text x="1845.2" y="1068.2" font-size="12" font-weight="bold" text-anchor="middle" fill="#000" textLength="53.0" lengthAdjust="spacingAndGlyphs" xml:space="preserve">address</text>
<rect x="1733.7" y="1155.8" width="31.0" height="11.2" fill="#993300"/><rect x="1729.8" y="1151.8" width="31.0" height="11.2" fill="#CCFFCC"/><text x="1745.3" y="1160.9" font-size="12" font-weight="bold" text-anchor="middle" fill="#000" textLength="29.6" lengthAdjust="spacingAndGlyphs" xml:space="preserve">????</text>
<rect x="2333.8" y="949.4" width="36.2" height="11.7" fill="#FFFF99"/><text x="2351.9" y="960.0" font-size="14" font-weight="bold" text-anchor="middle" fill="#000" textLength="34.6" lengthAdjust="spacingAndGlyphs" xml:space="preserve">????</text>
<rect x="2246.7" y="988.9" width="31.1" height="10.8" fill="#993300"/><rect x="2242.8" y="984.9" width="31.1" height="10.8" fill="#CCFFCC"/><text x="2258.4" y="994.0" font-size="12" font-weight="bold" text-anchor="middle" fill="#000" textLength="29.6" lengthAdjust="spacingAndGlyphs" xml:space="preserve">????</text>
<rect x="1740.4" y="1443.2" width="35.8" height="12.0" fill="#008080"/><rect x="1736.5" y="1439.2" width="35.8" height="12.0" fill="#99FF99"/><text x="1754.4" y="1449.8" font-size="14" font-weight="bold" text-anchor="middle" fill="#000" textLength="34.6" lengthAdjust="spacingAndGlyphs" xml:space="preserve">????</text>
<g transform="translate(684.4,1119.3)"><rect x="0.6" y="0.6" width="16" height="16.600" rx="3.2" fill="#fff" stroke="#6C9BD8" stroke-width="1.2"/><rect x="3.4" y="2.5" width="10.800" height="12.800" fill="#FFFFF2" stroke="#10173F" stroke-width="0.95"/><rect x="8.6" y="3" width="5.1" height="6" fill="#A9C6EA"/><path d="M8.6 9l2.200-3.400 1.500 1.800 .8-.9 .6 2.500z" fill="#2F6B2F"/><rect x="11.4" y="3.200" width="2" height="1.700" fill="#F2A860"/><path d="M8.1 2.500v7h6.100" fill="none" stroke="#10173F" stroke-width="0.9"/><path d="M5 5.400h1.700M5 7.400h1.700M5 9.300h1.700M5 11.400h7.700M5 13.400h7.700" stroke="#5A5320" stroke-width="0.8"/></g>
<g transform="translate(701.2,1119.3)"><rect x="0.6" y="0.6" width="16" height="16.600" rx="3.2" fill="#fff" stroke="#6C9BD8" stroke-width="1.2"/><path d="M8 4.400v6.800M5.900 4.400L3.800 6.800M10.400 4.400L12.200 6.800M3.600 9.500v2.300M12.500 9.500v2.300" stroke="#10173F" stroke-width="0.9" fill="none"/><rect x="5.3" y="2.400" width="5.500" height="2" fill="#9DC0F4" stroke="#1B2A7A" stroke-width="0.8"/><rect x="2.4" y="6.900" width="3.200" height="2.600" fill="#4455CC" stroke="#10173F" stroke-width="0.8"/><rect x="10.500" y="6.900" width="3.300" height="2.600" fill="#B5C46E" stroke="#10173F" stroke-width="0.8"/><rect x="2.500" y="11.900" width="2.300" height="2.600" fill="#fff" stroke="#10301F" stroke-width="0.8"/><rect x="6.400" y="11.100" width="3.300" height="2.500" fill="#F0A070" stroke="#5A2A10" stroke-width="0.8"/><rect x="11.400" y="11.800" width="2.400" height="2.700" fill="#2636A8" stroke="#10173F" stroke-width="0.8"/></g>
<g transform="translate(423.8,1412.3)"><rect x="0.6" y="0.6" width="16" height="16.600" rx="3.2" fill="#fff" stroke="#6C9BD8" stroke-width="1.2"/><rect x="3.4" y="2.5" width="10.800" height="12.800" fill="#FFFFF2" stroke="#10173F" stroke-width="0.95"/><rect x="8.6" y="3" width="5.1" height="6" fill="#A9C6EA"/><path d="M8.6 9l2.200-3.400 1.500 1.800 .8-.9 .6 2.500z" fill="#2F6B2F"/><rect x="11.4" y="3.200" width="2" height="1.700" fill="#F2A860"/><path d="M8.1 2.500v7h6.100" fill="none" stroke="#10173F" stroke-width="0.9"/><path d="M5 5.400h1.700M5 7.400h1.700M5 9.300h1.700M5 11.400h7.700M5 13.400h7.700" stroke="#5A5320" stroke-width="0.8"/></g>
<g transform="translate(1134.8,663.2)"><rect x="0.6" y="0.6" width="16" height="16.600" rx="3.2" fill="#fff" stroke="#6C9BD8" stroke-width="1.2"/><rect x="3.4" y="2.5" width="10.800" height="12.800" fill="#FFFFF2" stroke="#10173F" stroke-width="0.95"/><rect x="8.6" y="3" width="5.1" height="6" fill="#A9C6EA"/><path d="M8.6 9l2.200-3.400 1.500 1.800 .8-.9 .6 2.500z" fill="#2F6B2F"/><rect x="11.4" y="3.200" width="2" height="1.700" fill="#F2A860"/><path d="M8.1 2.500v7h6.100" fill="none" stroke="#10173F" stroke-width="0.9"/><path d="M5 5.400h1.700M5 7.400h1.700M5 9.300h1.700M5 11.400h7.700M5 13.400h7.700" stroke="#5A5320" stroke-width="0.8"/></g>
<g transform="translate(1152.2,663.2)"><rect x="0.6" y="0.6" width="16" height="16.600" rx="3.2" fill="#fff" stroke="#6C9BD8" stroke-width="1.2"/><path d="M8 4.400v6.800M5.900 4.400L3.800 6.800M10.400 4.400L12.200 6.800M3.600 9.500v2.300M12.500 9.500v2.300" stroke="#10173F" stroke-width="0.9" fill="none"/><rect x="5.3" y="2.400" width="5.500" height="2" fill="#9DC0F4" stroke="#1B2A7A" stroke-width="0.8"/><rect x="2.4" y="6.900" width="3.200" height="2.600" fill="#4455CC" stroke="#10173F" stroke-width="0.8"/><rect x="10.500" y="6.900" width="3.300" height="2.600" fill="#B5C46E" stroke="#10173F" stroke-width="0.8"/><rect x="2.500" y="11.900" width="2.300" height="2.600" fill="#fff" stroke="#10301F" stroke-width="0.8"/><rect x="6.400" y="11.100" width="3.300" height="2.500" fill="#F0A070" stroke="#5A2A10" stroke-width="0.8"/><rect x="11.400" y="11.800" width="2.400" height="2.700" fill="#2636A8" stroke="#10173F" stroke-width="0.8"/></g>
<g transform="translate(1219.3,597.2)"><rect x="0.6" y="0.6" width="16" height="16.600" rx="3.2" fill="#fff" stroke="#6C9BD8" stroke-width="1.2"/><rect x="3.4" y="2.5" width="10.800" height="12.800" fill="#FFFFF2" stroke="#10173F" stroke-width="0.95"/><rect x="8.6" y="3" width="5.1" height="6" fill="#A9C6EA"/><path d="M8.6 9l2.200-3.400 1.500 1.800 .8-.9 .6 2.500z" fill="#2F6B2F"/><rect x="11.4" y="3.200" width="2" height="1.700" fill="#F2A860"/><path d="M8.1 2.500v7h6.100" fill="none" stroke="#10173F" stroke-width="0.9"/><path d="M5 5.400h1.700M5 7.400h1.700M5 9.300h1.700M5 11.400h7.700M5 13.400h7.700" stroke="#5A5320" stroke-width="0.8"/></g>
<g transform="translate(1237.0,597.2)"><rect x="0.6" y="0.6" width="16" height="16.600" rx="3.2" fill="#fff" stroke="#6C9BD8" stroke-width="1.2"/><path d="M8 4.400v6.800M5.900 4.400L3.800 6.800M10.400 4.400L12.200 6.800M3.600 9.500v2.300M12.500 9.500v2.300" stroke="#10173F" stroke-width="0.9" fill="none"/><rect x="5.3" y="2.400" width="5.500" height="2" fill="#9DC0F4" stroke="#1B2A7A" stroke-width="0.8"/><rect x="2.4" y="6.900" width="3.200" height="2.600" fill="#4455CC" stroke="#10173F" stroke-width="0.8"/><rect x="10.500" y="6.900" width="3.300" height="2.600" fill="#B5C46E" stroke="#10173F" stroke-width="0.8"/><rect x="2.500" y="11.900" width="2.300" height="2.600" fill="#fff" stroke="#10301F" stroke-width="0.8"/><rect x="6.400" y="11.100" width="3.300" height="2.500" fill="#F0A070" stroke="#5A2A10" stroke-width="0.8"/><rect x="11.400" y="11.800" width="2.400" height="2.700" fill="#2636A8" stroke="#10173F" stroke-width="0.8"/></g>
<g transform="translate(1000.7,1088.5)"><rect x="0.6" y="0.6" width="16" height="16.600" rx="3.2" fill="#fff" stroke="#6C9BD8" stroke-width="1.2"/><rect x="3.4" y="2.5" width="10.800" height="12.800" fill="#FFFFF2" stroke="#10173F" stroke-width="0.95"/><rect x="8.6" y="3" width="5.1" height="6" fill="#A9C6EA"/><path d="M8.6 9l2.200-3.400 1.500 1.800 .8-.9 .6 2.500z" fill="#2F6B2F"/><rect x="11.4" y="3.200" width="2" height="1.700" fill="#F2A860"/><path d="M8.1 2.500v7h6.100" fill="none" stroke="#10173F" stroke-width="0.9"/><path d="M5 5.400h1.700M5 7.400h1.700M5 9.300h1.700M5 11.400h7.700M5 13.400h7.700" stroke="#5A5320" stroke-width="0.8"/></g>
<g transform="translate(1220.6,1114.3)"><rect x="0.6" y="0.6" width="16" height="16.600" rx="3.2" fill="#fff" stroke="#6C9BD8" stroke-width="1.2"/><path d="M8 4.400v6.800M5.900 4.400L3.800 6.800M10.400 4.400L12.200 6.800M3.600 9.500v2.300M12.500 9.500v2.300" stroke="#10173F" stroke-width="0.9" fill="none"/><rect x="5.3" y="2.400" width="5.500" height="2" fill="#9DC0F4" stroke="#1B2A7A" stroke-width="0.8"/><rect x="2.4" y="6.900" width="3.200" height="2.600" fill="#4455CC" stroke="#10173F" stroke-width="0.8"/><rect x="10.500" y="6.900" width="3.300" height="2.600" fill="#B5C46E" stroke="#10173F" stroke-width="0.8"/><rect x="2.500" y="11.900" width="2.300" height="2.600" fill="#fff" stroke="#10301F" stroke-width="0.8"/><rect x="6.400" y="11.100" width="3.300" height="2.500" fill="#F0A070" stroke="#5A2A10" stroke-width="0.8"/><rect x="11.400" y="11.800" width="2.400" height="2.700" fill="#2636A8" stroke="#10173F" stroke-width="0.8"/></g>
<g transform="translate(832.4,1073.8)"><rect x="0.6" y="0.6" width="16" height="16.600" rx="3.2" fill="#fff" stroke="#6C9BD8" stroke-width="1.2"/><rect x="3.4" y="2.5" width="10.800" height="12.800" fill="#FFFFF2" stroke="#10173F" stroke-width="0.95"/><rect x="8.6" y="3" width="5.1" height="6" fill="#A9C6EA"/><path d="M8.6 9l2.200-3.400 1.500 1.800 .8-.9 .6 2.500z" fill="#2F6B2F"/><rect x="11.4" y="3.200" width="2" height="1.700" fill="#F2A860"/><path d="M8.1 2.500v7h6.100" fill="none" stroke="#10173F" stroke-width="0.9"/><path d="M5 5.400h1.700M5 7.400h1.700M5 9.300h1.700M5 11.400h7.700M5 13.400h7.700" stroke="#5A5320" stroke-width="0.8"/></g>
<g transform="translate(1162.8,1173.0)"><rect x="0.6" y="0.6" width="16" height="16.600" rx="3.2" fill="#fff" stroke="#6C9BD8" stroke-width="1.2"/><rect x="3.4" y="2.5" width="10.800" height="12.800" fill="#FFFFF2" stroke="#10173F" stroke-width="0.95"/><rect x="8.6" y="3" width="5.1" height="6" fill="#A9C6EA"/><path d="M8.6 9l2.200-3.400 1.500 1.800 .8-.9 .6 2.500z" fill="#2F6B2F"/><rect x="11.4" y="3.200" width="2" height="1.700" fill="#F2A860"/><path d="M8.1 2.500v7h6.100" fill="none" stroke="#10173F" stroke-width="0.9"/><path d="M5 5.400h1.700M5 7.400h1.700M5 9.300h1.700M5 11.400h7.700M5 13.400h7.700" stroke="#5A5320" stroke-width="0.8"/></g>
<g transform="translate(842.6,1202.6)"><rect x="0.6" y="0.6" width="16" height="16.600" rx="3.2" fill="#fff" stroke="#6C9BD8" stroke-width="1.2"/><rect x="3.4" y="2.5" width="10.800" height="12.800" fill="#FFFFF2" stroke="#10173F" stroke-width="0.95"/><rect x="8.6" y="3" width="5.1" height="6" fill="#A9C6EA"/><path d="M8.6 9l2.200-3.400 1.500 1.800 .8-.9 .6 2.500z" fill="#2F6B2F"/><rect x="11.4" y="3.200" width="2" height="1.700" fill="#F2A860"/><path d="M8.1 2.500v7h6.100" fill="none" stroke="#10173F" stroke-width="0.9"/><path d="M5 5.400h1.700M5 7.400h1.700M5 9.300h1.700M5 11.400h7.700M5 13.400h7.700" stroke="#5A5320" stroke-width="0.8"/></g>
<g transform="translate(1075.8,1248.6)"><rect x="0.6" y="0.6" width="16" height="16.600" rx="3.2" fill="#fff" stroke="#6C9BD8" stroke-width="1.2"/><rect x="3.4" y="2.5" width="10.800" height="12.800" fill="#FFFFF2" stroke="#10173F" stroke-width="0.95"/><rect x="8.6" y="3" width="5.1" height="6" fill="#A9C6EA"/><path d="M8.6 9l2.200-3.400 1.500 1.800 .8-.9 .6 2.500z" fill="#2F6B2F"/><rect x="11.4" y="3.200" width="2" height="1.700" fill="#F2A860"/><path d="M8.1 2.500v7h6.100" fill="none" stroke="#10173F" stroke-width="0.9"/><path d="M5 5.400h1.700M5 7.400h1.700M5 9.300h1.700M5 11.400h7.700M5 13.400h7.700" stroke="#5A5320" stroke-width="0.8"/></g>
<g transform="translate(837.6,1269.8)"><rect x="0.6" y="0.6" width="16" height="16.600" rx="3.2" fill="#fff" stroke="#6C9BD8" stroke-width="1.2"/><rect x="3.4" y="2.5" width="10.800" height="12.800" fill="#FFFFF2" stroke="#10173F" stroke-width="0.95"/><rect x="8.6" y="3" width="5.1" height="6" fill="#A9C6EA"/><path d="M8.6 9l2.200-3.400 1.500 1.800 .8-.9 .6 2.500z" fill="#2F6B2F"/><rect x="11.4" y="3.200" width="2" height="1.700" fill="#F2A860"/><path d="M8.1 2.500v7h6.100" fill="none" stroke="#10173F" stroke-width="0.9"/><path d="M5 5.400h1.700M5 7.400h1.700M5 9.300h1.700M5 11.400h7.700M5 13.400h7.700" stroke="#5A5320" stroke-width="0.8"/></g>
<g transform="translate(959.6,1279.3)"><rect x="0.6" y="0.6" width="16" height="16.600" rx="3.2" fill="#fff" stroke="#6C9BD8" stroke-width="1.2"/><rect x="3.4" y="2.5" width="10.800" height="12.800" fill="#FFFFF2" stroke="#10173F" stroke-width="0.95"/><rect x="8.6" y="3" width="5.1" height="6" fill="#A9C6EA"/><path d="M8.6 9l2.200-3.400 1.500 1.800 .8-.9 .6 2.500z" fill="#2F6B2F"/><rect x="11.4" y="3.200" width="2" height="1.700" fill="#F2A860"/><path d="M8.1 2.500v7h6.100" fill="none" stroke="#10173F" stroke-width="0.9"/><path d="M5 5.400h1.700M5 7.400h1.700M5 9.300h1.700M5 11.400h7.700M5 13.400h7.700" stroke="#5A5320" stroke-width="0.8"/></g>
<g transform="translate(1063.5,1432.4)"><rect x="0.6" y="0.6" width="16" height="16.600" rx="3.2" fill="#fff" stroke="#6C9BD8" stroke-width="1.2"/><path d="M8 4.400v6.800M5.900 4.400L3.800 6.800M10.400 4.400L12.200 6.800M3.600 9.500v2.300M12.500 9.500v2.300" stroke="#10173F" stroke-width="0.9" fill="none"/><rect x="5.3" y="2.400" width="5.500" height="2" fill="#9DC0F4" stroke="#1B2A7A" stroke-width="0.8"/><rect x="2.4" y="6.900" width="3.200" height="2.600" fill="#4455CC" stroke="#10173F" stroke-width="0.8"/><rect x="10.500" y="6.900" width="3.300" height="2.600" fill="#B5C46E" stroke="#10173F" stroke-width="0.8"/><rect x="2.500" y="11.900" width="2.300" height="2.600" fill="#fff" stroke="#10301F" stroke-width="0.8"/><rect x="6.400" y="11.100" width="3.300" height="2.500" fill="#F0A070" stroke="#5A2A10" stroke-width="0.8"/><rect x="11.400" y="11.800" width="2.400" height="2.700" fill="#2636A8" stroke="#10173F" stroke-width="0.8"/></g>
<g transform="translate(959.5,1521.3)"><rect x="0.6" y="0.6" width="16" height="16.600" rx="3.2" fill="#fff" stroke="#6C9BD8" stroke-width="1.2"/><rect x="3.4" y="2.5" width="10.800" height="12.800" fill="#FFFFF2" stroke="#10173F" stroke-width="0.95"/><rect x="8.6" y="3" width="5.1" height="6" fill="#A9C6EA"/><path d="M8.6 9l2.200-3.400 1.500 1.800 .8-.9 .6 2.500z" fill="#2F6B2F"/><rect x="11.4" y="3.200" width="2" height="1.700" fill="#F2A860"/><path d="M8.1 2.500v7h6.100" fill="none" stroke="#10173F" stroke-width="0.9"/><path d="M5 5.400h1.700M5 7.400h1.700M5 9.300h1.700M5 11.400h7.700M5 13.400h7.700" stroke="#5A5320" stroke-width="0.8"/></g>
<g transform="translate(2001.0,137.7)"><rect x="0.6" y="0.6" width="16" height="16.600" rx="3.2" fill="#fff" stroke="#6C9BD8" stroke-width="1.2"/><rect x="3.4" y="2.5" width="10.800" height="12.800" fill="#FFFFF2" stroke="#10173F" stroke-width="0.95"/><rect x="8.6" y="3" width="5.1" height="6" fill="#A9C6EA"/><path d="M8.6 9l2.200-3.400 1.500 1.800 .8-.9 .6 2.500z" fill="#2F6B2F"/><rect x="11.4" y="3.200" width="2" height="1.700" fill="#F2A860"/><path d="M8.1 2.500v7h6.100" fill="none" stroke="#10173F" stroke-width="0.9"/><path d="M5 5.400h1.700M5 7.400h1.700M5 9.300h1.700M5 11.400h7.700M5 13.400h7.700" stroke="#5A5320" stroke-width="0.8"/></g>
<g transform="translate(2407.6,269.1)"><rect x="0.6" y="0.6" width="16" height="16.600" rx="3.2" fill="#fff" stroke="#6C9BD8" stroke-width="1.2"/><rect x="3.4" y="2.5" width="10.800" height="12.800" fill="#FFFFF2" stroke="#10173F" stroke-width="0.95"/><rect x="8.6" y="3" width="5.1" height="6" fill="#A9C6EA"/><path d="M8.6 9l2.200-3.400 1.500 1.800 .8-.9 .6 2.500z" fill="#2F6B2F"/><rect x="11.4" y="3.200" width="2" height="1.700" fill="#F2A860"/><path d="M8.1 2.500v7h6.100" fill="none" stroke="#10173F" stroke-width="0.9"/><path d="M5 5.400h1.700M5 7.400h1.700M5 9.300h1.700M5 11.400h7.700M5 13.400h7.700" stroke="#5A5320" stroke-width="0.8"/></g>
<g transform="translate(1845.2,882.9)"><rect x="0.6" y="0.6" width="16" height="16.600" rx="3.2" fill="#fff" stroke="#6C9BD8" stroke-width="1.2"/><rect x="3.4" y="2.5" width="10.800" height="12.800" fill="#FFFFF2" stroke="#10173F" stroke-width="0.95"/><rect x="8.6" y="3" width="5.1" height="6" fill="#A9C6EA"/><path d="M8.6 9l2.200-3.400 1.500 1.800 .8-.9 .6 2.500z" fill="#2F6B2F"/><rect x="11.4" y="3.200" width="2" height="1.700" fill="#F2A860"/><path d="M8.1 2.500v7h6.100" fill="none" stroke="#10173F" stroke-width="0.9"/><path d="M5 5.400h1.700M5 7.400h1.700M5 9.300h1.700M5 11.400h7.700M5 13.400h7.700" stroke="#5A5320" stroke-width="0.8"/></g>
<g transform="translate(1511.3,1043.6)"><rect x="0.6" y="0.6" width="16" height="16.600" rx="3.2" fill="#fff" stroke="#6C9BD8" stroke-width="1.2"/><rect x="3.4" y="2.5" width="10.800" height="12.800" fill="#FFFFF2" stroke="#10173F" stroke-width="0.95"/><rect x="8.6" y="3" width="5.1" height="6" fill="#A9C6EA"/><path d="M8.6 9l2.200-3.400 1.500 1.800 .8-.9 .6 2.500z" fill="#2F6B2F"/><rect x="11.4" y="3.200" width="2" height="1.700" fill="#F2A860"/><path d="M8.1 2.500v7h6.100" fill="none" stroke="#10173F" stroke-width="0.9"/><path d="M5 5.400h1.700M5 7.400h1.700M5 9.300h1.700M5 11.400h7.700M5 13.400h7.700" stroke="#5A5320" stroke-width="0.8"/></g>
<g transform="translate(1710.4,1242.0)"><rect x="0.6" y="0.6" width="16" height="16.600" rx="3.2" fill="#fff" stroke="#6C9BD8" stroke-width="1.2"/><rect x="3.4" y="2.5" width="10.800" height="12.800" fill="#FFFFF2" stroke="#10173F" stroke-width="0.95"/><rect x="8.6" y="3" width="5.1" height="6" fill="#A9C6EA"/><path d="M8.6 9l2.200-3.400 1.500 1.800 .8-.9 .6 2.500z" fill="#2F6B2F"/><rect x="11.4" y="3.200" width="2" height="1.700" fill="#F2A860"/><path d="M8.1 2.500v7h6.100" fill="none" stroke="#10173F" stroke-width="0.9"/><path d="M5 5.400h1.700M5 7.400h1.700M5 9.300h1.700M5 11.400h7.700M5 13.400h7.700" stroke="#5A5320" stroke-width="0.8"/></g>
<g transform="translate(348.6,511.2)"><rect x="0.6" y="0.6" width="16" height="16.600" rx="3.2" fill="#fff" stroke="#6C9BD8" stroke-width="1.2"/><rect x="3.4" y="2.5" width="10.800" height="12.800" fill="#FFFFF2" stroke="#10173F" stroke-width="0.95"/><rect x="8.6" y="3" width="5.1" height="6" fill="#A9C6EA"/><path d="M8.6 9l2.200-3.400 1.500 1.800 .8-.9 .6 2.500z" fill="#2F6B2F"/><rect x="11.4" y="3.200" width="2" height="1.700" fill="#F2A860"/><path d="M8.1 2.500v7h6.100" fill="none" stroke="#10173F" stroke-width="0.9"/><path d="M5 5.400h1.700M5 7.400h1.700M5 9.300h1.700M5 11.400h7.700M5 13.400h7.700" stroke="#5A5320" stroke-width="0.8"/></g>
<g transform="translate(366.2,511.2)"><rect x="0.6" y="0.6" width="16" height="16.600" rx="3.2" fill="#fff" stroke="#6C9BD8" stroke-width="1.2"/><path d="M8 4.400v6.800M5.900 4.400L3.800 6.800M10.400 4.400L12.200 6.800M3.600 9.500v2.300M12.500 9.500v2.300" stroke="#10173F" stroke-width="0.9" fill="none"/><rect x="5.3" y="2.400" width="5.500" height="2" fill="#9DC0F4" stroke="#1B2A7A" stroke-width="0.8"/><rect x="2.4" y="6.900" width="3.200" height="2.600" fill="#4455CC" stroke="#10173F" stroke-width="0.8"/><rect x="10.500" y="6.900" width="3.300" height="2.600" fill="#B5C46E" stroke="#10173F" stroke-width="0.8"/><rect x="2.500" y="11.900" width="2.300" height="2.600" fill="#fff" stroke="#10301F" stroke-width="0.8"/><rect x="6.400" y="11.100" width="3.300" height="2.500" fill="#F0A070" stroke="#5A2A10" stroke-width="0.8"/><rect x="11.400" y="11.800" width="2.400" height="2.700" fill="#2636A8" stroke="#10173F" stroke-width="0.8"/></g>
<g transform="translate(2348.2,102.4)"><rect x="0.6" y="0.6" width="16" height="16.600" rx="3.2" fill="#fff" stroke="#6C9BD8" stroke-width="1.2"/><rect x="3.4" y="2.5" width="10.800" height="12.800" fill="#FFFFF2" stroke="#10173F" stroke-width="0.95"/><rect x="8.6" y="3" width="5.1" height="6" fill="#A9C6EA"/><path d="M8.6 9l2.200-3.400 1.500 1.800 .8-.9 .6 2.500z" fill="#2F6B2F"/><rect x="11.4" y="3.200" width="2" height="1.700" fill="#F2A860"/><path d="M8.1 2.500v7h6.100" fill="none" stroke="#10173F" stroke-width="0.9"/><path d="M5 5.400h1.700M5 7.400h1.700M5 9.300h1.700M5 11.400h7.700M5 13.400h7.700" stroke="#5A5320" stroke-width="0.8"/></g>
<g transform="translate(2365.6,102.4)"><rect x="0.6" y="0.6" width="16" height="16.600" rx="3.2" fill="#fff" stroke="#6C9BD8" stroke-width="1.2"/><path d="M8 4.400v6.800M5.900 4.400L3.800 6.800M10.400 4.400L12.200 6.800M3.600 9.500v2.300M12.500 9.500v2.300" stroke="#10173F" stroke-width="0.9" fill="none"/><rect x="5.3" y="2.400" width="5.500" height="2" fill="#9DC0F4" stroke="#1B2A7A" stroke-width="0.8"/><rect x="2.4" y="6.900" width="3.200" height="2.600" fill="#4455CC" stroke="#10173F" stroke-width="0.8"/><rect x="10.500" y="6.900" width="3.300" height="2.600" fill="#B5C46E" stroke="#10173F" stroke-width="0.8"/><rect x="2.500" y="11.900" width="2.300" height="2.600" fill="#fff" stroke="#10301F" stroke-width="0.8"/><rect x="6.400" y="11.100" width="3.300" height="2.500" fill="#F0A070" stroke="#5A2A10" stroke-width="0.8"/><rect x="11.400" y="11.800" width="2.400" height="2.700" fill="#2636A8" stroke="#10173F" stroke-width="0.8"/></g>
<g transform="translate(2225.8,1754.9)"><rect x="0.6" y="0.6" width="16" height="16.600" rx="3.2" fill="#fff" stroke="#6C9BD8" stroke-width="1.2"/><rect x="3.4" y="2.5" width="10.800" height="12.800" fill="#FFFFF2" stroke="#10173F" stroke-width="0.95"/><rect x="8.6" y="3" width="5.1" height="6" fill="#A9C6EA"/><path d="M8.6 9l2.200-3.400 1.500 1.800 .8-.9 .6 2.500z" fill="#2F6B2F"/><rect x="11.4" y="3.200" width="2" height="1.700" fill="#F2A860"/><path d="M8.1 2.500v7h6.100" fill="none" stroke="#10173F" stroke-width="0.9"/><path d="M5 5.400h1.700M5 7.400h1.700M5 9.300h1.700M5 11.400h7.700M5 13.400h7.700" stroke="#5A5320" stroke-width="0.8"/></g>
</svg></body></html>
